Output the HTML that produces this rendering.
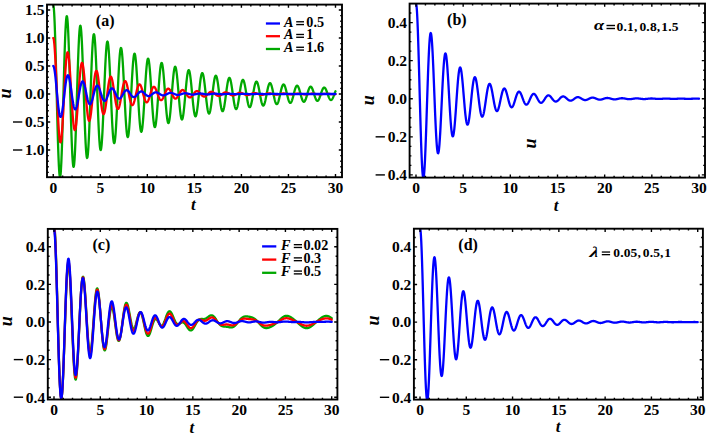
<!DOCTYPE html>
<html><head><meta charset="utf-8"><style>
html,body{margin:0;padding:0;background:#fff;}
body{width:708px;height:436px;overflow:hidden;}
svg{display:block;}
</style></head><body>
<svg width="708" height="436" viewBox="0 0 708 436">
<rect width="708" height="436" fill="#fff"/>
<clipPath id="clipa"><rect x="47.0" y="4.6" width="295.00" height="172.60"/></clipPath>
<g clip-path="url(#clipa)" fill="none" stroke-width="2.3" stroke-linejoin="round" stroke-linecap="round">
<path stroke="#00a800" d="M53.25,5.24 L53.44,5.58 L53.63,6.60 L53.81,8.28 L54.00,10.60 L54.19,13.54 L54.38,17.09 L54.57,21.21 L54.76,25.87 L54.94,31.02 L55.13,36.64 L55.32,42.68 L55.51,49.08 L55.70,55.80 L55.88,62.78 L56.07,69.98 L56.26,77.33 L56.45,84.79 L56.64,92.28 L56.83,99.76 L57.01,107.18 L57.20,114.46 L57.39,121.56 L57.58,128.43 L57.77,135.01 L57.95,141.25 L58.14,147.11 L58.33,152.55 L58.52,157.52 L58.71,162.00 L58.89,165.93 L59.08,169.31 L59.27,172.11 L59.46,174.29 L59.65,175.87 L59.84,176.81 L60.02,177.12 L60.21,176.80 L60.40,175.85 L60.59,174.28 L60.78,172.10 L60.96,169.34 L61.15,166.02 L61.34,162.16 L61.53,157.80 L61.72,152.97 L61.91,147.71 L62.09,142.06 L62.28,136.07 L62.47,129.78 L62.66,123.23 L62.85,116.49 L63.03,109.61 L63.22,102.63 L63.41,95.61 L63.60,88.60 L63.79,81.66 L63.98,74.84 L64.16,68.19 L64.35,61.76 L64.54,55.60 L64.73,49.75 L64.92,44.26 L65.10,39.17 L65.29,34.51 L65.48,30.33 L65.67,26.64 L65.86,23.47 L66.04,20.86 L66.23,18.81 L66.42,17.34 L66.61,16.45 L66.80,16.16 L66.99,16.47 L67.17,17.36 L67.36,18.83 L67.55,20.86 L67.74,23.44 L67.93,26.56 L68.11,30.17 L68.30,34.25 L68.49,38.77 L68.68,43.70 L68.87,48.99 L69.06,54.61 L69.24,60.50 L69.43,66.62 L69.62,72.94 L69.81,79.38 L70.00,85.92 L70.18,92.49 L70.37,99.05 L70.56,105.55 L70.75,111.94 L70.94,118.17 L71.13,124.19 L71.31,129.96 L71.50,135.44 L71.69,140.58 L71.88,145.35 L72.07,149.71 L72.25,153.63 L72.44,157.08 L72.63,160.04 L72.82,162.49 L73.01,164.41 L73.19,165.79 L73.38,166.62 L73.57,166.89 L73.76,166.61 L73.95,165.77 L74.14,164.40 L74.32,162.49 L74.51,160.07 L74.70,157.16 L74.89,153.78 L75.08,149.95 L75.26,145.72 L75.45,141.10 L75.64,136.15 L75.83,130.89 L76.02,125.37 L76.21,119.64 L76.39,113.73 L76.58,107.69 L76.77,101.57 L76.96,95.41 L77.15,89.27 L77.33,83.18 L77.52,77.20 L77.71,71.37 L77.90,65.73 L78.09,60.32 L78.28,55.20 L78.46,50.38 L78.65,45.92 L78.84,41.83 L79.03,38.16 L79.22,34.93 L79.40,32.15 L79.59,29.86 L79.78,28.06 L79.97,26.77 L80.16,26.00 L80.35,25.74 L80.53,26.01 L80.72,26.79 L80.91,28.08 L81.10,29.86 L81.29,32.13 L81.47,34.86 L81.66,38.02 L81.85,41.60 L82.04,45.57 L82.23,49.89 L82.41,54.53 L82.60,59.45 L82.79,64.62 L82.98,69.99 L83.17,75.53 L83.36,81.18 L83.54,86.91 L83.73,92.68 L83.92,98.43 L84.11,104.13 L84.30,109.73 L84.48,115.19 L84.67,120.48 L84.86,125.54 L85.05,130.34 L85.24,134.85 L85.43,139.03 L85.61,142.85 L85.80,146.29 L85.99,149.32 L86.18,151.92 L86.37,154.06 L86.55,155.75 L86.74,156.96 L86.93,157.68 L87.12,157.92 L87.31,157.67 L87.50,156.94 L87.68,155.73 L87.87,154.06 L88.06,151.94 L88.25,149.39 L88.44,146.42 L88.62,143.07 L88.81,139.35 L89.00,135.31 L89.19,130.96 L89.38,126.35 L89.56,121.51 L89.75,116.48 L89.94,111.30 L90.13,106.00 L90.32,100.64 L90.51,95.24 L90.69,89.85 L90.88,84.51 L91.07,79.27 L91.26,74.15 L91.45,69.21 L91.63,64.47 L91.82,59.97 L92.01,55.75 L92.20,51.83 L92.39,48.25 L92.58,45.03 L92.76,42.20 L92.95,39.77 L93.14,37.75 L93.33,36.18 L93.52,35.05 L93.70,34.37 L93.89,34.14 L94.08,34.38 L94.27,35.06 L94.46,36.19 L94.65,37.76 L94.83,39.74 L95.02,42.13 L95.21,44.91 L95.40,48.05 L95.59,51.53 L95.77,55.32 L95.96,59.39 L96.15,63.71 L96.34,68.24 L96.53,72.95 L96.71,77.80 L96.90,82.76 L97.09,87.79 L97.28,92.84 L97.47,97.89 L97.66,102.88 L97.84,107.80 L98.03,112.59 L98.22,117.22 L98.41,121.65 L98.60,125.87 L98.78,129.82 L98.97,133.49 L99.16,136.84 L99.35,139.85 L99.54,142.51 L99.73,144.79 L99.91,146.67 L100.10,148.15 L100.29,149.21 L100.48,149.84 L100.67,150.05 L100.85,149.83 L101.04,149.19 L101.23,148.14 L101.42,146.67 L101.61,144.81 L101.80,142.57 L101.98,139.97 L102.17,137.03 L102.36,133.77 L102.55,130.22 L102.74,126.41 L102.92,122.37 L103.11,118.13 L103.30,113.71 L103.49,109.17 L103.68,104.53 L103.87,99.82 L104.05,95.08 L104.24,90.36 L104.43,85.68 L104.62,81.08 L104.81,76.60 L104.99,72.26 L105.18,68.10 L105.37,64.16 L105.56,60.46 L105.75,57.02 L105.93,53.88 L106.12,51.06 L106.31,48.57 L106.50,46.44 L106.69,44.68 L106.88,43.29 L107.06,42.30 L107.25,41.71 L107.44,41.51 L107.63,41.71 L107.82,42.31 L108.00,43.30 L108.19,44.68 L108.38,46.42 L108.57,48.52 L108.76,50.95 L108.95,53.71 L109.13,56.76 L109.32,60.08 L109.51,63.65 L109.70,67.43 L109.89,71.41 L110.07,75.54 L110.26,79.79 L110.45,84.14 L110.64,88.55 L110.83,92.98 L111.02,97.41 L111.20,101.79 L111.39,106.10 L111.58,110.30 L111.77,114.36 L111.96,118.25 L112.14,121.94 L112.33,125.41 L112.52,128.63 L112.71,131.57 L112.90,134.21 L113.08,136.54 L113.27,138.54 L113.46,140.19 L113.65,141.48 L113.84,142.41 L114.03,142.97 L114.21,143.15 L114.40,142.96 L114.59,142.40 L114.78,141.47 L114.97,140.19 L115.15,138.56 L115.34,136.59 L115.53,134.31 L115.72,131.73 L115.91,128.88 L116.10,125.76 L116.28,122.42 L116.47,118.88 L116.66,115.16 L116.85,111.29 L117.04,107.30 L117.22,103.23 L117.41,99.10 L117.60,94.95 L117.79,90.81 L117.98,86.70 L118.17,82.67 L118.35,78.74 L118.54,74.93 L118.73,71.29 L118.92,67.83 L119.11,64.59 L119.29,61.57 L119.48,58.82 L119.67,56.34 L119.86,54.16 L120.05,52.29 L120.23,50.75 L120.42,49.53 L120.61,48.66 L120.80,48.14 L120.99,47.97 L121.18,48.15 L121.36,48.67 L121.55,49.54 L121.74,50.75 L121.93,52.28 L122.12,54.12 L122.30,56.25 L122.49,58.67 L122.68,61.34 L122.87,64.25 L123.06,67.38 L123.25,70.70 L123.43,74.19 L123.62,77.81 L123.81,81.54 L124.00,85.36 L124.19,89.22 L124.37,93.11 L124.56,96.99 L124.75,100.83 L124.94,104.61 L125.13,108.29 L125.32,111.85 L125.50,115.27 L125.69,118.50 L125.88,121.54 L126.07,124.36 L126.26,126.94 L126.44,129.26 L126.63,131.30 L126.82,133.06 L127.01,134.50 L127.20,135.64 L127.39,136.45 L127.57,136.94 L127.76,137.10 L127.95,136.94 L128.14,136.44 L128.33,135.63 L128.51,134.50 L128.70,133.07 L128.89,131.35 L129.08,129.35 L129.27,127.09 L129.45,124.58 L129.64,121.85 L129.83,118.92 L130.02,115.82 L130.21,112.55 L130.40,109.16 L130.58,105.67 L130.77,102.09 L130.96,98.47 L131.15,94.83 L131.34,91.20 L131.52,87.60 L131.71,84.06 L131.90,80.62 L132.09,77.28 L132.28,74.09 L132.47,71.05 L132.65,68.21 L132.84,65.57 L133.03,63.15 L133.22,60.98 L133.41,59.07 L133.59,57.43 L133.78,56.07 L133.97,55.01 L134.16,54.24 L134.35,53.79 L134.54,53.63 L134.72,53.79 L134.91,54.25 L135.10,55.02 L135.29,56.07 L135.48,57.41 L135.66,59.02 L135.85,60.90 L136.04,63.01 L136.23,65.36 L136.42,67.92 L136.60,70.66 L136.79,73.57 L136.98,76.63 L137.17,79.80 L137.36,83.08 L137.55,86.42 L137.73,89.81 L137.92,93.22 L138.11,96.62 L138.30,99.99 L138.49,103.30 L138.67,106.53 L138.86,109.66 L139.05,112.65 L139.24,115.49 L139.43,118.15 L139.62,120.63 L139.80,122.89 L139.99,124.92 L140.18,126.71 L140.37,128.25 L140.56,129.52 L140.74,130.52 L140.93,131.23 L141.12,131.66 L141.31,131.80 L141.50,131.65 L141.69,131.22 L141.87,130.51 L142.06,129.52 L142.25,128.26 L142.44,126.75 L142.63,125.00 L142.81,123.02 L143.00,120.82 L143.19,118.43 L143.38,115.86 L143.57,113.13 L143.75,110.27 L143.94,107.29 L144.13,104.23 L144.32,101.10 L144.51,97.92 L144.70,94.73 L144.88,91.55 L145.07,88.39 L145.26,85.29 L145.45,82.26 L145.64,79.34 L145.82,76.54 L146.01,73.88 L146.20,71.38 L146.39,69.06 L146.58,66.95 L146.77,65.04 L146.95,63.37 L147.14,61.93 L147.33,60.74 L147.52,59.81 L147.71,59.14 L147.89,58.73 L148.08,58.60 L148.27,58.74 L148.46,59.14 L148.65,59.81 L148.84,60.74 L149.02,61.91 L149.21,63.33 L149.40,64.97 L149.59,66.83 L149.78,68.89 L149.96,71.13 L150.15,73.53 L150.34,76.08 L150.53,78.76 L150.72,81.55 L150.91,84.42 L151.09,87.35 L151.28,90.33 L151.47,93.31 L151.66,96.30 L151.85,99.25 L152.03,102.16 L152.22,104.99 L152.41,107.73 L152.60,110.35 L152.79,112.84 L152.97,115.18 L153.16,117.35 L153.35,119.33 L153.54,121.12 L153.73,122.69 L153.92,124.03 L154.10,125.15 L154.29,126.02 L154.48,126.65 L154.67,127.02 L154.86,127.15 L155.04,127.02 L155.23,126.64 L155.42,126.01 L155.61,125.15 L155.80,124.05 L155.99,122.72 L156.17,121.18 L156.36,119.44 L156.55,117.52 L156.74,115.42 L156.93,113.17 L157.11,110.78 L157.30,108.27 L157.49,105.66 L157.68,102.97 L157.87,100.22 L158.06,97.44 L158.24,94.64 L158.43,91.85 L158.62,89.08 L158.81,86.36 L159.00,83.71 L159.18,81.14 L159.37,78.69 L159.56,76.35 L159.75,74.16 L159.94,72.13 L160.12,70.28 L160.31,68.61 L160.50,67.14 L160.69,65.87 L160.88,64.83 L161.07,64.01 L161.25,63.43 L161.44,63.07 L161.63,62.96 L161.82,63.08 L162.01,63.43 L162.19,64.02 L162.38,64.83 L162.57,65.86 L162.76,67.10 L162.95,68.54 L163.14,70.17 L163.32,71.98 L163.51,73.94 L163.70,76.05 L163.89,78.29 L164.08,80.64 L164.26,83.08 L164.45,85.60 L164.64,88.17 L164.83,90.78 L165.02,93.40 L165.21,96.02 L165.39,98.61 L165.58,101.15 L165.77,103.64 L165.96,106.04 L166.15,108.34 L166.33,110.52 L166.52,112.58 L166.71,114.48 L166.90,116.22 L167.09,117.78 L167.27,119.16 L167.46,120.34 L167.65,121.31 L167.84,122.08 L168.03,122.63 L168.22,122.96 L168.40,123.07 L168.59,122.96 L168.78,122.62 L168.97,122.07 L169.16,121.31 L169.34,120.35 L169.53,119.19 L169.72,117.84 L169.91,116.31 L170.10,114.62 L170.29,112.78 L170.47,110.81 L170.66,108.71 L170.85,106.51 L171.04,104.22 L171.23,101.87 L171.41,99.46 L171.60,97.02 L171.79,94.56 L171.98,92.11 L172.17,89.69 L172.36,87.30 L172.54,84.97 L172.73,82.73 L172.92,80.57 L173.11,78.53 L173.30,76.61 L173.48,74.82 L173.67,73.20 L173.86,71.73 L174.05,70.44 L174.24,69.34 L174.43,68.42 L174.61,67.70 L174.80,67.19 L174.99,66.88 L175.18,66.78 L175.37,66.88 L175.55,67.20 L175.74,67.71 L175.93,68.42 L176.12,69.33 L176.31,70.41 L176.49,71.68 L176.68,73.10 L176.87,74.69 L177.06,76.41 L177.25,78.26 L177.44,80.22 L177.62,82.28 L177.81,84.43 L178.00,86.63 L178.19,88.89 L178.38,91.17 L178.56,93.47 L178.75,95.77 L178.94,98.04 L179.13,100.27 L179.32,102.45 L179.51,104.56 L179.69,106.58 L179.88,108.49 L180.07,110.29 L180.26,111.96 L180.45,113.48 L180.63,114.85 L180.82,116.06 L181.01,117.10 L181.20,117.95 L181.39,118.62 L181.58,119.11 L181.76,119.40 L181.95,119.49 L182.14,119.39 L182.33,119.10 L182.52,118.62 L182.70,117.95 L182.89,117.11 L183.08,116.09 L183.27,114.90 L183.46,113.57 L183.64,112.09 L183.83,110.47 L184.02,108.74 L184.21,106.90 L184.40,104.97 L184.59,102.97 L184.77,100.90 L184.96,98.79 L185.15,96.65 L185.34,94.49 L185.53,92.34 L185.71,90.22 L185.90,88.12 L186.09,86.08 L186.28,84.11 L186.47,82.22 L186.66,80.43 L186.84,78.75 L187.03,77.18 L187.22,75.76 L187.41,74.47 L187.60,73.34 L187.78,72.37 L187.97,71.57 L188.16,70.94 L188.35,70.49 L188.54,70.22 L188.73,70.13 L188.91,70.22 L189.10,70.49 L189.29,70.95 L189.48,71.57 L189.67,72.36 L189.85,73.32 L190.04,74.42 L190.23,75.68 L190.42,77.06 L190.61,78.57 L190.79,80.20 L190.98,81.92 L191.17,83.73 L191.36,85.60 L191.55,87.54 L191.74,89.52 L191.92,91.52 L192.11,93.54 L192.30,95.55 L192.49,97.54 L192.68,99.50 L192.86,101.41 L193.05,103.26 L193.24,105.03 L193.43,106.71 L193.62,108.28 L193.81,109.75 L193.99,111.08 L194.18,112.29 L194.37,113.35 L194.56,114.25 L194.75,115.01 L194.93,115.59 L195.12,116.02 L195.31,116.27 L195.50,116.35 L195.69,116.27 L195.88,116.01 L196.06,115.59 L196.25,115.00 L196.44,114.26 L196.63,113.37 L196.82,112.33 L197.00,111.16 L197.19,109.86 L197.38,108.45 L197.57,106.93 L197.76,105.31 L197.95,103.62 L198.13,101.86 L198.32,100.05 L198.51,98.20 L198.70,96.32 L198.89,94.43 L199.07,92.55 L199.26,90.68 L199.45,88.85 L199.64,87.06 L199.83,85.33 L200.01,83.67 L200.20,82.10 L200.39,80.62 L200.58,79.25 L200.77,78.00 L200.96,76.88 L201.14,75.88 L201.33,75.03 L201.52,74.33 L201.71,73.78 L201.90,73.38 L202.08,73.15 L202.27,73.07 L202.46,73.15 L202.65,73.39 L202.84,73.78 L203.03,74.33 L203.21,75.03 L203.40,75.86 L203.59,76.83 L203.78,77.93 L203.97,79.15 L204.15,80.47 L204.34,81.90 L204.53,83.41 L204.72,84.99 L204.91,86.64 L205.10,88.33 L205.28,90.07 L205.47,91.83 L205.66,93.59 L205.85,95.36 L206.04,97.11 L206.22,98.83 L206.41,100.50 L206.60,102.12 L206.79,103.67 L206.98,105.14 L207.16,106.53 L207.35,107.81 L207.54,108.98 L207.73,110.04 L207.92,110.97 L208.11,111.76 L208.29,112.42 L208.48,112.94 L208.67,113.31 L208.86,113.53 L209.05,113.60 L209.23,113.53 L209.42,113.30 L209.61,112.93 L209.80,112.42 L209.99,111.77 L210.18,110.99 L210.36,110.08 L210.55,109.05 L210.74,107.91 L210.93,106.67 L211.12,105.34 L211.30,103.92 L211.49,102.44 L211.68,100.89 L211.87,99.31 L212.06,97.68 L212.25,96.03 L212.43,94.38 L212.62,92.73 L212.81,91.09 L213.00,89.48 L213.19,87.91 L213.37,86.40 L213.56,84.94 L213.75,83.56 L213.94,82.27 L214.13,81.07 L214.31,79.97 L214.50,78.98 L214.69,78.11 L214.88,77.37 L215.07,76.75 L215.26,76.27 L215.44,75.92 L215.63,75.71 L215.82,75.64 L216.01,75.71 L216.20,75.92 L216.38,76.27 L216.57,76.75 L216.76,77.36 L216.95,78.09 L217.14,78.95 L217.33,79.91 L217.51,80.98 L217.70,82.14 L217.89,83.39 L218.08,84.71 L218.27,86.10 L218.45,87.54 L218.64,89.03 L218.83,90.55 L219.02,92.09 L219.21,93.64 L219.40,95.19 L219.58,96.72 L219.77,98.23 L219.96,99.70 L220.15,101.12 L220.34,102.48 L220.52,103.77 L220.71,104.98 L220.90,106.11 L221.09,107.14 L221.28,108.06 L221.47,108.88 L221.65,109.58 L221.84,110.15 L222.03,110.61 L222.22,110.93 L222.41,111.13 L222.59,111.19 L222.78,111.12 L222.97,110.93 L223.16,110.60 L223.35,110.15 L223.53,109.58 L223.72,108.90 L223.91,108.10 L224.10,107.20 L224.29,106.20 L224.48,105.11 L224.66,103.94 L224.85,102.70 L225.04,101.40 L225.23,100.05 L225.42,98.65 L225.60,97.23 L225.79,95.78 L225.98,94.33 L226.17,92.88 L226.36,91.45 L226.55,90.04 L226.73,88.66 L226.92,87.33 L227.11,86.06 L227.30,84.85 L227.49,83.71 L227.67,82.66 L227.86,81.70 L228.05,80.83 L228.24,80.07 L228.43,79.41 L228.62,78.87 L228.80,78.45 L228.99,78.15 L229.18,77.96 L229.37,77.90 L229.56,77.96 L229.74,78.15 L229.93,78.45 L230.12,78.87 L230.31,79.41 L230.50,80.05 L230.68,80.80 L230.87,81.64 L231.06,82.58 L231.25,83.60 L231.44,84.69 L231.63,85.85 L231.81,87.07 L232.00,88.34 L232.19,89.64 L232.38,90.98 L232.57,92.33 L232.75,93.69 L232.94,95.05 L233.13,96.39 L233.32,97.71 L233.51,99.00 L233.70,100.24 L233.88,101.44 L234.07,102.57 L234.26,103.63 L234.45,104.62 L234.64,105.52 L234.82,106.33 L235.01,107.05 L235.20,107.66 L235.39,108.17 L235.58,108.56 L235.77,108.85 L235.95,109.02 L236.14,109.07 L236.33,109.02 L236.52,108.84 L236.71,108.56 L236.89,108.16 L237.08,107.66 L237.27,107.06 L237.46,106.36 L237.65,105.57 L237.83,104.70 L238.02,103.74 L238.21,102.72 L238.40,101.63 L238.59,100.49 L238.78,99.30 L238.96,98.08 L239.15,96.83 L239.34,95.56 L239.53,94.29 L239.72,93.02 L239.90,91.76 L240.09,90.53 L240.28,89.32 L240.47,88.15 L240.66,87.04 L240.85,85.97 L241.03,84.98 L241.22,84.06 L241.41,83.21 L241.60,82.45 L241.79,81.78 L241.97,81.21 L242.16,80.73 L242.35,80.36 L242.54,80.10 L242.73,79.94 L242.92,79.88 L243.10,79.94 L243.29,80.10 L243.48,80.37 L243.67,80.74 L243.86,81.20 L244.04,81.77 L244.23,82.42 L244.42,83.16 L244.61,83.98 L244.80,84.88 L244.99,85.84 L245.17,86.86 L245.36,87.92 L245.55,89.03 L245.74,90.18 L245.93,91.35 L246.11,92.53 L246.30,93.73 L246.49,94.92 L246.68,96.10 L246.87,97.25 L247.05,98.38 L247.24,99.48 L247.43,100.52 L247.62,101.52 L247.81,102.45 L248.00,103.31 L248.18,104.10 L248.37,104.81 L248.56,105.44 L248.75,105.98 L248.94,106.42 L249.12,106.77 L249.31,107.02 L249.50,107.17 L249.69,107.22 L249.88,107.17 L250.07,107.02 L250.25,106.77 L250.44,106.42 L250.63,105.98 L250.82,105.45 L251.01,104.84 L251.19,104.15 L251.38,103.38 L251.57,102.54 L251.76,101.64 L251.95,100.69 L252.14,99.69 L252.32,98.65 L252.51,97.58 L252.70,96.48 L252.89,95.37 L253.08,94.26 L253.26,93.14 L253.45,92.04 L253.64,90.95 L253.83,89.90 L254.02,88.87 L254.20,87.89 L254.39,86.96 L254.58,86.09 L254.77,85.28 L254.96,84.54 L255.15,83.87 L255.33,83.29 L255.52,82.78 L255.71,82.37 L255.90,82.04 L256.09,81.81 L256.27,81.67 L256.46,81.62 L256.65,81.67 L256.84,81.81 L257.03,82.04 L257.22,82.37 L257.40,82.78 L257.59,83.27 L257.78,83.85 L257.97,84.50 L258.16,85.22 L258.34,86.00 L258.53,86.84 L258.72,87.73 L258.91,88.67 L259.10,89.65 L259.29,90.65 L259.47,91.68 L259.66,92.71 L259.85,93.76 L260.04,94.80 L260.23,95.84 L260.41,96.85 L260.60,97.84 L260.79,98.80 L260.98,99.72 L261.17,100.59 L261.35,101.41 L261.54,102.17 L261.73,102.86 L261.92,103.48 L262.11,104.03 L262.30,104.50 L262.48,104.89 L262.67,105.20 L262.86,105.42 L263.05,105.55 L263.24,105.59 L263.42,105.55 L263.61,105.41 L263.80,105.20 L263.99,104.89 L264.18,104.51 L264.37,104.04 L264.55,103.51 L264.74,102.90 L264.93,102.22 L265.12,101.49 L265.31,100.70 L265.49,99.87 L265.68,98.99 L265.87,98.08 L266.06,97.14 L266.25,96.18 L266.44,95.20 L266.62,94.22 L266.81,93.25 L267.00,92.28 L267.19,91.33 L267.38,90.40 L267.56,89.50 L267.75,88.64 L267.94,87.83 L268.13,87.06 L268.32,86.35 L268.51,85.70 L268.69,85.12 L268.88,84.61 L269.07,84.16 L269.26,83.80 L269.45,83.51 L269.63,83.31 L269.82,83.18 L270.01,83.14 L270.20,83.19 L270.39,83.31 L270.57,83.52 L270.76,83.80 L270.95,84.16 L271.14,84.59 L271.33,85.10 L271.52,85.67 L271.70,86.30 L271.89,86.98 L272.08,87.72 L272.27,88.51 L272.46,89.33 L272.64,90.18 L272.83,91.06 L273.02,91.96 L273.21,92.87 L273.40,93.79 L273.59,94.70 L273.77,95.61 L273.96,96.50 L274.15,97.37 L274.34,98.21 L274.53,99.02 L274.71,99.78 L274.90,100.50 L275.09,101.16 L275.28,101.77 L275.47,102.32 L275.66,102.80 L275.84,103.21 L276.03,103.55 L276.22,103.82 L276.41,104.01 L276.60,104.13 L276.78,104.17 L276.97,104.13 L277.16,104.01 L277.35,103.82 L277.54,103.55 L277.72,103.21 L277.91,102.81 L278.10,102.34 L278.29,101.80 L278.48,101.21 L278.67,100.57 L278.85,99.88 L279.04,99.15 L279.23,98.38 L279.42,97.58 L279.61,96.75 L279.79,95.91 L279.98,95.06 L280.17,94.20 L280.36,93.34 L280.55,92.49 L280.74,91.66 L280.92,90.84 L281.11,90.06 L281.30,89.30 L281.49,88.59 L281.68,87.92 L281.86,87.29 L282.05,86.72 L282.24,86.21 L282.43,85.76 L282.62,85.37 L282.81,85.05 L282.99,84.80 L283.18,84.62 L283.37,84.52 L283.56,84.48 L283.75,84.52 L283.93,84.63 L284.12,84.81 L284.31,85.05 L284.50,85.37 L284.69,85.75 L284.87,86.19 L285.06,86.69 L285.25,87.25 L285.44,87.85 L285.63,88.50 L285.82,89.18 L286.00,89.90 L286.19,90.65 L286.38,91.42 L286.57,92.21 L286.76,93.01 L286.94,93.82 L287.13,94.62 L287.32,95.41 L287.51,96.19 L287.70,96.96 L287.89,97.69 L288.07,98.40 L288.26,99.07 L288.45,99.70 L288.64,100.28 L288.83,100.81 L289.01,101.29 L289.20,101.72 L289.39,102.08 L289.58,102.38 L289.77,102.61 L289.96,102.78 L290.14,102.88 L290.33,102.91 L290.52,102.88 L290.71,102.78 L290.90,102.61 L291.08,102.38 L291.27,102.08 L291.46,101.72 L291.65,101.31 L291.84,100.84 L292.03,100.32 L292.21,99.76 L292.40,99.15 L292.59,98.51 L292.78,97.84 L292.97,97.14 L293.15,96.41 L293.34,95.67 L293.53,94.93 L293.72,94.17 L293.91,93.42 L294.09,92.68 L294.28,91.95 L294.47,91.23 L294.66,90.54 L294.85,89.88 L295.04,89.25 L295.22,88.67 L295.41,88.12 L295.60,87.62 L295.79,87.17 L295.98,86.78 L296.16,86.44 L296.35,86.16 L296.54,85.94 L296.73,85.78 L296.92,85.68 L297.11,85.65 L297.29,85.68 L297.48,85.78 L297.67,85.94 L297.86,86.16 L298.05,86.43 L298.23,86.77 L298.42,87.15 L298.61,87.59 L298.80,88.08 L298.99,88.61 L299.18,89.17 L299.36,89.77 L299.55,90.41 L299.74,91.06 L299.93,91.74 L300.12,92.43 L300.30,93.13 L300.49,93.84 L300.68,94.54 L300.87,95.24 L301.06,95.92 L301.24,96.59 L301.43,97.24 L301.62,97.86 L301.81,98.44 L302.00,99.00 L302.19,99.51 L302.37,99.97 L302.56,100.40 L302.75,100.77 L302.94,101.08 L303.13,101.35 L303.31,101.55 L303.50,101.70 L303.69,101.79 L303.88,101.82 L304.07,101.79 L304.26,101.70 L304.44,101.55 L304.63,101.35 L304.82,101.09 L305.01,100.77 L305.20,100.41 L305.38,100.00 L305.57,99.55 L305.76,99.05 L305.95,98.52 L306.14,97.96 L306.33,97.36 L306.51,96.75 L306.70,96.12 L306.89,95.47 L307.08,94.81 L307.27,94.15 L307.45,93.49 L307.64,92.84 L307.83,92.20 L308.02,91.57 L308.21,90.97 L308.39,90.39 L308.58,89.84 L308.77,89.32 L308.96,88.84 L309.15,88.41 L309.34,88.01 L309.52,87.66 L309.71,87.37 L309.90,87.12 L310.09,86.93 L310.28,86.79 L310.46,86.71 L310.65,86.68 L310.84,86.71 L311.03,86.79 L311.22,86.93 L311.41,87.12 L311.59,87.36 L311.78,87.66 L311.97,88.00 L312.16,88.38 L312.35,88.81 L312.53,89.27 L312.72,89.77 L312.91,90.29 L313.10,90.85 L313.29,91.43 L313.48,92.02 L313.66,92.63 L313.85,93.24 L314.04,93.86 L314.23,94.48 L314.42,95.09 L314.60,95.69 L314.79,96.27 L314.98,96.84 L315.17,97.38 L315.36,97.90 L315.55,98.38 L315.73,98.83 L315.92,99.24 L316.11,99.61 L316.30,99.93 L316.49,100.21 L316.67,100.44 L316.86,100.62 L317.05,100.75 L317.24,100.83 L317.43,100.86 L317.61,100.83 L317.80,100.75 L317.99,100.62 L318.18,100.44 L318.37,100.21 L318.56,99.94 L318.74,99.62 L318.93,99.26 L319.12,98.86 L319.31,98.43 L319.50,97.96 L319.68,97.47 L319.87,96.95 L320.06,96.41 L320.25,95.86 L320.44,95.29 L320.63,94.71 L320.81,94.13 L321.00,93.55 L321.19,92.98 L321.38,92.42 L321.57,91.87 L321.75,91.34 L321.94,90.83 L322.13,90.35 L322.32,89.90 L322.51,89.48 L322.70,89.09 L322.88,88.75 L323.07,88.44 L323.26,88.18 L323.45,87.97 L323.64,87.80 L323.82,87.68 L324.01,87.60 L324.20,87.58 L324.39,87.61 L324.58,87.68 L324.76,87.80 L324.95,87.97 L325.14,88.18 L325.33,88.44 L325.52,88.74 L325.71,89.07 L325.89,89.45 L326.08,89.85 L326.27,90.29 L326.46,90.75 L326.65,91.24 L326.83,91.74 L327.02,92.26 L327.21,92.79 L327.40,93.33 L327.59,93.88 L327.78,94.42 L327.96,94.95 L328.15,95.48 L328.34,95.99 L328.53,96.49 L328.72,96.97 L328.90,97.42 L329.09,97.84 L329.28,98.23 L329.47,98.59 L329.66,98.92 L329.85,99.20 L330.03,99.45 L330.22,99.65 L330.41,99.81 L330.60,99.92 L330.79,99.99 L330.97,100.01 L331.16,99.99 L331.35,99.92 L331.54,99.81 L331.73,99.65 L331.91,99.45 L332.10,99.21 L332.29,98.93 L332.48,98.61 L332.67,98.27 L332.86,97.88 L333.04,97.48 L333.23,97.04 L333.42,96.59 L333.61,96.11 L333.80,95.63 L333.98,95.13 L334.17,94.62 L334.36,94.12 L334.55,93.61 L334.74,93.11 L334.93,92.61 L335.11,92.13 L335.30,91.67 L335.49,91.22"/>
<path stroke="#ff0000" d="M53.25,38.00 L53.44,38.17 L53.63,38.72 L53.81,39.64 L54.00,40.92 L54.19,42.55 L54.38,44.51 L54.57,46.79 L54.76,49.37 L54.94,52.23 L55.13,55.36 L55.32,58.72 L55.51,62.29 L55.70,66.05 L55.88,69.96 L56.07,74.02 L56.26,78.17 L56.45,82.40 L56.64,86.68 L56.83,90.97 L57.01,95.25 L57.20,99.49 L57.39,103.66 L57.58,107.73 L57.77,111.68 L57.95,115.48 L58.14,119.10 L58.33,122.53 L58.52,125.74 L58.71,128.71 L58.89,131.42 L59.08,133.86 L59.27,136.02 L59.46,137.87 L59.65,139.41 L59.84,140.64 L60.02,141.53 L60.21,142.11 L60.40,142.35 L60.59,142.27 L60.78,141.86 L60.96,141.13 L61.15,140.08 L61.34,138.74 L61.53,137.10 L61.72,135.19 L61.91,133.01 L62.09,130.58 L62.28,127.93 L62.47,125.07 L62.66,122.02 L62.85,118.80 L63.03,115.44 L63.22,111.97 L63.41,108.39 L63.60,104.75 L63.79,101.06 L63.98,97.36 L64.16,93.66 L64.35,89.99 L64.54,86.37 L64.73,82.84 L64.92,79.41 L65.10,76.10 L65.29,72.94 L65.48,69.94 L65.67,67.13 L65.86,64.52 L66.04,62.13 L66.23,59.98 L66.42,58.07 L66.61,56.42 L66.80,55.03 L66.99,53.92 L67.17,53.08 L67.36,52.53 L67.55,52.27 L67.74,52.28 L67.93,52.58 L68.11,53.16 L68.30,54.00 L68.49,55.11 L68.68,56.48 L68.87,58.08 L69.06,59.92 L69.24,61.97 L69.43,64.23 L69.62,66.66 L69.81,69.27 L70.00,72.02 L70.18,74.89 L70.37,77.88 L70.56,80.95 L70.75,84.08 L70.94,87.26 L71.13,90.46 L71.31,93.66 L71.50,96.83 L71.69,99.97 L71.88,103.03 L72.07,106.02 L72.25,108.90 L72.44,111.66 L72.63,114.27 L72.82,116.73 L73.01,119.02 L73.19,121.12 L73.38,123.03 L73.57,124.72 L73.76,126.19 L73.95,127.43 L74.14,128.44 L74.32,129.21 L74.51,129.73 L74.70,130.01 L74.89,130.05 L75.08,129.84 L75.26,129.39 L75.45,128.70 L75.64,127.79 L75.83,126.66 L76.02,125.31 L76.21,123.76 L76.39,122.03 L76.58,120.11 L76.77,118.04 L76.96,115.82 L77.15,113.47 L77.33,111.00 L77.52,108.44 L77.71,105.81 L77.90,103.11 L78.09,100.37 L78.28,97.61 L78.46,94.85 L78.65,92.10 L78.84,89.39 L79.03,86.72 L79.22,84.13 L79.40,81.62 L79.59,79.22 L79.78,76.93 L79.97,74.78 L80.16,72.78 L80.35,70.93 L80.53,69.25 L80.72,67.75 L80.91,66.44 L81.10,65.33 L81.29,64.42 L81.47,63.71 L81.66,63.21 L81.85,62.93 L82.04,62.86 L82.23,63.00 L82.41,63.34 L82.60,63.90 L82.79,64.65 L82.98,65.59 L83.17,66.72 L83.36,68.02 L83.54,69.49 L83.73,71.11 L83.92,72.87 L84.11,74.77 L84.30,76.77 L84.48,78.88 L84.67,81.08 L84.86,83.34 L85.05,85.66 L85.24,88.02 L85.43,90.40 L85.61,92.79 L85.80,95.17 L85.99,97.52 L86.18,99.83 L86.37,102.08 L86.55,104.26 L86.74,106.36 L86.93,108.35 L87.12,110.23 L87.31,111.99 L87.50,113.62 L87.68,115.10 L87.87,116.42 L88.06,117.59 L88.25,118.58 L88.44,119.40 L88.62,120.05 L88.81,120.51 L89.00,120.80 L89.19,120.89 L89.38,120.81 L89.56,120.55 L89.75,120.11 L89.94,119.49 L90.13,118.71 L90.32,117.77 L90.51,116.67 L90.69,115.43 L90.88,114.06 L91.07,112.56 L91.26,110.95 L91.45,109.23 L91.63,107.42 L91.82,105.54 L92.01,103.60 L92.20,101.60 L92.39,99.57 L92.58,97.52 L92.76,95.46 L92.95,93.40 L93.14,91.36 L93.33,89.36 L93.52,87.41 L93.70,85.51 L93.89,83.69 L94.08,81.94 L94.27,80.30 L94.46,78.76 L94.65,77.33 L94.83,76.03 L95.02,74.86 L95.21,73.82 L95.40,72.93 L95.59,72.19 L95.77,71.60 L95.96,71.17 L96.15,70.90 L96.34,70.78 L96.53,70.82 L96.71,71.02 L96.90,71.37 L97.09,71.87 L97.28,72.51 L97.47,73.30 L97.66,74.22 L97.84,75.27 L98.03,76.43 L98.22,77.71 L98.41,79.08 L98.60,80.54 L98.78,82.09 L98.97,83.70 L99.16,85.37 L99.35,87.09 L99.54,88.84 L99.73,90.61 L99.91,92.39 L100.10,94.16 L100.29,95.93 L100.48,97.66 L100.67,99.36 L100.85,101.01 L101.04,102.60 L101.23,104.12 L101.42,105.56 L101.61,106.90 L101.80,108.16 L101.98,109.30 L102.17,110.34 L102.36,111.26 L102.55,112.05 L102.74,112.72 L102.92,113.25 L103.11,113.65 L103.30,113.91 L103.49,114.04 L103.68,114.03 L103.87,113.89 L104.05,113.62 L104.24,113.21 L104.43,112.68 L104.62,112.02 L104.81,111.25 L104.99,110.37 L105.18,109.38 L105.37,108.30 L105.56,107.13 L105.75,105.88 L105.93,104.56 L106.12,103.18 L106.31,101.74 L106.50,100.27 L106.69,98.76 L106.88,97.24 L107.06,95.70 L107.25,94.16 L107.44,92.64 L107.63,91.13 L107.82,89.66 L108.00,88.23 L108.19,86.85 L108.38,85.52 L108.57,84.26 L108.76,83.08 L108.95,81.98 L109.13,80.97 L109.32,80.06 L109.51,79.25 L109.70,78.54 L109.89,77.94 L110.07,77.46 L110.26,77.09 L110.45,76.84 L110.64,76.70 L110.83,76.69 L111.02,76.79 L111.20,77.00 L111.39,77.33 L111.58,77.77 L111.77,78.32 L111.96,78.96 L112.14,79.71 L112.33,80.54 L112.52,81.46 L112.71,82.46 L112.90,83.52 L113.08,84.65 L113.27,85.83 L113.46,87.06 L113.65,88.33 L113.84,89.63 L114.03,90.94 L114.21,92.27 L114.40,93.59 L114.59,94.91 L114.78,96.22 L114.97,97.49 L115.15,98.74 L115.34,99.94 L115.53,101.10 L115.72,102.20 L115.91,103.23 L116.10,104.19 L116.28,105.08 L116.47,105.89 L116.66,106.61 L116.85,107.24 L117.04,107.77 L117.22,108.21 L117.41,108.55 L117.60,108.78 L117.79,108.92 L117.98,108.96 L118.17,108.89 L118.35,108.72 L118.54,108.46 L118.73,108.10 L118.92,107.64 L119.11,107.10 L119.29,106.48 L119.48,105.77 L119.67,104.99 L119.86,104.15 L120.05,103.24 L120.23,102.27 L120.42,101.26 L120.61,100.21 L120.80,99.12 L120.99,98.00 L121.18,96.87 L121.36,95.73 L121.55,94.58 L121.74,93.44 L121.93,92.31 L122.12,91.20 L122.30,90.12 L122.49,89.07 L122.68,88.07 L122.87,87.11 L123.06,86.20 L123.25,85.36 L123.43,84.58 L123.62,83.87 L123.81,83.23 L124.00,82.67 L124.19,82.19 L124.37,81.80 L124.56,81.49 L124.75,81.27 L124.94,81.13 L125.13,81.08 L125.32,81.12 L125.50,81.25 L125.69,81.46 L125.88,81.76 L126.07,82.13 L126.26,82.58 L126.44,83.11 L126.63,83.71 L126.82,84.37 L127.01,85.09 L127.20,85.86 L127.39,86.69 L127.57,87.55 L127.76,88.46 L127.95,89.39 L128.14,90.35 L128.33,91.32 L128.51,92.31 L128.70,93.30 L128.89,94.29 L129.08,95.27 L129.27,96.23 L129.45,97.17 L129.64,98.08 L129.83,98.95 L130.02,99.79 L130.21,100.58 L130.40,101.32 L130.58,102.01 L130.77,102.63 L130.96,103.19 L131.15,103.69 L131.34,104.12 L131.52,104.47 L131.71,104.76 L131.90,104.96 L132.09,105.10 L132.28,105.15 L132.47,105.13 L132.65,105.04 L132.84,104.87 L133.03,104.63 L133.22,104.32 L133.41,103.94 L133.59,103.50 L133.78,103.00 L133.97,102.44 L134.16,101.83 L134.35,101.17 L134.54,100.46 L134.72,99.72 L134.91,98.95 L135.10,98.14 L135.29,97.32 L135.48,96.48 L135.66,95.63 L135.85,94.77 L136.04,93.92 L136.23,93.07 L136.42,92.24 L136.60,91.43 L136.79,90.63 L136.98,89.87 L137.17,89.14 L137.36,88.45 L137.55,87.80 L137.73,87.20 L137.92,86.65 L138.11,86.15 L138.30,85.71 L138.49,85.33 L138.67,85.01 L138.86,84.76 L139.05,84.56 L139.24,84.44 L139.43,84.37 L139.62,84.38 L139.80,84.45 L139.99,84.58 L140.18,84.77 L140.37,85.03 L140.56,85.35 L140.74,85.72 L140.93,86.14 L141.12,86.61 L141.31,87.13 L141.50,87.70 L141.69,88.30 L141.87,88.93 L142.06,89.59 L142.25,90.28 L142.44,90.99 L142.63,91.71 L142.81,92.45 L143.00,93.18 L143.19,93.92 L143.38,94.65 L143.57,95.38 L143.75,96.08 L143.94,96.77 L144.13,97.44 L144.32,98.07 L144.51,98.68 L144.70,99.24 L144.88,99.77 L145.07,100.26 L145.26,100.69 L145.45,101.08 L145.64,101.42 L145.82,101.71 L146.01,101.94 L146.20,102.12 L146.39,102.24 L146.58,102.31 L146.77,102.31 L146.95,102.27 L147.14,102.16 L147.33,102.00 L147.52,101.79 L147.71,101.53 L147.89,101.22 L148.08,100.86 L148.27,100.46 L148.46,100.02 L148.65,99.54 L148.84,99.03 L149.02,98.49 L149.21,97.92 L149.40,97.33 L149.59,96.72 L149.78,96.10 L149.96,95.47 L150.15,94.83 L150.34,94.20 L150.53,93.56 L150.72,92.94 L150.91,92.32 L151.09,91.72 L151.28,91.15 L151.47,90.59 L151.66,90.06 L151.85,89.57 L152.03,89.10 L152.22,88.68 L152.41,88.29 L152.60,87.95 L152.79,87.64 L152.97,87.39 L153.16,87.18 L153.35,87.01 L153.54,86.90 L153.73,86.83 L153.92,86.82 L154.10,86.85 L154.29,86.93 L154.48,87.06 L154.67,87.23 L154.86,87.45 L155.04,87.71 L155.23,88.01 L155.42,88.35 L155.61,88.72 L155.80,89.13 L155.99,89.56 L156.17,90.03 L156.36,90.51 L156.55,91.02 L156.74,91.54 L156.93,92.08 L157.11,92.62 L157.30,93.17 L157.49,93.72 L157.68,94.27 L157.87,94.81 L158.06,95.34 L158.24,95.86 L158.43,96.37 L158.62,96.85 L158.81,97.31 L159.00,97.74 L159.18,98.15 L159.37,98.52 L159.56,98.87 L159.75,99.17 L159.94,99.44 L160.12,99.67 L160.31,99.86 L160.50,100.01 L160.69,100.12 L160.88,100.18 L161.07,100.20 L161.25,100.18 L161.44,100.12 L161.63,100.02 L161.82,99.88 L162.01,99.70 L162.19,99.48 L162.38,99.23 L162.57,98.94 L162.76,98.63 L162.95,98.28 L163.14,97.91 L163.32,97.51 L163.51,97.10 L163.70,96.66 L163.89,96.21 L164.08,95.75 L164.26,95.28 L164.45,94.81 L164.64,94.34 L164.83,93.86 L165.02,93.39 L165.21,92.93 L165.39,92.48 L165.58,92.04 L165.77,91.62 L165.96,91.22 L166.15,90.84 L166.33,90.48 L166.52,90.16 L166.71,89.85 L166.90,89.58 L167.09,89.35 L167.27,89.14 L167.46,88.97 L167.65,88.83 L167.84,88.73 L168.03,88.67 L168.22,88.64 L168.40,88.65 L168.59,88.70 L168.78,88.78 L168.97,88.90 L169.16,89.04 L169.34,89.23 L169.53,89.44 L169.72,89.68 L169.91,89.95 L170.10,90.24 L170.29,90.56 L170.47,90.90 L170.66,91.25 L170.85,91.62 L171.04,92.01 L171.23,92.41 L171.41,92.81 L171.60,93.22 L171.79,93.63 L171.98,94.04 L172.17,94.44 L172.36,94.84 L172.54,95.24 L172.73,95.62 L172.92,95.98 L173.11,96.33 L173.30,96.67 L173.48,96.98 L173.67,97.27 L173.86,97.53 L174.05,97.77 L174.24,97.98 L174.43,98.16 L174.61,98.32 L174.80,98.44 L174.99,98.53 L175.18,98.59 L175.37,98.62 L175.55,98.62 L175.74,98.59 L175.93,98.52 L176.12,98.43 L176.31,98.31 L176.49,98.16 L176.68,97.98 L176.87,97.77 L177.06,97.55 L177.25,97.30 L177.44,97.03 L177.62,96.74 L177.81,96.44 L178.00,96.12 L178.19,95.79 L178.38,95.45 L178.56,95.10 L178.75,94.75 L178.94,94.39 L179.13,94.04 L179.32,93.69 L179.51,93.34 L179.69,93.00 L179.88,92.67 L180.07,92.35 L180.26,92.04 L180.45,91.75 L180.63,91.48 L180.82,91.23 L181.01,91.00 L181.20,90.78 L181.39,90.60 L181.58,90.43 L181.76,90.30 L181.95,90.19 L182.14,90.10 L182.33,90.04 L182.52,90.01 L182.70,90.01 L182.89,90.03 L183.08,90.08 L183.27,90.16 L183.46,90.26 L183.64,90.38 L183.83,90.53 L184.02,90.70 L184.21,90.90 L184.40,91.11 L184.59,91.34 L184.77,91.58 L184.96,91.84 L185.15,92.12 L185.34,92.40 L185.53,92.69 L185.71,92.99 L185.90,93.29 L186.09,93.60 L186.28,93.91 L186.47,94.21 L186.66,94.51 L186.84,94.81 L187.03,95.09 L187.22,95.37 L187.41,95.64 L187.60,95.89 L187.78,96.13 L187.97,96.35 L188.16,96.56 L188.35,96.74 L188.54,96.91 L188.73,97.05 L188.91,97.18 L189.10,97.28 L189.29,97.36 L189.48,97.41 L189.67,97.44 L189.85,97.45 L190.04,97.43 L190.23,97.40 L190.42,97.33 L190.61,97.25 L190.79,97.15 L190.98,97.02 L191.17,96.88 L191.36,96.72 L191.55,96.54 L191.74,96.34 L191.92,96.13 L192.11,95.91 L192.30,95.67 L192.49,95.43 L192.68,95.18 L192.86,94.92 L193.05,94.66 L193.24,94.40 L193.43,94.13 L193.62,93.87 L193.81,93.61 L193.99,93.35 L194.18,93.10 L194.37,92.86 L194.56,92.63 L194.75,92.41 L194.93,92.20 L195.12,92.01 L195.31,91.83 L195.50,91.66 L195.69,91.52 L195.88,91.39 L196.06,91.28 L196.25,91.19 L196.44,91.11 L196.63,91.06 L196.82,91.03 L197.00,91.02 L197.19,91.03 L197.38,91.06 L197.57,91.11 L197.76,91.18 L197.95,91.26 L198.13,91.37 L198.32,91.49 L198.51,91.63 L198.70,91.78 L198.89,91.94 L199.07,92.12 L199.26,92.31 L199.45,92.51 L199.64,92.72 L199.83,92.94 L200.01,93.16 L200.20,93.38 L200.39,93.61 L200.58,93.84 L200.77,94.07 L200.96,94.29 L201.14,94.51 L201.33,94.73 L201.52,94.94 L201.71,95.14 L201.90,95.34 L202.08,95.52 L202.27,95.69 L202.46,95.85 L202.65,95.99 L202.84,96.12 L203.03,96.24 L203.21,96.33 L203.40,96.42 L203.59,96.48 L203.78,96.53 L203.97,96.56 L204.15,96.57 L204.34,96.57 L204.53,96.55 L204.72,96.51 L204.91,96.45 L205.10,96.38 L205.28,96.29 L205.47,96.19 L205.66,96.08 L205.85,95.95 L206.04,95.80 L206.22,95.65 L206.41,95.49 L206.60,95.32 L206.79,95.14 L206.98,94.96 L207.16,94.77 L207.35,94.57 L207.54,94.38 L207.73,94.18 L207.92,93.98 L208.11,93.79 L208.29,93.59 L208.48,93.41 L208.67,93.22 L208.86,93.05 L209.05,92.88 L209.23,92.72 L209.42,92.57 L209.61,92.43 L209.80,92.30 L209.99,92.19 L210.18,92.09 L210.36,92.00 L210.55,91.93 L210.74,91.87 L210.93,91.82 L211.12,91.79 L211.30,91.78 L211.49,91.78 L211.68,91.80 L211.87,91.83 L212.06,91.87 L212.25,91.93 L212.43,92.00 L212.62,92.09 L212.81,92.19 L213.00,92.30 L213.19,92.42 L213.37,92.55 L213.56,92.68 L213.75,92.83 L213.94,92.98 L214.13,93.14 L214.31,93.31 L214.50,93.47 L214.69,93.64 L214.88,93.81 L215.07,93.98 L215.26,94.15 L215.44,94.32 L215.63,94.48 L215.82,94.64 L216.01,94.79 L216.20,94.94 L216.38,95.08 L216.57,95.21 L216.76,95.33 L216.95,95.44 L217.14,95.54 L217.33,95.63 L217.51,95.71 L217.70,95.78 L217.89,95.83 L218.08,95.87 L218.27,95.90 L218.45,95.92 L218.64,95.92 L218.83,95.91 L219.02,95.88 L219.21,95.85 L219.40,95.80 L219.58,95.74 L219.77,95.67 L219.96,95.58 L220.15,95.49 L220.34,95.39 L220.52,95.28 L220.71,95.16 L220.90,95.04 L221.09,94.90 L221.28,94.77 L221.47,94.63 L221.65,94.48 L221.84,94.34 L222.03,94.19 L222.22,94.05 L222.41,93.90 L222.59,93.75 L222.78,93.61 L222.97,93.47 L223.16,93.34 L223.35,93.21 L223.53,93.09 L223.72,92.98 L223.91,92.87 L224.10,92.77 L224.29,92.68 L224.48,92.60 L224.66,92.53 L224.85,92.47 L225.04,92.43 L225.23,92.39 L225.42,92.36 L225.60,92.35 L225.79,92.34 L225.98,92.35 L226.17,92.37 L226.36,92.40 L226.55,92.44 L226.73,92.49 L226.92,92.55 L227.11,92.62 L227.30,92.70 L227.49,92.78 L227.67,92.88 L227.86,92.98 L228.05,93.08 L228.24,93.20 L228.43,93.31 L228.62,93.43 L228.80,93.56 L228.99,93.68 L229.18,93.81 L229.37,93.94 L229.56,94.06 L229.74,94.19 L229.93,94.31 L230.12,94.43 L230.31,94.55 L230.50,94.66 L230.68,94.76 L230.87,94.86 L231.06,94.96 L231.25,95.04 L231.44,95.12 L231.63,95.19 L231.81,95.25 L232.00,95.31 L232.19,95.35 L232.38,95.39 L232.57,95.41 L232.75,95.43 L232.94,95.43 L233.13,95.43 L233.32,95.41 L233.51,95.39 L233.70,95.36 L233.88,95.31 L234.07,95.26 L234.26,95.21 L234.45,95.14 L234.64,95.07 L234.82,94.99 L235.01,94.90 L235.20,94.81 L235.39,94.71 L235.58,94.61 L235.77,94.51 L235.95,94.40 L236.14,94.30 L236.33,94.19 L236.52,94.08 L236.71,93.97 L236.89,93.86 L237.08,93.75 L237.27,93.65 L237.46,93.55 L237.65,93.45 L237.83,93.36 L238.02,93.27 L238.21,93.19 L238.40,93.11 L238.59,93.04 L238.78,92.98 L238.96,92.93 L239.15,92.88 L239.34,92.84 L239.53,92.81 L239.72,92.79 L239.90,92.77 L240.09,92.76 L240.28,92.77 L240.47,92.78 L240.66,92.80 L240.85,92.82 L241.03,92.86 L241.22,92.90 L241.41,92.95 L241.60,93.00 L241.79,93.07 L241.97,93.13 L242.16,93.21 L242.35,93.28 L242.54,93.37 L242.73,93.45 L242.92,93.54 L243.10,93.63 L243.29,93.73 L243.48,93.82 L243.67,93.91 L243.86,94.01 L244.04,94.10 L244.23,94.19 L244.42,94.29 L244.61,94.37 L244.80,94.46 L244.99,94.54 L245.17,94.61 L245.36,94.69 L245.55,94.75 L245.74,94.81 L245.93,94.87 L246.11,94.92 L246.30,94.96 L246.49,95.00 L246.68,95.02 L246.87,95.05 L247.05,95.06 L247.24,95.07 L247.43,95.07 L247.62,95.06 L247.81,95.04 L248.00,95.02 L248.18,94.99 L248.37,94.96 L248.56,94.92 L248.75,94.87 L248.94,94.82 L249.12,94.76 L249.31,94.70 L249.50,94.63 L249.69,94.56 L249.88,94.49 L250.07,94.41 L250.25,94.33 L250.44,94.25 L250.63,94.17 L250.82,94.09 L251.01,94.01 L251.19,93.93 L251.38,93.85 L251.57,93.77 L251.76,93.69 L251.95,93.62 L252.14,93.55 L252.32,93.48 L252.51,93.42 L252.70,93.36 L252.89,93.31 L253.08,93.26 L253.26,93.22 L253.45,93.18 L253.64,93.15 L253.83,93.12 L254.02,93.10 L254.20,93.09 L254.39,93.08 L254.58,93.08 L254.77,93.08 L254.96,93.10 L255.15,93.11 L255.33,93.14 L255.52,93.17 L255.71,93.20 L255.90,93.24 L256.09,93.28 L256.27,93.33 L256.46,93.39 L256.65,93.44 L256.84,93.50 L257.03,93.57 L257.22,93.63 L257.40,93.70 L257.59,93.77 L257.78,93.84 L257.97,93.91 L258.16,93.98 L258.34,94.05 L258.53,94.12 L258.72,94.19 L258.91,94.25 L259.10,94.32 L259.29,94.38 L259.47,94.44 L259.66,94.49 L259.85,94.54 L260.04,94.59 L260.23,94.63 L260.41,94.67 L260.60,94.70 L260.79,94.73 L260.98,94.76 L261.17,94.77 L261.35,94.79 L261.54,94.79 L261.73,94.80 L261.92,94.79 L262.11,94.78 L262.30,94.77 L262.48,94.75 L262.67,94.73 L262.86,94.70 L263.05,94.66 L263.24,94.63 L263.42,94.58 L263.61,94.54 L263.80,94.49 L263.99,94.44 L264.18,94.39 L264.37,94.33 L264.55,94.27 L264.74,94.21 L264.93,94.15 L265.12,94.09 L265.31,94.03 L265.49,93.97 L265.68,93.91 L265.87,93.85 L266.06,93.79 L266.25,93.74 L266.44,93.68 L266.62,93.63 L266.81,93.59 L267.00,93.54 L267.19,93.50 L267.38,93.46 L267.56,93.43 L267.75,93.40 L267.94,93.37 L268.13,93.35 L268.32,93.33 L268.51,93.32 L268.69,93.32 L268.88,93.31 L269.07,93.32 L269.26,93.32 L269.45,93.33 L269.63,93.35 L269.82,93.37 L270.01,93.39 L270.20,93.42 L270.39,93.45 L270.57,93.49 L270.76,93.53 L270.95,93.57 L271.14,93.61 L271.33,93.66 L271.52,93.71 L271.70,93.75 L271.89,93.81 L272.08,93.86 L272.27,93.91 L272.46,93.96 L272.64,94.02 L272.83,94.07 L273.02,94.12 L273.21,94.17 L273.40,94.22 L273.59,94.26 L273.77,94.31 L273.96,94.35 L274.15,94.39 L274.34,94.43 L274.53,94.46 L274.71,94.49 L274.90,94.52 L275.09,94.54 L275.28,94.56 L275.47,94.57 L275.66,94.58 L275.84,94.59 L276.03,94.59 L276.22,94.59 L276.41,94.59 L276.60,94.58 L276.78,94.57 L276.97,94.55 L277.16,94.53 L277.35,94.51 L277.54,94.48 L277.72,94.45 L277.91,94.42 L278.10,94.38 L278.29,94.34 L278.48,94.30 L278.67,94.26 L278.85,94.22 L279.04,94.18 L279.23,94.13 L279.42,94.09 L279.61,94.04 L279.79,94.00 L279.98,93.95 L280.17,93.91 L280.36,93.86 L280.55,93.82 L280.74,93.78 L280.92,93.74 L281.11,93.70 L281.30,93.67 L281.49,93.64 L281.68,93.61 L281.86,93.58 L282.05,93.56 L282.24,93.54 L282.43,93.52 L282.62,93.51 L282.81,93.50 L282.99,93.49 L283.18,93.49 L283.37,93.49 L283.56,93.49 L283.75,93.50 L283.93,93.51 L284.12,93.52 L284.31,93.54 L284.50,93.56 L284.69,93.58 L284.87,93.61 L285.06,93.63 L285.25,93.66 L285.44,93.70 L285.63,93.73 L285.82,93.77 L286.00,93.80 L286.19,93.84 L286.38,93.88 L286.57,93.92 L286.76,93.96 L286.94,94.00 L287.13,94.03 L287.32,94.07 L287.51,94.11 L287.70,94.15 L287.89,94.18 L288.07,94.22 L288.26,94.25 L288.45,94.28 L288.64,94.31 L288.83,94.33 L289.01,94.36 L289.20,94.38 L289.39,94.39 L289.58,94.41 L289.77,94.42 L289.96,94.43 L290.14,94.44 L290.33,94.44 L290.52,94.44 L290.71,94.44 L290.90,94.43 L291.08,94.43 L291.27,94.41 L291.46,94.40 L291.65,94.38 L291.84,94.37 L292.03,94.34 L292.21,94.32 L292.40,94.29 L292.59,94.27 L292.78,94.24 L292.97,94.21 L293.15,94.18 L293.34,94.14 L293.53,94.11 L293.72,94.08 L293.91,94.04 L294.09,94.01 L294.28,93.98 L294.47,93.94 L294.66,93.91 L294.85,93.88 L295.04,93.85 L295.22,93.82 L295.41,93.79 L295.60,93.76 L295.79,93.74 L295.98,93.72 L296.16,93.70 L296.35,93.68 L296.54,93.66 L296.73,93.65 L296.92,93.64 L297.11,93.63 L297.29,93.62 L297.48,93.62 L297.67,93.62 L297.86,93.62 L298.05,93.62 L298.23,93.63 L298.42,93.64 L298.61,93.65 L298.80,93.67 L298.99,93.68 L299.18,93.70 L299.36,93.72 L299.55,93.74 L299.74,93.76 L299.93,93.79 L300.12,93.81 L300.30,93.84 L300.49,93.87 L300.68,93.90 L300.87,93.93 L301.06,93.96 L301.24,93.99 L301.43,94.01 L301.62,94.04 L301.81,94.07 L302.00,94.10 L302.19,94.13 L302.37,94.15 L302.56,94.18 L302.75,94.20 L302.94,94.22 L303.13,94.24 L303.31,94.26 L303.50,94.28 L303.69,94.29 L303.88,94.30 L304.07,94.31 L304.26,94.32 L304.44,94.33 L304.63,94.33 L304.82,94.33 L305.01,94.33 L305.20,94.33 L305.38,94.32 L305.57,94.31 L305.76,94.30 L305.95,94.29 L306.14,94.28 L306.33,94.26 L306.51,94.25 L306.70,94.23 L306.89,94.21 L307.08,94.19 L307.27,94.16 L307.45,94.14 L307.64,94.12 L307.83,94.09 L308.02,94.07 L308.21,94.04 L308.39,94.02 L308.58,93.99 L308.77,93.97 L308.96,93.94 L309.15,93.92 L309.34,93.90 L309.52,93.87 L309.71,93.85 L309.90,93.83 L310.09,93.81 L310.28,93.80 L310.46,93.78 L310.65,93.77 L310.84,93.75 L311.03,93.74 L311.22,93.73 L311.41,93.73 L311.59,93.72 L311.78,93.72 L311.97,93.72 L312.16,93.72 L312.35,93.72 L312.53,93.72 L312.72,93.73 L312.91,93.74 L313.10,93.75 L313.29,93.76 L313.48,93.77 L313.66,93.78 L313.85,93.80 L314.04,93.82 L314.23,93.83 L314.42,93.85 L314.60,93.87 L314.79,93.89 L314.98,93.92 L315.17,93.94 L315.36,93.96 L315.55,93.98 L315.73,94.00 L315.92,94.02 L316.11,94.04 L316.30,94.07 L316.49,94.09 L316.67,94.11 L316.86,94.12 L317.05,94.14 L317.24,94.16 L317.43,94.17 L317.61,94.19 L317.80,94.20 L317.99,94.21 L318.18,94.22 L318.37,94.23 L318.56,94.24 L318.74,94.24 L318.93,94.24 L319.12,94.25 L319.31,94.25 L319.50,94.24 L319.68,94.24 L319.87,94.24 L320.06,94.23 L320.25,94.22 L320.44,94.21 L320.63,94.20 L320.81,94.19 L321.00,94.18 L321.19,94.16 L321.38,94.15 L321.57,94.13 L321.75,94.11 L321.94,94.09 L322.13,94.08 L322.32,94.06 L322.51,94.04 L322.70,94.02 L322.88,94.00 L323.07,93.98 L323.26,93.96 L323.45,93.95 L323.64,93.93 L323.82,93.91 L324.01,93.90 L324.20,93.88 L324.39,93.87 L324.58,93.85 L324.76,93.84 L324.95,93.83 L325.14,93.82 L325.33,93.81 L325.52,93.80 L325.71,93.80 L325.89,93.79 L326.08,93.79 L326.27,93.79 L326.46,93.79 L326.65,93.79 L326.83,93.79 L327.02,93.80 L327.21,93.80 L327.40,93.81 L327.59,93.82 L327.78,93.82 L327.96,93.83 L328.15,93.85 L328.34,93.86 L328.53,93.87 L328.72,93.89 L328.90,93.90 L329.09,93.91 L329.28,93.93 L329.47,93.95 L329.66,93.96 L329.85,93.98 L330.03,94.00 L330.22,94.01 L330.41,94.03 L330.60,94.04 L330.79,94.06 L330.97,94.07 L331.16,94.09 L331.35,94.10 L331.54,94.11 L331.73,94.13 L331.91,94.14 L332.10,94.15 L332.29,94.15 L332.48,94.16 L332.67,94.17 L332.86,94.17 L333.04,94.18 L333.23,94.18 L333.42,94.18 L333.61,94.18 L333.80,94.18 L333.98,94.18 L334.17,94.18 L334.36,94.17 L334.55,94.17 L334.74,94.16 L334.93,94.15 L335.11,94.14 L335.30,94.13 L335.49,94.12"/>
<path stroke="#0000ff" d="M53.25,66.00 L53.44,66.10 L53.63,66.38 L53.81,66.83 L54.00,67.46 L54.19,68.25 L54.38,69.20 L54.57,70.30 L54.76,71.55 L54.94,72.92 L55.13,74.42 L55.32,76.03 L55.51,77.74 L55.70,79.54 L55.88,81.41 L56.07,83.35 L56.26,85.34 L56.45,87.36 L56.64,89.40 L56.83,91.45 L57.01,93.50 L57.20,95.53 L57.39,97.53 L57.58,99.49 L57.77,101.39 L57.95,103.23 L58.14,104.98 L58.33,106.65 L58.52,108.22 L58.71,109.68 L58.89,111.02 L59.08,112.24 L59.27,113.33 L59.46,114.28 L59.65,115.09 L59.84,115.76 L60.02,116.28 L60.21,116.64 L60.40,116.86 L60.59,116.93 L60.78,116.85 L60.96,116.62 L61.15,116.25 L61.34,115.74 L61.53,115.09 L61.72,114.31 L61.91,113.41 L62.09,112.39 L62.28,111.26 L62.47,110.04 L62.66,108.72 L62.85,107.32 L63.03,105.84 L63.22,104.31 L63.41,102.72 L63.60,101.10 L63.79,99.44 L63.98,97.77 L64.16,96.09 L64.35,94.41 L64.54,92.74 L64.73,91.11 L64.92,89.50 L65.10,87.95 L65.29,86.44 L65.48,85.01 L65.67,83.64 L65.86,82.36 L66.04,81.16 L66.23,80.06 L66.42,79.06 L66.61,78.17 L66.80,77.39 L66.99,76.73 L67.17,76.18 L67.36,75.76 L67.55,75.45 L67.74,75.27 L67.93,75.22 L68.11,75.29 L68.30,75.47 L68.49,75.78 L68.68,76.20 L68.87,76.73 L69.06,77.37 L69.24,78.10 L69.43,78.94 L69.62,79.86 L69.81,80.87 L70.00,81.95 L70.18,83.09 L70.37,84.30 L70.56,85.56 L70.75,86.86 L70.94,88.19 L71.13,89.54 L71.31,90.92 L71.50,92.29 L71.69,93.67 L71.88,95.03 L72.07,96.37 L72.25,97.68 L72.44,98.96 L72.63,100.19 L72.82,101.37 L73.01,102.48 L73.19,103.54 L73.38,104.51 L73.57,105.42 L73.76,106.23 L73.95,106.96 L74.14,107.60 L74.32,108.15 L74.51,108.59 L74.70,108.94 L74.89,109.19 L75.08,109.34 L75.26,109.38 L75.45,109.33 L75.64,109.17 L75.83,108.92 L76.02,108.58 L76.21,108.15 L76.39,107.62 L76.58,107.02 L76.77,106.34 L76.96,105.58 L77.15,104.76 L77.33,103.87 L77.52,102.93 L77.71,101.94 L77.90,100.91 L78.09,99.85 L78.28,98.76 L78.46,97.65 L78.65,96.53 L78.84,95.40 L79.03,94.27 L79.22,93.16 L79.40,92.06 L79.59,90.98 L79.78,89.94 L79.97,88.93 L80.16,87.97 L80.35,87.05 L80.53,86.19 L80.72,85.39 L80.91,84.65 L81.10,83.98 L81.29,83.38 L81.47,82.86 L81.66,82.41 L81.85,82.05 L82.04,81.76 L82.23,81.56 L82.41,81.44 L82.60,81.40 L82.79,81.45 L82.98,81.57 L83.17,81.78 L83.36,82.06 L83.54,82.41 L83.73,82.84 L83.92,83.34 L84.11,83.90 L84.30,84.52 L84.48,85.19 L84.67,85.92 L84.86,86.69 L85.05,87.49 L85.24,88.34 L85.43,89.21 L85.61,90.10 L85.80,91.01 L85.99,91.93 L86.18,92.85 L86.37,93.78 L86.55,94.69 L86.74,95.59 L86.93,96.47 L87.12,97.33 L87.31,98.15 L87.50,98.94 L87.68,99.69 L87.87,100.40 L88.06,101.05 L88.25,101.66 L88.44,102.21 L88.62,102.70 L88.81,103.12 L89.00,103.49 L89.19,103.79 L89.38,104.02 L89.56,104.19 L89.75,104.29 L89.94,104.32 L90.13,104.28 L90.32,104.18 L90.51,104.01 L90.69,103.78 L90.88,103.49 L91.07,103.14 L91.26,102.73 L91.45,102.27 L91.63,101.77 L91.82,101.21 L92.01,100.62 L92.20,99.99 L92.39,99.33 L92.58,98.64 L92.76,97.92 L92.95,97.19 L93.14,96.45 L93.33,95.69 L93.52,94.94 L93.70,94.18 L93.89,93.44 L94.08,92.70 L94.27,91.98 L94.46,91.28 L94.65,90.60 L94.83,89.95 L95.02,89.34 L95.21,88.76 L95.40,88.22 L95.59,87.73 L95.77,87.28 L95.96,86.88 L96.15,86.53 L96.34,86.23 L96.53,85.98 L96.71,85.79 L96.90,85.66 L97.09,85.58 L97.28,85.55 L97.47,85.58 L97.66,85.66 L97.84,85.80 L98.03,85.99 L98.22,86.23 L98.41,86.52 L98.60,86.85 L98.78,87.22 L98.97,87.64 L99.16,88.09 L99.35,88.58 L99.54,89.09 L99.73,89.64 L99.91,90.20 L100.10,90.79 L100.29,91.39 L100.48,92.00 L100.67,92.61 L100.85,93.23 L101.04,93.85 L101.23,94.46 L101.42,95.07 L101.61,95.66 L101.80,96.23 L101.98,96.78 L102.17,97.31 L102.36,97.82 L102.55,98.29 L102.74,98.73 L102.92,99.14 L103.11,99.50 L103.30,99.83 L103.49,100.12 L103.68,100.36 L103.87,100.57 L104.05,100.72 L104.24,100.83 L104.43,100.90 L104.62,100.92 L104.81,100.90 L104.99,100.83 L105.18,100.71 L105.37,100.56 L105.56,100.36 L105.75,100.13 L105.93,99.86 L106.12,99.55 L106.31,99.21 L106.50,98.84 L106.69,98.44 L106.88,98.02 L107.06,97.57 L107.25,97.11 L107.44,96.63 L107.63,96.14 L107.82,95.64 L108.00,95.14 L108.19,94.63 L108.38,94.12 L108.57,93.62 L108.76,93.13 L108.95,92.64 L109.13,92.17 L109.32,91.72 L109.51,91.29 L109.70,90.87 L109.89,90.49 L110.07,90.13 L110.26,89.79 L110.45,89.49 L110.64,89.22 L110.83,88.99 L111.02,88.79 L111.20,88.62 L111.39,88.49 L111.58,88.40 L111.77,88.35 L111.96,88.33 L112.14,88.35 L112.33,88.41 L112.52,88.50 L112.71,88.63 L112.90,88.79 L113.08,88.98 L113.27,89.20 L113.46,89.45 L113.65,89.73 L113.84,90.04 L114.03,90.36 L114.21,90.71 L114.40,91.07 L114.59,91.45 L114.78,91.84 L114.97,92.25 L115.15,92.66 L115.34,93.07 L115.53,93.48 L115.72,93.90 L115.91,94.31 L116.10,94.72 L116.28,95.11 L116.47,95.50 L116.66,95.87 L116.85,96.22 L117.04,96.56 L117.22,96.88 L117.41,97.17 L117.60,97.44 L117.79,97.69 L117.98,97.91 L118.17,98.10 L118.35,98.27 L118.54,98.40 L118.73,98.51 L118.92,98.58 L119.11,98.63 L119.29,98.64 L119.48,98.63 L119.67,98.58 L119.86,98.50 L120.05,98.40 L120.23,98.27 L120.42,98.11 L120.61,97.93 L120.80,97.72 L120.99,97.49 L121.18,97.25 L121.36,96.98 L121.55,96.70 L121.74,96.40 L121.93,96.09 L122.12,95.77 L122.30,95.44 L122.49,95.10 L122.68,94.76 L122.87,94.42 L123.06,94.08 L123.25,93.75 L123.43,93.41 L123.62,93.09 L123.81,92.77 L124.00,92.47 L124.19,92.18 L124.37,91.90 L124.56,91.64 L124.75,91.40 L124.94,91.18 L125.13,90.98 L125.32,90.80 L125.50,90.64 L125.69,90.50 L125.88,90.39 L126.07,90.31 L126.26,90.25 L126.44,90.21 L126.63,90.20 L126.82,90.21 L127.01,90.25 L127.20,90.31 L127.39,90.40 L127.57,90.50 L127.76,90.63 L127.95,90.78 L128.14,90.95 L128.33,91.14 L128.51,91.34 L128.70,91.56 L128.89,91.79 L129.08,92.04 L129.27,92.29 L129.45,92.55 L129.64,92.82 L129.83,93.10 L130.02,93.38 L130.21,93.65 L130.40,93.93 L130.58,94.21 L130.77,94.48 L130.96,94.75 L131.15,95.00 L131.34,95.25 L131.52,95.49 L131.71,95.72 L131.90,95.93 L132.09,96.13 L132.28,96.31 L132.47,96.48 L132.65,96.62 L132.84,96.75 L133.03,96.86 L133.22,96.95 L133.41,97.02 L133.59,97.07 L133.78,97.10 L133.97,97.11 L134.16,97.10 L134.35,97.07 L134.54,97.02 L134.72,96.95 L134.91,96.86 L135.10,96.76 L135.29,96.64 L135.48,96.50 L135.66,96.34 L135.85,96.18 L136.04,96.00 L136.23,95.81 L136.42,95.61 L136.60,95.40 L136.79,95.18 L136.98,94.96 L137.17,94.74 L137.36,94.51 L137.55,94.28 L137.73,94.06 L137.92,93.83 L138.11,93.61 L138.30,93.39 L138.49,93.18 L138.67,92.97 L138.86,92.78 L139.05,92.59 L139.24,92.42 L139.43,92.26 L139.62,92.11 L139.80,91.97 L139.99,91.85 L140.18,91.75 L140.37,91.65 L140.56,91.58 L140.74,91.52 L140.93,91.48 L141.12,91.46 L141.31,91.45 L141.50,91.46 L141.69,91.48 L141.87,91.53 L142.06,91.58 L142.25,91.66 L142.44,91.74 L142.63,91.84 L142.81,91.96 L143.00,92.08 L143.19,92.22 L143.38,92.36 L143.57,92.52 L143.75,92.68 L143.94,92.85 L144.13,93.03 L144.32,93.21 L144.51,93.40 L144.70,93.58 L144.88,93.77 L145.07,93.95 L145.26,94.14 L145.45,94.32 L145.64,94.50 L145.82,94.67 L146.01,94.84 L146.20,95.00 L146.39,95.15 L146.58,95.29 L146.77,95.43 L146.95,95.55 L147.14,95.66 L147.33,95.76 L147.52,95.85 L147.71,95.92 L147.89,95.98 L148.08,96.03 L148.27,96.06 L148.46,96.08 L148.65,96.09 L148.84,96.08 L149.02,96.06 L149.21,96.03 L149.40,95.98 L149.59,95.92 L149.78,95.85 L149.96,95.77 L150.15,95.67 L150.34,95.57 L150.53,95.46 L150.72,95.34 L150.91,95.21 L151.09,95.08 L151.28,94.94 L151.47,94.79 L151.66,94.65 L151.85,94.50 L152.03,94.34 L152.22,94.19 L152.41,94.04 L152.60,93.89 L152.79,93.74 L152.97,93.59 L153.16,93.45 L153.35,93.31 L153.54,93.18 L153.73,93.06 L153.92,92.94 L154.10,92.83 L154.29,92.73 L154.48,92.64 L154.67,92.56 L154.86,92.49 L155.04,92.43 L155.23,92.38 L155.42,92.34 L155.61,92.31 L155.80,92.29 L155.99,92.29 L156.17,92.30 L156.36,92.31 L156.55,92.34 L156.74,92.38 L156.93,92.43 L157.11,92.49 L157.30,92.55 L157.49,92.63 L157.68,92.71 L157.87,92.80 L158.06,92.90 L158.24,93.01 L158.43,93.12 L158.62,93.23 L158.81,93.35 L159.00,93.47 L159.18,93.59 L159.37,93.72 L159.56,93.84 L159.75,93.97 L159.94,94.09 L160.12,94.22 L160.31,94.34 L160.50,94.45 L160.69,94.56 L160.88,94.67 L161.07,94.77 L161.25,94.87 L161.44,94.96 L161.63,95.04 L161.82,95.11 L162.01,95.18 L162.19,95.24 L162.38,95.29 L162.57,95.33 L162.76,95.36 L162.95,95.38 L163.14,95.40 L163.32,95.40 L163.51,95.40 L163.70,95.38 L163.89,95.36 L164.08,95.33 L164.26,95.29 L164.45,95.24 L164.64,95.19 L164.83,95.12 L165.02,95.05 L165.21,94.98 L165.39,94.90 L165.58,94.81 L165.77,94.72 L165.96,94.63 L166.15,94.53 L166.33,94.43 L166.52,94.33 L166.71,94.23 L166.90,94.13 L167.09,94.02 L167.27,93.92 L167.46,93.82 L167.65,93.73 L167.84,93.63 L168.03,93.54 L168.22,93.45 L168.40,93.37 L168.59,93.29 L168.78,93.22 L168.97,93.15 L169.16,93.09 L169.34,93.03 L169.53,92.99 L169.72,92.94 L169.91,92.91 L170.10,92.89 L170.29,92.87 L170.47,92.86 L170.66,92.85 L170.85,92.86 L171.04,92.87 L171.23,92.89 L171.41,92.91 L171.60,92.94 L171.79,92.98 L171.98,93.03 L172.17,93.08 L172.36,93.14 L172.54,93.20 L172.73,93.26 L172.92,93.33 L173.11,93.41 L173.30,93.48 L173.48,93.56 L173.67,93.65 L173.86,93.73 L174.05,93.81 L174.24,93.90 L174.43,93.98 L174.61,94.06 L174.80,94.14 L174.99,94.22 L175.18,94.30 L175.37,94.38 L175.55,94.45 L175.74,94.52 L175.93,94.58 L176.12,94.64 L176.31,94.70 L176.49,94.75 L176.68,94.79 L176.87,94.83 L177.06,94.86 L177.25,94.89 L177.44,94.91 L177.62,94.93 L177.81,94.94 L178.00,94.94 L178.19,94.94 L178.38,94.93 L178.56,94.91 L178.75,94.89 L178.94,94.86 L179.13,94.83 L179.32,94.80 L179.51,94.75 L179.69,94.71 L179.88,94.66 L180.07,94.60 L180.26,94.55 L180.45,94.49 L180.63,94.42 L180.82,94.36 L181.01,94.29 L181.20,94.22 L181.39,94.15 L181.58,94.09 L181.76,94.02 L181.95,93.95 L182.14,93.88 L182.33,93.82 L182.52,93.75 L182.70,93.69 L182.89,93.63 L183.08,93.58 L183.27,93.52 L183.46,93.47 L183.64,93.43 L183.83,93.39 L184.02,93.35 L184.21,93.32 L184.40,93.29 L184.59,93.27 L184.77,93.25 L184.96,93.24 L185.15,93.23 L185.34,93.23 L185.53,93.23 L185.71,93.24 L185.90,93.25 L186.09,93.27 L186.28,93.29 L186.47,93.32 L186.66,93.35 L186.84,93.38 L187.03,93.42 L187.22,93.46 L187.41,93.51 L187.60,93.55 L187.78,93.60 L187.97,93.65 L188.16,93.71 L188.35,93.76 L188.54,93.82 L188.73,93.87 L188.91,93.93 L189.10,93.99 L189.29,94.04 L189.48,94.10 L189.67,94.15 L189.85,94.20 L190.04,94.25 L190.23,94.30 L190.42,94.35 L190.61,94.39 L190.79,94.43 L190.98,94.47 L191.17,94.50 L191.36,94.53 L191.55,94.56 L191.74,94.58 L191.92,94.60 L192.11,94.61 L192.30,94.62 L192.49,94.63 L192.68,94.63 L192.86,94.63 L193.05,94.62 L193.24,94.61 L193.43,94.60 L193.62,94.58 L193.81,94.56 L193.99,94.53 L194.18,94.51 L194.37,94.47 L194.56,94.44 L194.75,94.40 L194.93,94.37 L195.12,94.33 L195.31,94.28 L195.50,94.24 L195.69,94.20 L195.88,94.15 L196.06,94.10 L196.25,94.06 L196.44,94.01 L196.63,93.97 L196.82,93.92 L197.00,93.88 L197.19,93.83 L197.38,93.79 L197.57,93.75 L197.76,93.72 L197.95,93.68 L198.13,93.65 L198.32,93.62 L198.51,93.59 L198.70,93.57 L198.89,93.54 L199.07,93.53 L199.26,93.51 L199.45,93.50 L199.64,93.49 L199.83,93.49 L200.01,93.48 L200.20,93.49 L200.39,93.49 L200.58,93.50 L200.77,93.51 L200.96,93.53 L201.14,93.54 L201.33,93.56 L201.52,93.59 L201.71,93.61 L201.90,93.64 L202.08,93.67 L202.27,93.70 L202.46,93.73 L202.65,93.77 L202.84,93.80 L203.03,93.84 L203.21,93.88 L203.40,93.92 L203.59,93.95 L203.78,93.99 L203.97,94.03 L204.15,94.07 L204.34,94.10 L204.53,94.14 L204.72,94.17 L204.91,94.20 L205.10,94.23 L205.28,94.26 L205.47,94.29 L205.66,94.31 L205.85,94.34 L206.04,94.36 L206.22,94.37 L206.41,94.39 L206.60,94.40 L206.79,94.41 L206.98,94.42 L207.16,94.42 L207.35,94.42 L207.54,94.42 L207.73,94.42 L207.92,94.41 L208.11,94.40 L208.29,94.39 L208.48,94.37 L208.67,94.36 L208.86,94.34 L209.05,94.32 L209.23,94.30 L209.42,94.27 L209.61,94.25 L209.80,94.22 L209.99,94.19 L210.18,94.16 L210.36,94.13 L210.55,94.10 L210.74,94.07 L210.93,94.04 L211.12,94.01 L211.30,93.98 L211.49,93.95 L211.68,93.92 L211.87,93.89 L212.06,93.86 L212.25,93.83 L212.43,93.81 L212.62,93.79 L212.81,93.76 L213.00,93.74 L213.19,93.72 L213.37,93.71 L213.56,93.69 L213.75,93.68 L213.94,93.67 L214.13,93.66 L214.31,93.66 L214.50,93.65 L214.69,93.65 L214.88,93.66 L215.07,93.66 L215.26,93.66 L215.44,93.67 L215.63,93.68 L215.82,93.69 L216.01,93.71 L216.20,93.72 L216.38,93.74 L216.57,93.76 L216.76,93.78 L216.95,93.80 L217.14,93.82 L217.33,93.84 L217.51,93.87 L217.70,93.89 L217.89,93.92 L218.08,93.94 L218.27,93.97 L218.45,93.99 L218.64,94.02 L218.83,94.04 L219.02,94.07 L219.21,94.09 L219.40,94.11 L219.58,94.14 L219.77,94.16 L219.96,94.18 L220.15,94.19 L220.34,94.21 L220.52,94.23 L220.71,94.24 L220.90,94.25 L221.09,94.26 L221.28,94.27 L221.47,94.28 L221.65,94.28 L221.84,94.28 L222.03,94.28 L222.22,94.28 L222.41,94.28 L222.59,94.28 L222.78,94.27 L222.97,94.26 L223.16,94.25 L223.35,94.24 L223.53,94.23 L223.72,94.21 L223.91,94.20 L224.10,94.18 L224.29,94.16 L224.48,94.15 L224.66,94.13 L224.85,94.11 L225.04,94.09 L225.23,94.07 L225.42,94.05 L225.60,94.03 L225.79,94.01 L225.98,93.98 L226.17,93.96 L226.36,93.94 L226.55,93.93 L226.73,93.91 L226.92,93.89 L227.11,93.87 L227.30,93.86 L227.49,93.84 L227.67,93.83 L227.86,93.82 L228.05,93.80 L228.24,93.79 L228.43,93.79 L228.62,93.78 L228.80,93.77 L228.99,93.77 L229.18,93.77 L229.37,93.77 L229.56,93.77 L229.74,93.77 L229.93,93.77 L230.12,93.78 L230.31,93.79 L230.50,93.79 L230.68,93.80 L230.87,93.81 L231.06,93.83 L231.25,93.84 L231.44,93.85 L231.63,93.87 L231.81,93.88 L232.00,93.90 L232.19,93.91 L232.38,93.93 L232.57,93.94 L232.75,93.96 L232.94,93.98 L233.13,94.00 L233.32,94.01 L233.51,94.03 L233.70,94.05 L233.88,94.06 L234.07,94.08 L234.26,94.09 L234.45,94.10 L234.64,94.12 L234.82,94.13 L235.01,94.14 L235.20,94.15 L235.39,94.16 L235.58,94.17 L235.77,94.17 L235.95,94.18 L236.14,94.18 L236.33,94.19 L236.52,94.19 L236.71,94.19 L236.89,94.19 L237.08,94.19 L237.27,94.18 L237.46,94.18 L237.65,94.17 L237.83,94.17 L238.02,94.16 L238.21,94.15 L238.40,94.14 L238.59,94.13 L238.78,94.12 L238.96,94.11 L239.15,94.10 L239.34,94.09 L239.53,94.07 L239.72,94.06 L239.90,94.05 L240.09,94.03 L240.28,94.02 L240.47,94.00 L240.66,93.99 L240.85,93.98 L241.03,93.96 L241.22,93.95 L241.41,93.94 L241.60,93.93 L241.79,93.91 L241.97,93.90 L242.16,93.89 L242.35,93.88 L242.54,93.88 L242.73,93.87 L242.92,93.86 L243.10,93.86 L243.29,93.85 L243.48,93.85 L243.67,93.85 L243.86,93.84 L244.04,93.84 L244.23,93.84 L244.42,93.85 L244.61,93.85 L244.80,93.85 L244.99,93.86 L245.17,93.86 L245.36,93.87 L245.55,93.88 L245.74,93.88 L245.93,93.89 L246.11,93.90 L246.30,93.91 L246.49,93.92 L246.68,93.93 L246.87,93.94 L247.05,93.95 L247.24,93.96 L247.43,93.97 L247.62,93.99 L247.81,94.00 L248.00,94.01 L248.18,94.02 L248.37,94.03 L248.56,94.04 L248.75,94.05 L248.94,94.06 L249.12,94.07 L249.31,94.08 L249.50,94.09 L249.69,94.09 L249.88,94.10 L250.07,94.11 L250.25,94.11 L250.44,94.12 L250.63,94.12 L250.82,94.12 L251.01,94.13 L251.19,94.13 L251.38,94.13 L251.57,94.13 L251.76,94.13 L251.95,94.12 L252.14,94.12 L252.32,94.12 L252.51,94.11 L252.70,94.11 L252.89,94.10 L253.08,94.10 L253.26,94.09 L253.45,94.08 L253.64,94.07 L253.83,94.07 L254.02,94.06 L254.20,94.05 L254.39,94.04 L254.58,94.03 L254.77,94.02 L254.96,94.01 L255.15,94.00 L255.33,93.99 L255.52,93.98 L255.71,93.97 L255.90,93.97 L256.09,93.96 L256.27,93.95 L256.46,93.94 L256.65,93.94 L256.84,93.93 L257.03,93.92 L257.22,93.92 L257.40,93.91 L257.59,93.91 L257.78,93.90 L257.97,93.90 L258.16,93.90 L258.34,93.90 L258.53,93.90 L258.72,93.90 L258.91,93.90 L259.10,93.90 L259.29,93.90 L259.47,93.90 L259.66,93.90 L259.85,93.91 L260.04,93.91 L260.23,93.92 L260.41,93.92 L260.60,93.93 L260.79,93.93 L260.98,93.94 L261.17,93.95 L261.35,93.95 L261.54,93.96 L261.73,93.97 L261.92,93.98 L262.11,93.98 L262.30,93.99 L262.48,94.00 L262.67,94.01 L262.86,94.01 L263.05,94.02 L263.24,94.03 L263.42,94.03 L263.61,94.04 L263.80,94.05 L263.99,94.05 L264.18,94.06 L264.37,94.06 L264.55,94.07 L264.74,94.07 L264.93,94.08 L265.12,94.08 L265.31,94.08 L265.49,94.08 L265.68,94.08 L265.87,94.09 L266.06,94.09 L266.25,94.09 L266.44,94.08 L266.62,94.08 L266.81,94.08 L267.00,94.08 L267.19,94.08 L267.38,94.07 L267.56,94.07 L267.75,94.06 L267.94,94.06 L268.13,94.05 L268.32,94.05 L268.51,94.04 L268.69,94.04 L268.88,94.03 L269.07,94.03 L269.26,94.02 L269.45,94.01 L269.63,94.01 L269.82,94.00 L270.01,94.00 L270.20,93.99 L270.39,93.98 L270.57,93.98 L270.76,93.97 L270.95,93.97 L271.14,93.96 L271.33,93.96 L271.52,93.95 L271.70,93.95 L271.89,93.94 L272.08,93.94 L272.27,93.94 L272.46,93.94 L272.64,93.93 L272.83,93.93 L273.02,93.93 L273.21,93.93 L273.40,93.93 L273.59,93.93 L273.77,93.93 L273.96,93.93 L274.15,93.93 L274.34,93.94 L274.53,93.94 L274.71,93.94 L274.90,93.94 L275.09,93.95 L275.28,93.95 L275.47,93.96 L275.66,93.96 L275.84,93.96 L276.03,93.97 L276.22,93.97 L276.41,93.98 L276.60,93.98 L276.78,93.99 L276.97,93.99 L277.16,94.00 L277.35,94.00 L277.54,94.01 L277.72,94.01 L277.91,94.02 L278.10,94.02 L278.29,94.03 L278.48,94.03 L278.67,94.04 L278.85,94.04 L279.04,94.04 L279.23,94.05 L279.42,94.05 L279.61,94.05 L279.79,94.05 L279.98,94.05 L280.17,94.06 L280.36,94.06 L280.55,94.06 L280.74,94.06 L280.92,94.06 L281.11,94.06 L281.30,94.06 L281.49,94.05 L281.68,94.05 L281.86,94.05 L282.05,94.05 L282.24,94.05 L282.43,94.04 L282.62,94.04 L282.81,94.04 L282.99,94.03 L283.18,94.03 L283.37,94.03 L283.56,94.02 L283.75,94.02 L283.93,94.01 L284.12,94.01 L284.31,94.01 L284.50,94.00 L284.69,94.00 L284.87,93.99 L285.06,93.99 L285.25,93.98 L285.44,93.98 L285.63,93.98 L285.82,93.97 L286.00,93.97 L286.19,93.97 L286.38,93.97 L286.57,93.96 L286.76,93.96 L286.94,93.96 L287.13,93.96 L287.32,93.96 L287.51,93.95 L287.70,93.95 L287.89,93.95 L288.07,93.95 L288.26,93.95 L288.45,93.95 L288.64,93.95 L288.83,93.96 L289.01,93.96 L289.20,93.96 L289.39,93.96 L289.58,93.96 L289.77,93.96 L289.96,93.97 L290.14,93.97 L290.33,93.97 L290.52,93.98 L290.71,93.98 L290.90,93.98 L291.08,93.99 L291.27,93.99 L291.46,93.99 L291.65,94.00 L291.84,94.00 L292.03,94.00 L292.21,94.01 L292.40,94.01 L292.59,94.01 L292.78,94.02 L292.97,94.02 L293.15,94.02 L293.34,94.02 L293.53,94.03 L293.72,94.03 L293.91,94.03 L294.09,94.03 L294.28,94.03 L294.47,94.04 L294.66,94.04 L294.85,94.04 L295.04,94.04 L295.22,94.04 L295.41,94.04 L295.60,94.04 L295.79,94.04 L295.98,94.04 L296.16,94.04 L296.35,94.04 L296.54,94.03 L296.73,94.03 L296.92,94.03 L297.11,94.03 L297.29,94.03 L297.48,94.02 L297.67,94.02 L297.86,94.02 L298.05,94.02 L298.23,94.01 L298.42,94.01 L298.61,94.01 L298.80,94.01 L298.99,94.00 L299.18,94.00 L299.36,94.00 L299.55,94.00 L299.74,93.99 L299.93,93.99 L300.12,93.99 L300.30,93.98 L300.49,93.98 L300.68,93.98 L300.87,93.98 L301.06,93.98 L301.24,93.97 L301.43,93.97 L301.62,93.97 L301.81,93.97 L302.00,93.97 L302.19,93.97 L302.37,93.97 L302.56,93.97 L302.75,93.97 L302.94,93.97 L303.13,93.97 L303.31,93.97 L303.50,93.97 L303.69,93.97 L303.88,93.97 L304.07,93.97 L304.26,93.97 L304.44,93.98 L304.63,93.98 L304.82,93.98 L305.01,93.98 L305.20,93.98 L305.38,93.99 L305.57,93.99 L305.76,93.99 L305.95,93.99 L306.14,93.99 L306.33,94.00 L306.51,94.00 L306.70,94.00 L306.89,94.00 L307.08,94.01 L307.27,94.01 L307.45,94.01 L307.64,94.01 L307.83,94.01 L308.02,94.02 L308.21,94.02 L308.39,94.02 L308.58,94.02 L308.77,94.02 L308.96,94.02 L309.15,94.02 L309.34,94.02 L309.52,94.03 L309.71,94.03 L309.90,94.03 L310.09,94.03 L310.28,94.03 L310.46,94.03 L310.65,94.03 L310.84,94.02 L311.03,94.02 L311.22,94.02 L311.41,94.02 L311.59,94.02 L311.78,94.02 L311.97,94.02 L312.16,94.02 L312.35,94.01 L312.53,94.01 L312.72,94.01 L312.91,94.01 L313.10,94.01 L313.29,94.01 L313.48,94.00 L313.66,94.00 L313.85,94.00 L314.04,94.00 L314.23,94.00 L314.42,93.99 L314.60,93.99 L314.79,93.99 L314.98,93.99 L315.17,93.99 L315.36,93.99 L315.55,93.99 L315.73,93.98 L315.92,93.98 L316.11,93.98 L316.30,93.98 L316.49,93.98 L316.67,93.98 L316.86,93.98 L317.05,93.98 L317.24,93.98 L317.43,93.98 L317.61,93.98 L317.80,93.98 L317.99,93.98 L318.18,93.98 L318.37,93.98 L318.56,93.98 L318.74,93.98 L318.93,93.98 L319.12,93.98 L319.31,93.99 L319.50,93.99 L319.68,93.99 L319.87,93.99 L320.06,93.99 L320.25,93.99 L320.44,93.99 L320.63,93.99 L320.81,94.00 L321.00,94.00 L321.19,94.00 L321.38,94.00 L321.57,94.00 L321.75,94.00 L321.94,94.01 L322.13,94.01 L322.32,94.01 L322.51,94.01 L322.70,94.01 L322.88,94.01 L323.07,94.01 L323.26,94.01 L323.45,94.01 L323.64,94.02 L323.82,94.02 L324.01,94.02 L324.20,94.02 L324.39,94.02 L324.58,94.02 L324.76,94.02 L324.95,94.02 L325.14,94.02 L325.33,94.02 L325.52,94.02 L325.71,94.02 L325.89,94.02 L326.08,94.01 L326.27,94.01 L326.46,94.01 L326.65,94.01 L326.83,94.01 L327.02,94.01 L327.21,94.01 L327.40,94.01 L327.59,94.01 L327.78,94.01 L327.96,94.00 L328.15,94.00 L328.34,94.00 L328.53,94.00 L328.72,94.00 L328.90,94.00 L329.09,94.00 L329.28,94.00 L329.47,93.99 L329.66,93.99 L329.85,93.99 L330.03,93.99 L330.22,93.99 L330.41,93.99 L330.60,93.99 L330.79,93.99 L330.97,93.99 L331.16,93.99 L331.35,93.99 L331.54,93.99 L331.73,93.99 L331.91,93.99 L332.10,93.99 L332.29,93.99 L332.48,93.99 L332.67,93.99 L332.86,93.99 L333.04,93.99 L333.23,93.99 L333.42,93.99 L333.61,93.99 L333.80,93.99 L333.98,93.99 L334.17,93.99 L334.36,93.99 L334.55,93.99 L334.74,93.99 L334.93,93.99 L335.11,94.00 L335.30,94.00 L335.49,94.00"/>
</g>
<path fill="none" stroke="#000" stroke-width="1.4" d="M53.25,177.20v-3.2 M53.25,4.60v3.2 M62.66,177.20v-1.8 M62.66,4.60v1.8 M72.07,177.20v-1.8 M72.07,4.60v1.8 M81.47,177.20v-1.8 M81.47,4.60v1.8 M90.88,177.20v-1.8 M90.88,4.60v1.8 M100.29,177.20v-3.2 M100.29,4.60v3.2 M109.70,177.20v-1.8 M109.70,4.60v1.8 M119.11,177.20v-1.8 M119.11,4.60v1.8 M128.51,177.20v-1.8 M128.51,4.60v1.8 M137.92,177.20v-1.8 M137.92,4.60v1.8 M147.33,177.20v-3.2 M147.33,4.60v3.2 M156.74,177.20v-1.8 M156.74,4.60v1.8 M166.15,177.20v-1.8 M166.15,4.60v1.8 M175.55,177.20v-1.8 M175.55,4.60v1.8 M184.96,177.20v-1.8 M184.96,4.60v1.8 M194.37,177.20v-3.2 M194.37,4.60v3.2 M203.78,177.20v-1.8 M203.78,4.60v1.8 M213.19,177.20v-1.8 M213.19,4.60v1.8 M222.59,177.20v-1.8 M222.59,4.60v1.8 M232.00,177.20v-1.8 M232.00,4.60v1.8 M241.41,177.20v-3.2 M241.41,4.60v3.2 M250.82,177.20v-1.8 M250.82,4.60v1.8 M260.23,177.20v-1.8 M260.23,4.60v1.8 M269.63,177.20v-1.8 M269.63,4.60v1.8 M279.04,177.20v-1.8 M279.04,4.60v1.8 M288.45,177.20v-3.2 M288.45,4.60v3.2 M297.86,177.20v-1.8 M297.86,4.60v1.8 M307.27,177.20v-1.8 M307.27,4.60v1.8 M316.67,177.20v-1.8 M316.67,4.60v1.8 M326.08,177.20v-1.8 M326.08,4.60v1.8 M335.49,177.20v-3.2 M335.49,4.60v3.2 M47.00,172.40h1.8 M342.00,172.40h-1.8 M47.00,166.80h1.8 M342.00,166.80h-1.8 M47.00,161.20h1.8 M342.00,161.20h-1.8 M47.00,155.60h1.8 M342.00,155.60h-1.8 M47.00,150.00h3.2 M342.00,150.00h-3.2 M47.00,144.40h1.8 M342.00,144.40h-1.8 M47.00,138.80h1.8 M342.00,138.80h-1.8 M47.00,133.20h1.8 M342.00,133.20h-1.8 M47.00,127.60h1.8 M342.00,127.60h-1.8 M47.00,122.00h3.2 M342.00,122.00h-3.2 M47.00,116.40h1.8 M342.00,116.40h-1.8 M47.00,110.80h1.8 M342.00,110.80h-1.8 M47.00,105.20h1.8 M342.00,105.20h-1.8 M47.00,99.60h1.8 M342.00,99.60h-1.8 M47.00,94.00h3.2 M342.00,94.00h-3.2 M47.00,88.40h1.8 M342.00,88.40h-1.8 M47.00,82.80h1.8 M342.00,82.80h-1.8 M47.00,77.20h1.8 M342.00,77.20h-1.8 M47.00,71.60h1.8 M342.00,71.60h-1.8 M47.00,66.00h3.2 M342.00,66.00h-3.2 M47.00,60.40h1.8 M342.00,60.40h-1.8 M47.00,54.80h1.8 M342.00,54.80h-1.8 M47.00,49.20h1.8 M342.00,49.20h-1.8 M47.00,43.60h1.8 M342.00,43.60h-1.8 M47.00,38.00h3.2 M342.00,38.00h-3.2 M47.00,32.40h1.8 M342.00,32.40h-1.8 M47.00,26.80h1.8 M342.00,26.80h-1.8 M47.00,21.20h1.8 M342.00,21.20h-1.8 M47.00,15.60h1.8 M342.00,15.60h-1.8 M47.00,10.00h3.2 M342.00,10.00h-3.2"/>
<rect x="47.0" y="4.6" width="295.00" height="172.60" fill="none" stroke="#000" stroke-width="1.9"/>
<g font-family="Liberation Serif" font-weight="bold" font-size="15.5" fill="#000"><text x="53.25" y="192.80" text-anchor="middle">0</text><text x="100.29" y="192.80" text-anchor="middle">5</text><text x="147.33" y="192.80" text-anchor="middle">10</text><text x="194.37" y="192.80" text-anchor="middle">15</text><text x="241.41" y="192.80" text-anchor="middle">20</text><text x="288.45" y="192.80" text-anchor="middle">25</text><text x="335.49" y="192.80" text-anchor="middle">30</text><text x="44.40" y="15.30" text-anchor="end">1.5</text><text x="44.40" y="43.30" text-anchor="end">1.0</text><text x="44.40" y="71.30" text-anchor="end">0.5</text><text x="44.40" y="99.30" text-anchor="end">0.0</text><rect x="13.00" y="121.30" width="9.3" height="1.4"/><text x="44.40" y="127.30" text-anchor="end">0.5</text><rect x="13.00" y="149.30" width="9.3" height="1.4"/><text x="44.40" y="155.30" text-anchor="end">1.0</text></g>
<clipPath id="clipb"><rect x="409.6" y="3.6" width="295.40" height="174.00"/></clipPath>
<g clip-path="url(#clipb)" fill="none" stroke-width="2.3" stroke-linejoin="round" stroke-linecap="round">
<path stroke="#0000ff" d="M416.00,3.55 L416.19,3.85 L416.38,4.77 L416.57,6.28 L416.75,8.38 L416.94,11.04 L417.13,14.25 L417.32,17.97 L417.51,22.18 L417.70,26.85 L417.89,31.94 L418.08,37.41 L418.26,43.23 L418.45,49.36 L418.64,55.74 L418.83,62.35 L419.02,69.12 L419.21,76.03 L419.40,83.01 L419.58,90.03 L419.77,97.05 L419.96,104.00 L420.15,110.86 L420.34,117.57 L420.53,124.10 L420.72,130.40 L420.91,136.44 L421.09,142.17 L421.28,147.57 L421.47,152.61 L421.66,157.24 L421.85,161.46 L422.04,165.22 L422.23,168.52 L422.41,171.34 L422.60,173.66 L422.79,175.48 L422.98,176.77 L423.17,177.56 L423.36,177.82 L423.55,177.57 L423.74,176.81 L423.92,175.55 L424.11,173.81 L424.30,171.60 L424.49,168.93 L424.68,165.84 L424.87,162.34 L425.06,158.47 L425.24,154.24 L425.43,149.69 L425.62,144.86 L425.81,139.78 L426.00,134.47 L426.19,128.99 L426.38,123.36 L426.56,117.62 L426.75,111.82 L426.94,105.99 L427.13,100.17 L427.32,94.39 L427.51,88.69 L427.70,83.12 L427.89,77.70 L428.07,72.46 L428.26,67.45 L428.45,62.68 L428.64,58.20 L428.83,54.02 L429.02,50.17 L429.21,46.67 L429.39,43.54 L429.58,40.80 L429.77,38.46 L429.96,36.53 L430.15,35.02 L430.34,33.94 L430.53,33.30 L430.72,33.08 L430.90,33.28 L431.09,33.91 L431.28,34.96 L431.47,36.41 L431.66,38.24 L431.85,40.46 L432.04,43.03 L432.22,45.93 L432.41,49.15 L432.60,52.66 L432.79,56.44 L432.98,60.45 L433.17,64.68 L433.36,69.08 L433.55,73.64 L433.73,78.31 L433.92,83.07 L434.11,87.89 L434.30,92.74 L434.49,97.57 L434.68,102.37 L434.87,107.10 L435.05,111.73 L435.24,116.24 L435.43,120.58 L435.62,124.75 L435.81,128.71 L436.00,132.43 L436.19,135.90 L436.38,139.10 L436.56,142.01 L436.75,144.61 L436.94,146.88 L437.13,148.83 L437.32,150.43 L437.51,151.68 L437.70,152.58 L437.88,153.11 L438.07,153.30 L438.26,153.12 L438.45,152.60 L438.64,151.73 L438.83,150.53 L439.02,149.00 L439.21,147.17 L439.39,145.03 L439.58,142.62 L439.77,139.95 L439.96,137.03 L440.15,133.89 L440.34,130.56 L440.53,127.05 L440.71,123.39 L440.90,119.61 L441.09,115.73 L441.28,111.77 L441.47,107.77 L441.66,103.74 L441.85,99.73 L442.04,95.74 L442.22,91.81 L442.41,87.97 L442.60,84.23 L442.79,80.61 L442.98,77.16 L443.17,73.87 L443.36,70.78 L443.54,67.89 L443.73,65.24 L443.92,62.82 L444.11,60.66 L444.30,58.77 L444.49,57.16 L444.68,55.83 L444.86,54.79 L445.05,54.04 L445.24,53.60 L445.43,53.44 L445.62,53.59 L445.81,54.02 L446.00,54.74 L446.19,55.74 L446.37,57.01 L446.56,58.54 L446.75,60.31 L446.94,62.31 L447.13,64.53 L447.32,66.96 L447.51,69.56 L447.69,72.33 L447.88,75.24 L448.07,78.28 L448.26,81.43 L448.45,84.65 L448.64,87.94 L448.83,91.26 L449.02,94.60 L449.20,97.94 L449.39,101.25 L449.58,104.51 L449.77,107.71 L449.96,110.81 L450.15,113.81 L450.34,116.69 L450.52,119.42 L450.71,121.98 L450.90,124.38 L451.09,126.59 L451.28,128.59 L451.47,130.38 L451.66,131.95 L451.85,133.30 L452.03,134.40 L452.22,135.26 L452.41,135.88 L452.60,136.25 L452.79,136.38 L452.98,136.26 L453.17,135.90 L453.35,135.30 L453.54,134.47 L453.73,133.42 L453.92,132.15 L454.11,130.68 L454.30,129.01 L454.49,127.17 L454.68,125.16 L454.86,122.99 L455.05,120.69 L455.24,118.27 L455.43,115.75 L455.62,113.14 L455.81,110.46 L456.00,107.73 L456.18,104.97 L456.37,102.20 L456.56,99.42 L456.75,96.67 L456.94,93.96 L457.13,91.31 L457.32,88.73 L457.51,86.24 L457.69,83.85 L457.88,81.59 L458.07,79.45 L458.26,77.46 L458.45,75.63 L458.64,73.96 L458.83,72.48 L459.01,71.17 L459.20,70.06 L459.39,69.14 L459.58,68.42 L459.77,67.91 L459.96,67.60 L460.15,67.50 L460.34,67.60 L460.52,67.90 L460.71,68.39 L460.90,69.08 L461.09,69.96 L461.28,71.01 L461.47,72.23 L461.66,73.61 L461.84,75.15 L462.03,76.82 L462.22,78.61 L462.41,80.52 L462.60,82.53 L462.79,84.63 L462.98,86.80 L463.17,89.02 L463.35,91.29 L463.54,93.58 L463.73,95.89 L463.92,98.19 L464.11,100.47 L464.30,102.73 L464.49,104.93 L464.67,107.07 L464.86,109.14 L465.05,111.12 L465.24,113.01 L465.43,114.78 L465.62,116.43 L465.81,117.95 L465.99,119.34 L466.18,120.57 L466.37,121.66 L466.56,122.58 L466.75,123.34 L466.94,123.94 L467.13,124.37 L467.32,124.62 L467.50,124.71 L467.69,124.63 L467.88,124.38 L468.07,123.96 L468.26,123.39 L468.45,122.67 L468.64,121.79 L468.82,120.78 L469.01,119.63 L469.20,118.35 L469.39,116.97 L469.58,115.47 L469.77,113.89 L469.96,112.22 L470.15,110.48 L470.33,108.68 L470.52,106.83 L470.71,104.95 L470.90,103.04 L471.09,101.13 L471.28,99.21 L471.47,97.32 L471.65,95.45 L471.84,93.62 L472.03,91.84 L472.22,90.12 L472.41,88.47 L472.60,86.91 L472.79,85.44 L472.98,84.06 L473.16,82.80 L473.35,81.65 L473.54,80.62 L473.73,79.72 L473.92,78.96 L474.11,78.32 L474.30,77.83 L474.48,77.47 L474.67,77.26 L474.86,77.19 L475.05,77.26 L475.24,77.46 L475.43,77.81 L475.62,78.28 L475.81,78.89 L475.99,79.61 L476.18,80.46 L476.37,81.41 L476.56,82.47 L476.75,83.62 L476.94,84.86 L477.13,86.18 L477.31,87.56 L477.50,89.01 L477.69,90.51 L477.88,92.04 L478.07,93.60 L478.26,95.19 L478.45,96.78 L478.64,98.36 L478.82,99.94 L479.01,101.49 L479.20,103.01 L479.39,104.49 L479.58,105.92 L479.77,107.29 L479.96,108.58 L480.14,109.81 L480.33,110.95 L480.52,112.00 L480.71,112.95 L480.90,113.80 L481.09,114.55 L481.28,115.19 L481.47,115.72 L481.65,116.13 L481.84,116.42 L482.03,116.60 L482.22,116.66 L482.41,116.60 L482.60,116.43 L482.79,116.14 L482.97,115.75 L483.16,115.25 L483.35,114.65 L483.54,113.94 L483.73,113.15 L483.92,112.27 L484.11,111.32 L484.29,110.29 L484.48,109.19 L484.67,108.04 L484.86,106.84 L485.05,105.60 L485.24,104.32 L485.43,103.02 L485.62,101.71 L485.80,100.39 L485.99,99.07 L486.18,97.76 L486.37,96.47 L486.56,95.21 L486.75,93.98 L486.94,92.80 L487.12,91.66 L487.31,90.58 L487.50,89.57 L487.69,88.62 L487.88,87.75 L488.07,86.95 L488.26,86.25 L488.45,85.63 L488.63,85.10 L488.82,84.66 L489.01,84.32 L489.20,84.07 L489.39,83.93 L489.58,83.88 L489.77,83.92 L489.95,84.07 L490.14,84.30 L490.33,84.63 L490.52,85.05 L490.71,85.55 L490.90,86.13 L491.09,86.79 L491.28,87.52 L491.46,88.31 L491.65,89.17 L491.84,90.08 L492.03,91.03 L492.22,92.03 L492.41,93.06 L492.60,94.12 L492.78,95.20 L492.97,96.29 L493.16,97.39 L493.35,98.48 L493.54,99.57 L493.73,100.64 L493.92,101.69 L494.11,102.71 L494.29,103.70 L494.48,104.64 L494.67,105.53 L494.86,106.38 L495.05,107.16 L495.24,107.89 L495.43,108.55 L495.61,109.14 L495.80,109.65 L495.99,110.09 L496.18,110.45 L496.37,110.74 L496.56,110.94 L496.75,111.06 L496.94,111.10 L497.12,111.06 L497.31,110.95 L497.50,110.75 L497.69,110.48 L497.88,110.13 L498.07,109.72 L498.26,109.23 L498.44,108.69 L498.63,108.08 L498.82,107.42 L499.01,106.71 L499.20,105.95 L499.39,105.16 L499.58,104.33 L499.77,103.47 L499.95,102.59 L500.14,101.70 L500.33,100.79 L500.52,99.88 L500.71,98.97 L500.90,98.07 L501.09,97.18 L501.27,96.31 L501.46,95.46 L501.65,94.64 L501.84,93.86 L502.03,93.12 L502.22,92.41 L502.41,91.76 L502.59,91.16 L502.78,90.61 L502.97,90.12 L503.16,89.70 L503.35,89.33 L503.54,89.03 L503.73,88.79 L503.92,88.63 L504.10,88.52 L504.29,88.49 L504.48,88.52 L504.67,88.62 L504.86,88.78 L505.05,89.01 L505.24,89.30 L505.42,89.64 L505.61,90.04 L505.80,90.50 L505.99,91.00 L506.18,91.55 L506.37,92.14 L506.56,92.77 L506.75,93.43 L506.93,94.11 L507.12,94.83 L507.31,95.56 L507.50,96.30 L507.69,97.05 L507.88,97.81 L508.07,98.57 L508.25,99.32 L508.44,100.06 L508.63,100.78 L508.82,101.48 L509.01,102.16 L509.20,102.81 L509.39,103.43 L509.58,104.01 L509.76,104.55 L509.95,105.05 L510.14,105.51 L510.33,105.91 L510.52,106.27 L510.71,106.57 L510.90,106.82 L511.08,107.02 L511.27,107.16 L511.46,107.24 L511.65,107.27 L511.84,107.25 L512.03,107.16 L512.22,107.03 L512.41,106.84 L512.59,106.60 L512.78,106.31 L512.97,105.98 L513.16,105.60 L513.35,105.19 L513.54,104.73 L513.73,104.24 L513.91,103.72 L514.10,103.17 L514.29,102.60 L514.48,102.01 L514.67,101.40 L514.86,100.78 L515.05,100.16 L515.24,99.53 L515.42,98.90 L515.61,98.28 L515.80,97.67 L515.99,97.07 L516.18,96.48 L516.37,95.92 L516.56,95.38 L516.74,94.86 L516.93,94.38 L517.12,93.93 L517.31,93.51 L517.50,93.14 L517.69,92.80 L517.88,92.50 L518.07,92.25 L518.25,92.04 L518.44,91.88 L518.63,91.77 L518.82,91.70 L519.01,91.67 L519.20,91.69 L519.39,91.76 L519.57,91.87 L519.76,92.03 L519.95,92.23 L520.14,92.47 L520.33,92.74 L520.52,93.06 L520.71,93.40 L520.89,93.78 L521.08,94.19 L521.27,94.62 L521.46,95.08 L521.65,95.55 L521.84,96.04 L522.03,96.55 L522.22,97.06 L522.40,97.58 L522.59,98.10 L522.78,98.62 L522.97,99.14 L523.16,99.65 L523.35,100.15 L523.54,100.63 L523.72,101.10 L523.91,101.55 L524.10,101.98 L524.29,102.38 L524.48,102.75 L524.67,103.10 L524.86,103.41 L525.05,103.69 L525.23,103.94 L525.42,104.15 L525.61,104.32 L525.80,104.45 L525.99,104.55 L526.18,104.61 L526.37,104.63 L526.55,104.61 L526.74,104.55 L526.93,104.46 L527.12,104.33 L527.31,104.17 L527.50,103.97 L527.69,103.74 L527.88,103.48 L528.06,103.19 L528.25,102.88 L528.44,102.54 L528.63,102.18 L528.82,101.80 L529.01,101.41 L529.20,101.00 L529.38,100.58 L529.57,100.15 L529.76,99.72 L529.95,99.29 L530.14,98.86 L530.33,98.43 L530.52,98.00 L530.71,97.59 L530.89,97.18 L531.08,96.80 L531.27,96.42 L531.46,96.07 L531.65,95.73 L531.84,95.42 L532.03,95.14 L532.21,94.88 L532.40,94.65 L532.59,94.44 L532.78,94.27 L532.97,94.12 L533.16,94.01 L533.35,93.93 L533.54,93.88 L533.72,93.87 L533.91,93.88 L534.10,93.93 L534.29,94.01 L534.48,94.11 L534.67,94.25 L534.86,94.42 L535.04,94.61 L535.23,94.82 L535.42,95.06 L535.61,95.32 L535.80,95.60 L535.99,95.90 L536.18,96.22 L536.37,96.54 L536.55,96.88 L536.74,97.23 L536.93,97.58 L537.12,97.94 L537.31,98.30 L537.50,98.66 L537.69,99.02 L537.87,99.37 L538.06,99.72 L538.25,100.05 L538.44,100.37 L538.63,100.68 L538.82,100.98 L539.01,101.25 L539.19,101.51 L539.38,101.75 L539.57,101.97 L539.76,102.16 L539.95,102.33 L540.14,102.47 L540.33,102.59 L540.52,102.69 L540.70,102.75 L540.89,102.79 L541.08,102.81 L541.27,102.79 L541.46,102.75 L541.65,102.69 L541.84,102.60 L542.02,102.49 L542.21,102.35 L542.40,102.19 L542.59,102.01 L542.78,101.81 L542.97,101.60 L543.16,101.36 L543.35,101.12 L543.53,100.85 L543.72,100.58 L543.91,100.30 L544.10,100.01 L544.29,99.72 L544.48,99.42 L544.67,99.12 L544.85,98.82 L545.04,98.53 L545.23,98.23 L545.42,97.95 L545.61,97.67 L545.80,97.40 L545.99,97.14 L546.18,96.90 L546.36,96.67 L546.55,96.46 L546.74,96.26 L546.93,96.08 L547.12,95.92 L547.31,95.78 L547.50,95.66 L547.68,95.56 L547.87,95.48 L548.06,95.43 L548.25,95.39 L548.44,95.38 L548.63,95.39 L548.82,95.42 L549.01,95.48 L549.19,95.55 L549.38,95.65 L549.57,95.76 L549.76,95.89 L549.95,96.04 L550.14,96.21 L550.33,96.39 L550.51,96.58 L550.70,96.79 L550.89,97.00 L551.08,97.23 L551.27,97.46 L551.46,97.70 L551.65,97.95 L551.84,98.19 L552.02,98.44 L552.21,98.69 L552.40,98.94 L552.59,99.18 L552.78,99.42 L552.97,99.65 L553.16,99.87 L553.34,100.08 L553.53,100.29 L553.72,100.48 L553.91,100.66 L554.10,100.82 L554.29,100.97 L554.48,101.10 L554.67,101.22 L554.85,101.32 L555.04,101.40 L555.23,101.46 L555.42,101.51 L555.61,101.54 L555.80,101.55 L555.99,101.54 L556.17,101.51 L556.36,101.47 L556.55,101.41 L556.74,101.33 L556.93,101.23 L557.12,101.12 L557.31,101.00 L557.50,100.86 L557.68,100.71 L557.87,100.55 L558.06,100.38 L558.25,100.20 L558.44,100.01 L558.63,99.82 L558.82,99.62 L559.00,99.42 L559.19,99.21 L559.38,99.01 L559.57,98.80 L559.76,98.60 L559.95,98.39 L560.14,98.20 L560.32,98.01 L560.51,97.82 L560.70,97.64 L560.89,97.47 L561.08,97.32 L561.27,97.17 L561.46,97.03 L561.65,96.91 L561.83,96.80 L562.02,96.70 L562.21,96.62 L562.40,96.55 L562.59,96.50 L562.78,96.46 L562.97,96.43 L563.15,96.43 L563.34,96.43 L563.53,96.46 L563.72,96.49 L563.91,96.54 L564.10,96.61 L564.29,96.69 L564.48,96.78 L564.66,96.88 L564.85,97.00 L565.04,97.12 L565.23,97.25 L565.42,97.39 L565.61,97.54 L565.80,97.70 L565.98,97.86 L566.17,98.03 L566.36,98.20 L566.55,98.37 L566.74,98.54 L566.93,98.71 L567.12,98.88 L567.31,99.05 L567.49,99.21 L567.68,99.37 L567.87,99.52 L568.06,99.67 L568.25,99.81 L568.44,99.94 L568.63,100.06 L568.81,100.18 L569.00,100.28 L569.19,100.37 L569.38,100.45 L569.57,100.52 L569.76,100.58 L569.95,100.62 L570.14,100.65 L570.32,100.67 L570.51,100.68 L570.70,100.67 L570.89,100.66 L571.08,100.62 L571.27,100.58 L571.46,100.53 L571.64,100.46 L571.83,100.39 L572.02,100.30 L572.21,100.21 L572.40,100.10 L572.59,99.99 L572.78,99.88 L572.97,99.75 L573.15,99.62 L573.34,99.49 L573.53,99.35 L573.72,99.21 L573.91,99.07 L574.10,98.93 L574.29,98.78 L574.47,98.64 L574.66,98.50 L574.85,98.37 L575.04,98.24 L575.23,98.11 L575.42,97.99 L575.61,97.87 L575.80,97.76 L575.98,97.66 L576.17,97.56 L576.36,97.48 L576.55,97.40 L576.74,97.34 L576.93,97.28 L577.12,97.23 L577.30,97.19 L577.49,97.17 L577.68,97.15 L577.87,97.15 L578.06,97.15 L578.25,97.17 L578.44,97.19 L578.62,97.23 L578.81,97.27 L579.00,97.33 L579.19,97.39 L579.38,97.46 L579.57,97.54 L579.76,97.63 L579.95,97.72 L580.13,97.82 L580.32,97.92 L580.51,98.03 L580.70,98.14 L580.89,98.25 L581.08,98.37 L581.27,98.49 L581.45,98.60 L581.64,98.72 L581.83,98.84 L582.02,98.95 L582.21,99.07 L582.40,99.18 L582.59,99.28 L582.78,99.38 L582.96,99.48 L583.15,99.57 L583.34,99.66 L583.53,99.73 L583.72,99.81 L583.91,99.87 L584.10,99.92 L584.28,99.97 L584.47,100.01 L584.66,100.04 L584.85,100.06 L585.04,100.08 L585.23,100.08 L585.42,100.08 L585.61,100.06 L585.79,100.04 L585.98,100.01 L586.17,99.98 L586.36,99.93 L586.55,99.88 L586.74,99.82 L586.93,99.76 L587.11,99.68 L587.30,99.61 L587.49,99.53 L587.68,99.44 L587.87,99.35 L588.06,99.26 L588.25,99.16 L588.44,99.07 L588.62,98.97 L588.81,98.87 L589.00,98.77 L589.19,98.68 L589.38,98.58 L589.57,98.49 L589.76,98.40 L589.94,98.31 L590.13,98.22 L590.32,98.14 L590.51,98.07 L590.70,98.00 L590.89,97.93 L591.08,97.87 L591.27,97.82 L591.45,97.77 L591.64,97.73 L591.83,97.70 L592.02,97.68 L592.21,97.66 L592.40,97.65 L592.59,97.64 L592.77,97.65 L592.96,97.66 L593.15,97.68 L593.34,97.70 L593.53,97.73 L593.72,97.77 L593.91,97.81 L594.10,97.86 L594.28,97.91 L594.47,97.97 L594.66,98.04 L594.85,98.11 L595.04,98.18 L595.23,98.25 L595.42,98.33 L595.60,98.41 L595.79,98.49 L595.98,98.57 L596.17,98.65 L596.36,98.73 L596.55,98.81 L596.74,98.89 L596.92,98.97 L597.11,99.04 L597.30,99.12 L597.49,99.19 L597.68,99.25 L597.87,99.32 L598.06,99.38 L598.25,99.43 L598.43,99.48 L598.62,99.52 L598.81,99.56 L599.00,99.59 L599.19,99.62 L599.38,99.64 L599.57,99.66 L599.75,99.67 L599.94,99.67 L600.13,99.67 L600.32,99.66 L600.51,99.64 L600.70,99.62 L600.89,99.60 L601.08,99.57 L601.26,99.53 L601.45,99.49 L601.64,99.44 L601.83,99.39 L602.02,99.34 L602.21,99.29 L602.40,99.23 L602.58,99.16 L602.77,99.10 L602.96,99.04 L603.15,98.97 L603.34,98.90 L603.53,98.83 L603.72,98.77 L603.91,98.70 L604.09,98.63 L604.28,98.57 L604.47,98.51 L604.66,98.44 L604.85,98.39 L605.04,98.33 L605.23,98.28 L605.41,98.23 L605.60,98.19 L605.79,98.15 L605.98,98.11 L606.17,98.08 L606.36,98.05 L606.55,98.03 L606.74,98.01 L606.92,98.00 L607.11,97.99 L607.30,97.99 L607.49,97.99 L607.68,98.00 L607.87,98.01 L608.06,98.03 L608.24,98.05 L608.43,98.07 L608.62,98.10 L608.81,98.14 L609.00,98.17 L609.19,98.21 L609.38,98.26 L609.57,98.31 L609.75,98.35 L609.94,98.41 L610.13,98.46 L610.32,98.51 L610.51,98.57 L610.70,98.62 L610.89,98.68 L611.07,98.74 L611.26,98.79 L611.45,98.85 L611.64,98.90 L611.83,98.95 L612.02,99.00 L612.21,99.05 L612.40,99.10 L612.58,99.14 L612.77,99.18 L612.96,99.22 L613.15,99.25 L613.34,99.28 L613.53,99.31 L613.72,99.33 L613.90,99.35 L614.09,99.36 L614.28,99.38 L614.47,99.38 L614.66,99.38 L614.85,99.38 L615.04,99.38 L615.22,99.37 L615.41,99.35 L615.60,99.33 L615.79,99.31 L615.98,99.29 L616.17,99.26 L616.36,99.23 L616.55,99.19 L616.73,99.16 L616.92,99.12 L617.11,99.08 L617.30,99.04 L617.49,98.99 L617.68,98.95 L617.87,98.90 L618.05,98.85 L618.24,98.81 L618.43,98.76 L618.62,98.72 L618.81,98.67 L619.00,98.62 L619.19,98.58 L619.38,98.54 L619.56,98.50 L619.75,98.46 L619.94,98.43 L620.13,98.39 L620.32,98.36 L620.51,98.33 L620.70,98.31 L620.88,98.29 L621.07,98.27 L621.26,98.25 L621.45,98.24 L621.64,98.23 L621.83,98.23 L622.02,98.22 L622.21,98.23 L622.39,98.23 L622.58,98.24 L622.77,98.25 L622.96,98.27 L623.15,98.28 L623.34,98.30 L623.53,98.33 L623.71,98.35 L623.90,98.38 L624.09,98.41 L624.28,98.44 L624.47,98.48 L624.66,98.51 L624.85,98.55 L625.04,98.59 L625.22,98.62 L625.41,98.66 L625.60,98.70 L625.79,98.74 L625.98,98.78 L626.17,98.82 L626.36,98.85 L626.54,98.89 L626.73,98.92 L626.92,98.96 L627.11,98.99 L627.30,99.02 L627.49,99.05 L627.68,99.07 L627.87,99.10 L628.05,99.12 L628.24,99.14 L628.43,99.15 L628.62,99.16 L628.81,99.17 L629.00,99.18 L629.19,99.19 L629.37,99.19 L629.56,99.19 L629.75,99.18 L629.94,99.17 L630.13,99.16 L630.32,99.15 L630.51,99.14 L630.70,99.12 L630.88,99.10 L631.07,99.08 L631.26,99.06 L631.45,99.03 L631.64,99.00 L631.83,98.98 L632.02,98.95 L632.20,98.92 L632.39,98.89 L632.58,98.85 L632.77,98.82 L632.96,98.79 L633.15,98.76 L633.34,98.73 L633.52,98.69 L633.71,98.66 L633.90,98.63 L634.09,98.60 L634.28,98.58 L634.47,98.55 L634.66,98.53 L634.85,98.50 L635.03,98.48 L635.22,98.46 L635.41,98.44 L635.60,98.43 L635.79,98.42 L635.98,98.41 L636.17,98.40 L636.35,98.39 L636.54,98.39 L636.73,98.39 L636.92,98.39 L637.11,98.39 L637.30,98.40 L637.49,98.41 L637.68,98.42 L637.86,98.43 L638.05,98.44 L638.24,98.46 L638.43,98.48 L638.62,98.50 L638.81,98.52 L639.00,98.54 L639.18,98.56 L639.37,98.59 L639.56,98.61 L639.75,98.64 L639.94,98.66 L640.13,98.69 L640.32,98.72 L640.51,98.74 L640.69,98.77 L640.88,98.80 L641.07,98.82 L641.26,98.85 L641.45,98.87 L641.64,98.89 L641.83,98.92 L642.01,98.94 L642.20,98.96 L642.39,98.97 L642.58,98.99 L642.77,99.00 L642.96,99.02 L643.15,99.03 L643.34,99.04 L643.52,99.04 L643.71,99.05 L643.90,99.05 L644.09,99.05 L644.28,99.05 L644.47,99.05 L644.66,99.04 L644.84,99.04 L645.03,99.03 L645.22,99.02 L645.41,99.01 L645.60,98.99 L645.79,98.98 L645.98,98.96 L646.17,98.94 L646.35,98.93 L646.54,98.91 L646.73,98.89 L646.92,98.87 L647.11,98.84 L647.30,98.82 L647.49,98.80 L647.67,98.78 L647.86,98.76 L648.05,98.73 L648.24,98.71 L648.43,98.69 L648.62,98.67 L648.81,98.65 L649.00,98.63 L649.18,98.61 L649.37,98.60 L649.56,98.58 L649.75,98.56 L649.94,98.55 L650.13,98.54 L650.32,98.53 L650.50,98.52 L650.69,98.51 L650.88,98.51 L651.07,98.50 L651.26,98.50 L651.45,98.50 L651.64,98.50 L651.83,98.50 L652.01,98.51 L652.20,98.51 L652.39,98.52 L652.58,98.53 L652.77,98.54 L652.96,98.55 L653.15,98.56 L653.33,98.57 L653.52,98.59 L653.71,98.60 L653.90,98.62 L654.09,98.64 L654.28,98.65 L654.47,98.67 L654.65,98.69 L654.84,98.71 L655.03,98.73 L655.22,98.75 L655.41,98.76 L655.60,98.78 L655.79,98.80 L655.98,98.82 L656.16,98.83 L656.35,98.85 L656.54,98.86 L656.73,98.88 L656.92,98.89 L657.11,98.90 L657.30,98.91 L657.48,98.92 L657.67,98.93 L657.86,98.94 L658.05,98.95 L658.24,98.95 L658.43,98.96 L658.62,98.96 L658.81,98.96 L658.99,98.96 L659.18,98.96 L659.37,98.95 L659.56,98.95 L659.75,98.94 L659.94,98.93 L660.13,98.93 L660.31,98.92 L660.50,98.91 L660.69,98.90 L660.88,98.88 L661.07,98.87 L661.26,98.86 L661.45,98.84 L661.64,98.83 L661.82,98.81 L662.01,98.80 L662.20,98.78 L662.39,98.77 L662.58,98.75 L662.77,98.74 L662.96,98.72 L663.14,98.71 L663.33,98.69 L663.52,98.68 L663.71,98.67 L663.90,98.66 L664.09,98.64 L664.28,98.63 L664.47,98.62 L664.65,98.61 L664.84,98.60 L665.03,98.60 L665.22,98.59 L665.41,98.59 L665.60,98.58 L665.79,98.58 L665.97,98.58 L666.16,98.58 L666.35,98.58 L666.54,98.58 L666.73,98.58 L666.92,98.59 L667.11,98.59 L667.30,98.60 L667.48,98.60 L667.67,98.61 L667.86,98.62 L668.05,98.63 L668.24,98.64 L668.43,98.65 L668.62,98.66 L668.80,98.67 L668.99,98.68 L669.18,98.70 L669.37,98.71 L669.56,98.72 L669.75,98.73 L669.94,98.75 L670.13,98.76 L670.31,98.77 L670.50,98.78 L670.69,98.80 L670.88,98.81 L671.07,98.82 L671.26,98.83 L671.45,98.84 L671.63,98.85 L671.82,98.86 L672.01,98.86 L672.20,98.87 L672.39,98.88 L672.58,98.88 L672.77,98.89 L672.95,98.89 L673.14,98.89 L673.33,98.89 L673.52,98.89 L673.71,98.89 L673.90,98.89 L674.09,98.89 L674.28,98.89 L674.46,98.88 L674.65,98.88 L674.84,98.87 L675.03,98.87 L675.22,98.86 L675.41,98.85 L675.60,98.84 L675.78,98.83 L675.97,98.82 L676.16,98.81 L676.35,98.80 L676.54,98.79 L676.73,98.78 L676.92,98.77 L677.11,98.76 L677.29,98.75 L677.48,98.74 L677.67,98.73 L677.86,98.72 L678.05,98.71 L678.24,98.70 L678.43,98.69 L678.61,98.68 L678.80,98.68 L678.99,98.67 L679.18,98.66 L679.37,98.66 L679.56,98.65 L679.75,98.64 L679.94,98.64 L680.12,98.64 L680.31,98.63 L680.50,98.63 L680.69,98.63 L680.88,98.63 L681.07,98.63 L681.26,98.63 L681.44,98.63 L681.63,98.64 L681.82,98.64 L682.01,98.64 L682.20,98.65 L682.39,98.65 L682.58,98.66 L682.77,98.67 L682.95,98.67 L683.14,98.68 L683.33,98.69 L683.52,98.70 L683.71,98.70 L683.90,98.71 L684.09,98.72 L684.27,98.73 L684.46,98.74 L684.65,98.75 L684.84,98.76 L685.03,98.77 L685.22,98.77 L685.41,98.78 L685.60,98.79 L685.78,98.80 L685.97,98.80 L686.16,98.81 L686.35,98.82 L686.54,98.82 L686.73,98.83 L686.92,98.83 L687.10,98.84 L687.29,98.84 L687.48,98.84 L687.67,98.85 L687.86,98.85 L688.05,98.85 L688.24,98.85 L688.43,98.85 L688.61,98.85 L688.80,98.85 L688.99,98.84 L689.18,98.84 L689.37,98.84 L689.56,98.83 L689.75,98.83 L689.93,98.82 L690.12,98.82 L690.31,98.81 L690.50,98.81 L690.69,98.80 L690.88,98.79 L691.07,98.79 L691.25,98.78 L691.44,98.77 L691.63,98.77 L691.82,98.76 L692.01,98.75 L692.20,98.74 L692.39,98.74 L692.58,98.73 L692.76,98.72 L692.95,98.72 L693.14,98.71 L693.33,98.70 L693.52,98.70 L693.71,98.69 L693.90,98.69 L694.08,98.68 L694.27,98.68 L694.46,98.68 L694.65,98.67 L694.84,98.67 L695.03,98.67 L695.22,98.67 L695.41,98.67 L695.59,98.67 L695.78,98.67 L695.97,98.67 L696.16,98.67 L696.35,98.67 L696.54,98.67 L696.73,98.68 L696.91,98.68 L697.10,98.68 L697.29,98.69 L697.48,98.69 L697.67,98.70 L697.86,98.70 L698.05,98.71 L698.24,98.71 L698.42,98.72 L698.61,98.72 L698.80,98.73 L698.99,98.74"/>
</g>
<path fill="none" stroke="#000" stroke-width="1.4" d="M416.00,177.60v-3.2 M416.00,3.60v3.2 M425.43,177.60v-1.8 M425.43,3.60v1.8 M434.87,177.60v-1.8 M434.87,3.60v1.8 M444.30,177.60v-1.8 M444.30,3.60v1.8 M453.73,177.60v-1.8 M453.73,3.60v1.8 M463.17,177.60v-3.2 M463.17,3.60v3.2 M472.60,177.60v-1.8 M472.60,3.60v1.8 M482.03,177.60v-1.8 M482.03,3.60v1.8 M491.46,177.60v-1.8 M491.46,3.60v1.8 M500.90,177.60v-1.8 M500.90,3.60v1.8 M510.33,177.60v-3.2 M510.33,3.60v3.2 M519.76,177.60v-1.8 M519.76,3.60v1.8 M529.20,177.60v-1.8 M529.20,3.60v1.8 M538.63,177.60v-1.8 M538.63,3.60v1.8 M548.06,177.60v-1.8 M548.06,3.60v1.8 M557.50,177.60v-3.2 M557.50,3.60v3.2 M566.93,177.60v-1.8 M566.93,3.60v1.8 M576.36,177.60v-1.8 M576.36,3.60v1.8 M585.79,177.60v-1.8 M585.79,3.60v1.8 M595.23,177.60v-1.8 M595.23,3.60v1.8 M604.66,177.60v-3.2 M604.66,3.60v3.2 M614.09,177.60v-1.8 M614.09,3.60v1.8 M623.53,177.60v-1.8 M623.53,3.60v1.8 M632.96,177.60v-1.8 M632.96,3.60v1.8 M642.39,177.60v-1.8 M642.39,3.60v1.8 M651.83,177.60v-3.2 M651.83,3.60v3.2 M661.26,177.60v-1.8 M661.26,3.60v1.8 M670.69,177.60v-1.8 M670.69,3.60v1.8 M680.12,177.60v-1.8 M680.12,3.60v1.8 M689.56,177.60v-1.8 M689.56,3.60v1.8 M698.99,177.60v-3.2 M698.99,3.60v3.2 M409.60,174.91h3.2 M705.00,174.91h-3.2 M409.60,165.39h1.8 M705.00,165.39h-1.8 M409.60,155.87h1.8 M705.00,155.87h-1.8 M409.60,146.35h1.8 M705.00,146.35h-1.8 M409.60,136.83h3.2 M705.00,136.83h-3.2 M409.60,127.31h1.8 M705.00,127.31h-1.8 M409.60,117.79h1.8 M705.00,117.79h-1.8 M409.60,108.27h1.8 M705.00,108.27h-1.8 M409.60,98.75h3.2 M705.00,98.75h-3.2 M409.60,89.23h1.8 M705.00,89.23h-1.8 M409.60,79.71h1.8 M705.00,79.71h-1.8 M409.60,70.19h1.8 M705.00,70.19h-1.8 M409.60,60.67h3.2 M705.00,60.67h-3.2 M409.60,51.15h1.8 M705.00,51.15h-1.8 M409.60,41.63h1.8 M705.00,41.63h-1.8 M409.60,32.11h1.8 M705.00,32.11h-1.8 M409.60,22.59h3.2 M705.00,22.59h-3.2 M409.60,13.07h1.8 M705.00,13.07h-1.8"/>
<rect x="409.6" y="3.6" width="295.40" height="174.00" fill="none" stroke="#000" stroke-width="1.9"/>
<g font-family="Liberation Serif" font-weight="bold" font-size="15.5" fill="#000"><text x="416.00" y="193.20" text-anchor="middle">0</text><text x="463.17" y="193.20" text-anchor="middle">5</text><text x="510.33" y="193.20" text-anchor="middle">10</text><text x="557.50" y="193.20" text-anchor="middle">15</text><text x="604.66" y="193.20" text-anchor="middle">20</text><text x="651.83" y="193.20" text-anchor="middle">25</text><text x="698.99" y="193.20" text-anchor="middle">30</text><text x="407.00" y="27.89" text-anchor="end">0.4</text><text x="407.00" y="65.97" text-anchor="end">0.2</text><text x="407.00" y="104.05" text-anchor="end">0.0</text><rect x="375.60" y="136.13" width="9.3" height="1.4"/><text x="407.00" y="142.13" text-anchor="end">0.2</text><rect x="375.60" y="174.21" width="9.3" height="1.4"/><text x="407.00" y="180.21" text-anchor="end">0.4</text></g>
<clipPath id="clipc"><rect x="47.8" y="228.9" width="289.60" height="170.60"/></clipPath>
<g clip-path="url(#clipc)" fill="none" stroke-width="2.3" stroke-linejoin="round" stroke-linecap="round">
<path stroke="#00a800" d="M54.00,224.15 L54.19,224.50 L54.37,225.45 L54.56,226.98 L54.74,229.09 L54.93,231.74 L55.11,234.92 L55.30,238.61 L55.48,242.78 L55.67,247.39 L55.85,252.42 L56.04,257.82 L56.22,263.56 L56.41,269.60 L56.59,275.89 L56.78,282.40 L56.96,289.08 L57.15,295.89 L57.33,302.79 L57.52,309.72 L57.70,316.64 L57.89,323.51 L58.07,330.29 L58.26,336.94 L58.44,343.41 L58.63,349.66 L58.81,355.66 L59.00,361.37 L59.18,366.75 L59.37,371.79 L59.55,376.44 L59.74,380.68 L59.92,384.50 L60.11,387.86 L60.29,390.76 L60.48,393.18 L60.67,395.11 L60.85,396.54 L61.04,397.48 L61.22,397.91 L61.41,397.85 L61.59,397.29 L61.78,396.25 L61.96,394.74 L62.15,392.78 L62.33,390.38 L62.52,387.57 L62.70,384.36 L62.89,380.79 L63.07,376.87 L63.26,372.65 L63.44,368.14 L63.63,363.39 L63.81,358.43 L64.00,353.30 L64.18,348.02 L64.37,342.63 L64.55,337.18 L64.74,331.70 L64.92,326.22 L65.11,320.79 L65.29,315.43 L65.48,310.18 L65.66,305.09 L65.85,300.17 L66.03,295.46 L66.22,290.98 L66.40,286.78 L66.59,282.87 L66.77,279.27 L66.96,276.01 L67.14,273.10 L67.33,270.56 L67.52,268.41 L67.70,266.65 L67.89,265.30 L68.07,264.35 L68.26,263.82 L68.44,263.69 L68.63,263.98 L68.81,264.67 L69.00,265.76 L69.18,267.23 L69.37,269.07 L69.55,271.28 L69.74,273.82 L69.92,276.68 L70.11,279.84 L70.29,283.28 L70.48,286.97 L70.66,290.88 L70.85,295.00 L71.03,299.28 L71.22,303.70 L71.40,308.23 L71.59,312.85 L71.77,317.51 L71.96,322.19 L72.14,326.86 L72.33,331.48 L72.51,336.04 L72.70,340.49 L72.88,344.82 L73.07,348.99 L73.25,352.97 L73.44,356.75 L73.62,360.30 L73.81,363.60 L74.00,366.63 L74.18,369.38 L74.37,371.82 L74.55,373.95 L74.74,375.74 L74.92,377.20 L75.11,378.32 L75.29,379.09 L75.48,379.51 L75.66,379.59 L75.85,379.31 L76.03,378.69 L76.22,377.73 L76.40,376.45 L76.59,374.84 L76.77,372.94 L76.96,370.74 L77.14,368.27 L77.33,365.54 L77.51,362.57 L77.70,359.39 L77.88,356.02 L78.07,352.47 L78.25,348.78 L78.44,344.96 L78.62,341.04 L78.81,337.05 L78.99,333.01 L79.18,328.95 L79.36,324.90 L79.55,320.87 L79.73,316.90 L79.92,313.00 L80.10,309.21 L80.29,305.54 L80.48,302.02 L80.66,298.66 L80.85,295.49 L81.03,292.52 L81.22,289.77 L81.40,287.26 L81.59,284.99 L81.77,282.98 L81.96,281.24 L82.14,279.78 L82.33,278.59 L82.51,277.70 L82.70,277.09 L82.88,276.77 L83.07,276.73 L83.25,276.98 L83.44,277.51 L83.62,278.31 L83.81,279.37 L83.99,280.68 L84.18,282.23 L84.36,284.01 L84.55,286.00 L84.73,288.19 L84.92,290.56 L85.10,293.09 L85.29,295.76 L85.47,298.55 L85.66,301.45 L85.84,304.44 L86.03,307.48 L86.21,310.57 L86.40,313.68 L86.58,316.78 L86.77,319.87 L86.95,322.91 L87.14,325.89 L87.33,328.79 L87.51,331.59 L87.70,334.27 L87.88,336.82 L88.07,339.22 L88.25,341.45 L88.44,343.51 L88.62,345.37 L88.81,347.04 L88.99,348.49 L89.18,349.73 L89.36,350.74 L89.55,351.53 L89.73,352.08 L89.92,352.40 L90.10,352.49 L90.29,352.35 L90.47,351.97 L90.66,351.38 L90.84,350.56 L91.03,349.53 L91.21,348.30 L91.40,346.88 L91.58,345.28 L91.77,343.51 L91.95,341.58 L92.14,339.51 L92.32,337.31 L92.51,335.01 L92.69,332.60 L92.88,330.12 L93.06,327.58 L93.25,324.99 L93.43,322.38 L93.62,319.76 L93.81,317.15 L93.99,314.56 L94.18,312.02 L94.36,309.54 L94.55,307.13 L94.73,304.81 L94.92,302.60 L95.10,300.51 L95.29,298.55 L95.47,296.74 L95.66,295.08 L95.84,293.59 L96.03,292.27 L96.21,291.13 L96.40,290.18 L96.58,289.43 L96.77,288.87 L96.95,288.52 L97.14,288.36 L97.32,288.41 L97.51,288.65 L97.69,289.10 L97.88,289.73 L98.06,290.56 L98.25,291.56 L98.43,292.75 L98.62,294.09 L98.80,295.60 L98.99,297.25 L99.17,299.04 L99.36,300.95 L99.54,302.97 L99.73,305.09 L99.91,307.29 L100.10,309.57 L100.28,311.90 L100.47,314.27 L100.66,316.67 L100.84,319.07 L101.03,321.48 L101.21,323.87 L101.40,326.23 L101.58,328.54 L101.77,330.79 L101.95,332.97 L102.14,335.06 L102.32,337.06 L102.51,338.95 L102.69,340.72 L102.88,342.36 L103.06,343.87 L103.25,345.24 L103.43,346.45 L103.62,347.51 L103.80,348.41 L103.99,349.15 L104.17,349.72 L104.36,350.12 L104.54,350.36 L104.73,350.43 L104.91,350.33 L105.10,350.07 L105.28,349.66 L105.47,349.09 L105.65,348.38 L105.84,347.53 L106.02,346.54 L106.21,345.43 L106.39,344.21 L106.58,342.88 L106.76,341.45 L106.95,339.94 L107.14,338.36 L107.32,336.71 L107.51,335.02 L107.69,333.28 L107.88,331.52 L108.06,329.75 L108.25,327.97 L108.43,326.20 L108.62,324.46 L108.80,322.75 L108.99,321.08 L109.17,319.46 L109.36,317.91 L109.54,316.44 L109.73,315.05 L109.91,313.75 L110.10,312.55 L110.28,311.45 L110.47,310.47 L110.65,309.60 L110.84,308.86 L111.02,308.25 L111.21,307.76 L111.39,307.40 L111.58,307.17 L111.76,307.08 L111.95,307.12 L112.13,307.28 L112.32,307.57 L112.50,307.99 L112.69,308.52 L112.87,309.16 L113.06,309.92 L113.24,310.78 L113.43,311.73 L113.62,312.77 L113.80,313.89 L113.99,315.08 L114.17,316.33 L114.36,317.63 L114.54,318.98 L114.73,320.36 L114.91,321.77 L115.10,323.19 L115.28,324.61 L115.47,326.03 L115.65,327.43 L115.84,328.80 L116.02,330.14 L116.21,331.44 L116.39,332.68 L116.58,333.86 L116.76,334.98 L116.95,336.01 L117.13,336.96 L117.32,337.83 L117.50,338.59 L117.69,339.26 L117.87,339.82 L118.06,340.28 L118.24,340.62 L118.43,340.85 L118.61,340.97 L118.80,340.97 L118.98,340.85 L119.17,340.62 L119.35,340.28 L119.54,339.83 L119.72,339.27 L119.91,338.61 L120.09,337.85 L120.28,336.99 L120.47,336.05 L120.65,335.02 L120.84,333.91 L121.02,332.74 L121.21,331.50 L121.39,330.21 L121.58,328.87 L121.76,327.49 L121.95,326.09 L122.13,324.65 L122.32,323.21 L122.50,321.76 L122.69,320.32 L122.87,318.88 L123.06,317.47 L123.24,316.08 L123.43,314.73 L123.61,313.43 L123.80,312.17 L123.98,310.97 L124.17,309.84 L124.35,308.77 L124.54,307.78 L124.72,306.88 L124.91,306.05 L125.09,305.31 L125.28,304.67 L125.46,304.12 L125.65,303.66 L125.83,303.31 L126.02,303.05 L126.20,302.89 L126.39,302.82 L126.57,302.86 L126.76,302.99 L126.95,303.21 L127.13,303.52 L127.32,303.92 L127.50,304.40 L127.69,304.96 L127.87,305.59 L128.06,306.29 L128.24,307.06 L128.43,307.88 L128.61,308.75 L128.80,309.67 L128.98,310.63 L129.17,311.62 L129.35,312.63 L129.54,313.66 L129.72,314.70 L129.91,315.74 L130.09,316.78 L130.28,317.82 L130.46,318.83 L130.65,319.82 L130.83,320.79 L131.02,321.71 L131.20,322.60 L131.39,323.45 L131.57,324.24 L131.76,324.98 L131.94,325.65 L132.13,326.27 L132.31,326.82 L132.50,327.31 L132.68,327.72 L132.87,328.06 L133.05,328.33 L133.24,328.52 L133.43,328.65 L133.61,328.69 L133.80,328.67 L133.98,328.58 L134.17,328.41 L134.35,328.18 L134.54,327.89 L134.72,327.53 L134.91,327.12 L135.09,326.66 L135.28,326.14 L135.46,325.58 L135.65,324.99 L135.83,324.35 L136.02,323.69 L136.20,323.00 L136.39,322.30 L136.57,321.58 L136.76,320.85 L136.94,320.13 L137.13,319.40 L137.31,318.69 L137.50,317.99 L137.68,317.31 L137.87,316.65 L138.05,316.03 L138.24,315.44 L138.42,314.89 L138.61,314.39 L138.79,313.93 L138.98,313.52 L139.16,313.17 L139.35,312.87 L139.53,312.64 L139.72,312.46 L139.90,312.35 L140.09,312.30 L140.28,312.31 L140.46,312.39 L140.65,312.54 L140.83,312.75 L141.02,313.02 L141.20,313.36 L141.39,313.75 L141.57,314.20 L141.76,314.71 L141.94,315.27 L142.13,315.88 L142.31,316.54 L142.50,317.24 L142.68,317.97 L142.87,318.74 L143.05,319.54 L143.24,320.37 L143.42,321.21 L143.61,322.07 L143.79,322.94 L143.98,323.82 L144.16,324.70 L144.35,325.57 L144.53,326.43 L144.72,327.28 L144.90,328.11 L145.09,328.92 L145.27,329.70 L145.46,330.45 L145.64,331.17 L145.83,331.84 L146.01,332.47 L146.20,333.06 L146.38,333.60 L146.57,334.09 L146.76,334.52 L146.94,334.90 L147.13,335.22 L147.31,335.49 L147.50,335.69 L147.68,335.84 L147.87,335.93 L148.05,335.96 L148.24,335.93 L148.42,335.85 L148.61,335.71 L148.79,335.51 L148.98,335.26 L149.16,334.97 L149.35,334.62 L149.53,334.23 L149.72,333.80 L149.90,333.33 L150.09,332.82 L150.27,332.29 L150.46,331.72 L150.64,331.13 L150.83,330.52 L151.01,329.90 L151.20,329.26 L151.38,328.61 L151.57,327.96 L151.75,327.31 L151.94,326.66 L152.12,326.02 L152.31,325.39 L152.49,324.78 L152.68,324.18 L152.86,323.61 L153.05,323.06 L153.24,322.53 L153.42,322.04 L153.61,321.58 L153.79,321.15 L153.98,320.76 L154.16,320.41 L154.35,320.09 L154.53,319.82 L154.72,319.58 L154.90,319.39 L155.09,319.24 L155.27,319.12 L155.46,319.05 L155.64,319.02 L155.83,319.03 L156.01,319.08 L156.20,319.16 L156.38,319.27 L156.57,319.42 L156.75,319.60 L156.94,319.81 L157.12,320.04 L157.31,320.29 L157.49,320.57 L157.68,320.86 L157.86,321.16 L158.05,321.48 L158.23,321.80 L158.42,322.13 L158.60,322.46 L158.79,322.79 L158.97,323.11 L159.16,323.43 L159.34,323.73 L159.53,324.02 L159.71,324.30 L159.90,324.56 L160.09,324.79 L160.27,325.00 L160.46,325.18 L160.64,325.34 L160.83,325.47 L161.01,325.56 L161.20,325.63 L161.38,325.65 L161.57,325.65 L161.75,325.61 L161.94,325.53 L162.12,325.42 L162.31,325.28 L162.49,325.10 L162.68,324.88 L162.86,324.63 L163.05,324.35 L163.23,324.04 L163.42,323.70 L163.60,323.33 L163.79,322.94 L163.97,322.52 L164.16,322.07 L164.34,321.61 L164.53,321.14 L164.71,320.64 L164.90,320.14 L165.08,319.62 L165.27,319.11 L165.45,318.58 L165.64,318.06 L165.82,317.54 L166.01,317.02 L166.19,316.51 L166.38,316.01 L166.57,315.53 L166.75,315.06 L166.94,314.61 L167.12,314.18 L167.31,313.77 L167.49,313.38 L167.68,313.03 L167.86,312.70 L168.05,312.41 L168.23,312.14 L168.42,311.91 L168.60,311.71 L168.79,311.55 L168.97,311.42 L169.16,311.33 L169.34,311.28 L169.53,311.26 L169.71,311.28 L169.90,311.33 L170.08,311.42 L170.27,311.54 L170.45,311.70 L170.64,311.89 L170.82,312.10 L171.01,312.35 L171.19,312.63 L171.38,312.93 L171.56,313.26 L171.75,313.61 L171.93,313.98 L172.12,314.36 L172.30,314.76 L172.49,315.18 L172.67,315.61 L172.86,316.04 L173.05,316.48 L173.23,316.93 L173.42,317.38 L173.60,317.82 L173.79,318.27 L173.97,318.71 L174.16,319.14 L174.34,319.56 L174.53,319.97 L174.71,320.37 L174.90,320.75 L175.08,321.12 L175.27,321.47 L175.45,321.80 L175.64,322.11 L175.82,322.40 L176.01,322.67 L176.19,322.92 L176.38,323.14 L176.56,323.34 L176.75,323.51 L176.93,323.67 L177.12,323.80 L177.30,323.90 L177.49,323.99 L177.67,324.05 L177.86,324.09 L178.04,324.11 L178.23,324.11 L178.41,324.10 L178.60,324.06 L178.78,324.02 L178.97,323.95 L179.15,323.88 L179.34,323.80 L179.52,323.70 L179.71,323.60 L179.90,323.49 L180.08,323.38 L180.27,323.27 L180.45,323.16 L180.64,323.05 L180.82,322.94 L181.01,322.84 L181.19,322.74 L181.38,322.65 L181.56,322.57 L181.75,322.50 L181.93,322.44 L182.12,322.39 L182.30,322.36 L182.49,322.35 L182.67,322.34 L182.86,322.36 L183.04,322.39 L183.23,322.44 L183.41,322.51 L183.60,322.60 L183.78,322.70 L183.97,322.83 L184.15,322.97 L184.34,323.12 L184.52,323.30 L184.71,323.49 L184.89,323.69 L185.08,323.91 L185.26,324.14 L185.45,324.39 L185.63,324.64 L185.82,324.91 L186.00,325.19 L186.19,325.47 L186.38,325.76 L186.56,326.05 L186.75,326.34 L186.93,326.64 L187.12,326.93 L187.30,327.23 L187.49,327.52 L187.67,327.80 L187.86,328.08 L188.04,328.34 L188.23,328.60 L188.41,328.85 L188.60,329.08 L188.78,329.30 L188.97,329.50 L189.15,329.69 L189.34,329.86 L189.52,330.01 L189.71,330.13 L189.89,330.24 L190.08,330.33 L190.26,330.40 L190.45,330.44 L190.63,330.46 L190.82,330.46 L191.00,330.44 L191.19,330.39 L191.37,330.32 L191.56,330.23 L191.74,330.11 L191.93,329.98 L192.11,329.82 L192.30,329.65 L192.48,329.45 L192.67,329.24 L192.85,329.00 L193.04,328.76 L193.23,328.49 L193.41,328.22 L193.60,327.93 L193.78,327.62 L193.97,327.31 L194.15,326.99 L194.34,326.67 L194.52,326.33 L194.71,325.99 L194.89,325.65 L195.08,325.31 L195.26,324.97 L195.45,324.63 L195.63,324.29 L195.82,323.95 L196.00,323.62 L196.19,323.30 L196.37,322.98 L196.56,322.67 L196.74,322.37 L196.93,322.08 L197.11,321.81 L197.30,321.54 L197.48,321.29 L197.67,321.05 L197.85,320.82 L198.04,320.61 L198.22,320.41 L198.41,320.22 L198.59,320.05 L198.78,319.89 L198.96,319.75 L199.15,319.62 L199.33,319.50 L199.52,319.40 L199.71,319.31 L199.89,319.23 L200.08,319.17 L200.26,319.11 L200.45,319.07 L200.63,319.03 L200.82,319.01 L201.00,318.99 L201.19,318.98 L201.37,318.97 L201.56,318.97 L201.74,318.97 L201.93,318.98 L202.11,318.99 L202.30,319.00 L202.48,319.01 L202.67,319.02 L202.85,319.03 L203.04,319.04 L203.22,319.04 L203.41,319.04 L203.59,319.04 L203.78,319.03 L203.96,319.01 L204.15,318.99 L204.33,318.96 L204.52,318.93 L204.70,318.88 L204.89,318.83 L205.07,318.78 L205.26,318.71 L205.44,318.64 L205.63,318.56 L205.81,318.47 L206.00,318.38 L206.19,318.28 L206.37,318.17 L206.56,318.05 L206.74,317.93 L206.93,317.81 L207.11,317.68 L207.30,317.54 L207.48,317.41 L207.67,317.27 L207.85,317.13 L208.04,316.99 L208.22,316.84 L208.41,316.70 L208.59,316.57 L208.78,316.43 L208.96,316.30 L209.15,316.17 L209.33,316.05 L209.52,315.93 L209.70,315.83 L209.89,315.73 L210.07,315.64 L210.26,315.55 L210.44,315.48 L210.63,315.42 L210.81,315.37 L211.00,315.34 L211.18,315.31 L211.37,315.30 L211.55,315.31 L211.74,315.32 L211.92,315.35 L212.11,315.40 L212.29,315.46 L212.48,315.53 L212.66,315.62 L212.85,315.73 L213.04,315.85 L213.22,315.98 L213.41,316.12 L213.59,316.28 L213.78,316.45 L213.96,316.64 L214.15,316.83 L214.33,317.04 L214.52,317.26 L214.70,317.49 L214.89,317.73 L215.07,317.97 L215.26,318.23 L215.44,318.49 L215.63,318.75 L215.81,319.03 L216.00,319.30 L216.18,319.58 L216.37,319.86 L216.55,320.15 L216.74,320.43 L216.92,320.72 L217.11,321.00 L217.29,321.28 L217.48,321.56 L217.66,321.83 L217.85,322.11 L218.03,322.37 L218.22,322.63 L218.40,322.89 L218.59,323.13 L218.77,323.37 L218.96,323.61 L219.14,323.83 L219.33,324.04 L219.52,324.25 L219.70,324.45 L219.89,324.64 L220.07,324.81 L220.26,324.98 L220.44,325.14 L220.63,325.29 L220.81,325.43 L221.00,325.56 L221.18,325.68 L221.37,325.79 L221.55,325.89 L221.74,325.98 L221.92,326.07 L222.11,326.14 L222.29,326.21 L222.48,326.27 L222.66,326.33 L222.85,326.38 L223.03,326.42 L223.22,326.46 L223.40,326.49 L223.59,326.52 L223.77,326.54 L223.96,326.57 L224.14,326.59 L224.33,326.60 L224.51,326.62 L224.70,326.63 L224.88,326.64 L225.07,326.66 L225.25,326.67 L225.44,326.68 L225.62,326.69 L225.81,326.71 L226.00,326.72 L226.18,326.74 L226.37,326.76 L226.55,326.78 L226.74,326.80 L226.92,326.82 L227.11,326.85 L227.29,326.87 L227.48,326.90 L227.66,326.93 L227.85,326.96 L228.03,327.00 L228.22,327.03 L228.40,327.06 L228.59,327.10 L228.77,327.14 L228.96,327.17 L229.14,327.21 L229.33,327.24 L229.51,327.27 L229.70,327.30 L229.88,327.33 L230.07,327.36 L230.25,327.38 L230.44,327.40 L230.62,327.41 L230.81,327.42 L230.99,327.43 L231.18,327.43 L231.36,327.42 L231.55,327.41 L231.73,327.39 L231.92,327.37 L232.10,327.33 L232.29,327.29 L232.47,327.24 L232.66,327.19 L232.85,327.12 L233.03,327.04 L233.22,326.96 L233.40,326.87 L233.59,326.77 L233.77,326.66 L233.96,326.54 L234.14,326.41 L234.33,326.27 L234.51,326.13 L234.70,325.97 L234.88,325.81 L235.07,325.64 L235.25,325.46 L235.44,325.27 L235.62,325.08 L235.81,324.87 L235.99,324.67 L236.18,324.45 L236.36,324.23 L236.55,324.01 L236.73,323.78 L236.92,323.55 L237.10,323.31 L237.29,323.08 L237.47,322.83 L237.66,322.59 L237.84,322.35 L238.03,322.10 L238.21,321.86 L238.40,321.62 L238.58,321.37 L238.77,321.13 L238.95,320.90 L239.14,320.66 L239.33,320.43 L239.51,320.20 L239.70,319.98 L239.88,319.76 L240.07,319.54 L240.25,319.34 L240.44,319.13 L240.62,318.94 L240.81,318.75 L240.99,318.57 L241.18,318.39 L241.36,318.22 L241.55,318.06 L241.73,317.91 L241.92,317.77 L242.10,317.63 L242.29,317.50 L242.47,317.38 L242.66,317.27 L242.84,317.16 L243.03,317.06 L243.21,316.97 L243.40,316.89 L243.58,316.82 L243.77,316.75 L243.95,316.69 L244.14,316.63 L244.32,316.58 L244.51,316.54 L244.69,316.51 L244.88,316.47 L245.06,316.45 L245.25,316.43 L245.43,316.41 L245.62,316.40 L245.81,316.40 L245.99,316.39 L246.18,316.39 L246.36,316.40 L246.55,316.41 L246.73,316.42 L246.92,316.43 L247.10,316.44 L247.29,316.46 L247.47,316.48 L247.66,316.50 L247.84,316.53 L248.03,316.55 L248.21,316.58 L248.40,316.60 L248.58,316.63 L248.77,316.66 L248.95,316.69 L249.14,316.72 L249.32,316.76 L249.51,316.79 L249.69,316.83 L249.88,316.87 L250.06,316.91 L250.25,316.95 L250.43,316.99 L250.62,317.03 L250.80,317.08 L250.99,317.13 L251.17,317.18 L251.36,317.24 L251.54,317.29 L251.73,317.35 L251.91,317.41 L252.10,317.48 L252.28,317.55 L252.47,317.62 L252.66,317.70 L252.84,317.78 L253.03,317.87 L253.21,317.96 L253.40,318.06 L253.58,318.16 L253.77,318.26 L253.95,318.37 L254.14,318.49 L254.32,318.61 L254.51,318.73 L254.69,318.86 L254.88,319.00 L255.06,319.14 L255.25,319.29 L255.43,319.44 L255.62,319.60 L255.80,319.76 L255.99,319.92 L256.17,320.10 L256.36,320.27 L256.54,320.45 L256.73,320.64 L256.91,320.83 L257.10,321.02 L257.28,321.21 L257.47,321.41 L257.65,321.61 L257.84,321.82 L258.02,322.02 L258.21,322.23 L258.39,322.44 L258.58,322.65 L258.76,322.86 L258.95,323.07 L259.14,323.28 L259.32,323.49 L259.51,323.70 L259.69,323.91 L259.88,324.11 L260.06,324.31 L260.25,324.52 L260.43,324.71 L260.62,324.91 L260.80,325.10 L260.99,325.29 L261.17,325.47 L261.36,325.65 L261.54,325.82 L261.73,325.99 L261.91,326.15 L262.10,326.31 L262.28,326.46 L262.47,326.60 L262.65,326.74 L262.84,326.87 L263.02,327.00 L263.21,327.12 L263.39,327.23 L263.58,327.33 L263.76,327.43 L263.95,327.52 L264.13,327.60 L264.32,327.68 L264.50,327.74 L264.69,327.81 L264.87,327.86 L265.06,327.91 L265.24,327.95 L265.43,327.98 L265.62,328.01 L265.80,328.03 L265.99,328.05 L266.17,328.06 L266.36,328.06 L266.54,328.06 L266.73,328.05 L266.91,328.03 L267.10,328.02 L267.28,327.99 L267.47,327.96 L267.65,327.93 L267.84,327.89 L268.02,327.85 L268.21,327.80 L268.39,327.75 L268.58,327.70 L268.76,327.64 L268.95,327.58 L269.13,327.51 L269.32,327.44 L269.50,327.37 L269.69,327.30 L269.87,327.22 L270.06,327.14 L270.24,327.06 L270.43,326.98 L270.61,326.89 L270.80,326.80 L270.98,326.71 L271.17,326.62 L271.35,326.52 L271.54,326.43 L271.72,326.33 L271.91,326.22 L272.09,326.12 L272.28,326.01 L272.47,325.90 L272.65,325.79 L272.84,325.68 L273.02,325.56 L273.21,325.45 L273.39,325.33 L273.58,325.20 L273.76,325.08 L273.95,324.95 L274.13,324.82 L274.32,324.69 L274.50,324.55 L274.69,324.41 L274.87,324.27 L275.06,324.13 L275.24,323.98 L275.43,323.84 L275.61,323.68 L275.80,323.53 L275.98,323.38 L276.17,323.22 L276.35,323.06 L276.54,322.89 L276.72,322.73 L276.91,322.56 L277.09,322.39 L277.28,322.22 L277.46,322.04 L277.65,321.87 L277.83,321.69 L278.02,321.51 L278.20,321.33 L278.39,321.15 L278.57,320.97 L278.76,320.79 L278.95,320.61 L279.13,320.42 L279.32,320.24 L279.50,320.06 L279.69,319.88 L279.87,319.70 L280.06,319.52 L280.24,319.34 L280.43,319.16 L280.61,318.99 L280.80,318.82 L280.98,318.65 L281.17,318.48 L281.35,318.32 L281.54,318.16 L281.72,318.00 L281.91,317.85 L282.09,317.70 L282.28,317.55 L282.46,317.41 L282.65,317.28 L282.83,317.15 L283.02,317.02 L283.20,316.90 L283.39,316.79 L283.57,316.68 L283.76,316.58 L283.94,316.48 L284.13,316.39 L284.31,316.30 L284.50,316.23 L284.68,316.15 L284.87,316.09 L285.05,316.03 L285.24,315.98 L285.42,315.94 L285.61,315.90 L285.80,315.87 L285.98,315.84 L286.17,315.82 L286.35,315.81 L286.54,315.81 L286.72,315.81 L286.91,315.81 L287.09,315.83 L287.28,315.85 L287.46,315.87 L287.65,315.91 L287.83,315.95 L288.02,315.99 L288.20,316.04 L288.39,316.09 L288.57,316.15 L288.76,316.22 L288.94,316.29 L289.13,316.36 L289.31,316.44 L289.50,316.53 L289.68,316.61 L289.87,316.71 L290.05,316.80 L290.24,316.90 L290.42,317.01 L290.61,317.11 L290.79,317.23 L290.98,317.34 L291.16,317.46 L291.35,317.58 L291.53,317.70 L291.72,317.82 L291.90,317.95 L292.09,318.08 L292.28,318.22 L292.46,318.35 L292.65,318.49 L292.83,318.63 L293.02,318.77 L293.20,318.91 L293.39,319.06 L293.57,319.20 L293.76,319.35 L293.94,319.50 L294.13,319.65 L294.31,319.80 L294.50,319.96 L294.68,320.11 L294.87,320.27 L295.05,320.42 L295.24,320.58 L295.42,320.74 L295.61,320.90 L295.79,321.06 L295.98,321.22 L296.16,321.39 L296.35,321.55 L296.53,321.71 L296.72,321.88 L296.90,322.04 L297.09,322.21 L297.27,322.38 L297.46,322.54 L297.64,322.71 L297.83,322.88 L298.01,323.04 L298.20,323.21 L298.38,323.38 L298.57,323.54 L298.76,323.71 L298.94,323.87 L299.13,324.04 L299.31,324.20 L299.50,324.37 L299.68,324.53 L299.87,324.69 L300.05,324.85 L300.24,325.00 L300.42,325.16 L300.61,325.31 L300.79,325.46 L300.98,325.61 L301.16,325.76 L301.35,325.90 L301.53,326.04 L301.72,326.18 L301.90,326.31 L302.09,326.45 L302.27,326.57 L302.46,326.70 L302.64,326.82 L302.83,326.93 L303.01,327.04 L303.20,327.15 L303.38,327.25 L303.57,327.35 L303.75,327.44 L303.94,327.53 L304.12,327.61 L304.31,327.69 L304.49,327.76 L304.68,327.82 L304.86,327.88 L305.05,327.94 L305.23,327.99 L305.42,328.03 L305.61,328.07 L305.79,328.10 L305.98,328.12 L306.16,328.14 L306.35,328.15 L306.53,328.15 L306.72,328.15 L306.90,328.15 L307.09,328.13 L307.27,328.11 L307.46,328.09 L307.64,328.06 L307.83,328.02 L308.01,327.98 L308.20,327.93 L308.38,327.87 L308.57,327.81 L308.75,327.74 L308.94,327.67 L309.12,327.59 L309.31,327.51 L309.49,327.42 L309.68,327.33 L309.86,327.23 L310.05,327.13 L310.23,327.02 L310.42,326.91 L310.60,326.80 L310.79,326.68 L310.97,326.55 L311.16,326.42 L311.34,326.29 L311.53,326.16 L311.71,326.02 L311.90,325.88 L312.09,325.74 L312.27,325.59 L312.46,325.44 L312.64,325.29 L312.83,325.14 L313.01,324.98 L313.20,324.82 L313.38,324.66 L313.57,324.50 L313.75,324.34 L313.94,324.17 L314.12,324.01 L314.31,323.84 L314.49,323.67 L314.68,323.50 L314.86,323.33 L315.05,323.16 L315.23,322.99 L315.42,322.82 L315.60,322.65 L315.79,322.48 L315.97,322.31 L316.16,322.13 L316.34,321.96 L316.53,321.79 L316.71,321.62 L316.90,321.45 L317.08,321.28 L317.27,321.11 L317.45,320.94 L317.64,320.78 L317.82,320.61 L318.01,320.45 L318.19,320.28 L318.38,320.12 L318.57,319.96 L318.75,319.80 L318.94,319.64 L319.12,319.49 L319.31,319.33 L319.49,319.18 L319.68,319.03 L319.86,318.88 L320.05,318.74 L320.23,318.59 L320.42,318.45 L320.60,318.31 L320.79,318.18 L320.97,318.04 L321.16,317.91 L321.34,317.79 L321.53,317.66 L321.71,317.54 L321.90,317.43 L322.08,317.31 L322.27,317.20 L322.45,317.10 L322.64,316.99 L322.82,316.90 L323.01,316.80 L323.19,316.71 L323.38,316.63 L323.56,316.55 L323.75,316.47 L323.93,316.40 L324.12,316.33 L324.30,316.27 L324.49,316.21 L324.67,316.16 L324.86,316.12 L325.04,316.07 L325.23,316.04 L325.42,316.01 L325.60,315.98 L325.79,315.96 L325.97,315.95 L326.16,315.94 L326.34,315.94 L326.53,315.94 L326.71,315.95 L326.90,315.96 L327.08,315.98 L327.27,316.01 L327.45,316.04 L327.64,316.08 L327.82,316.12 L328.01,316.17 L328.19,316.22 L328.38,316.28 L328.56,316.35 L328.75,316.42 L328.93,316.49 L329.12,316.58 L329.30,316.66 L329.49,316.75 L329.67,316.85 L329.86,316.95 L330.04,317.06 L330.23,317.17 L330.41,317.28 L330.60,317.40 L330.78,317.53 L330.97,317.66 L331.15,317.79 L331.34,317.92 L331.52,318.06 L331.71,318.21"/>
<path stroke="#ff0000" d="M54.00,226.44 L54.19,226.77 L54.37,227.69 L54.56,229.20 L54.74,231.27 L54.93,233.90 L55.11,237.05 L55.30,240.70 L55.48,244.83 L55.67,249.41 L55.85,254.39 L56.04,259.75 L56.22,265.45 L56.41,271.44 L56.59,277.69 L56.78,284.15 L56.96,290.78 L57.15,297.54 L57.33,304.38 L57.52,311.26 L57.70,318.12 L57.89,324.94 L58.07,331.66 L58.26,338.25 L58.44,344.66 L58.63,350.85 L58.81,356.78 L59.00,362.43 L59.18,367.75 L59.37,372.72 L59.55,377.30 L59.74,381.48 L59.92,385.23 L60.11,388.52 L60.29,391.35 L60.48,393.70 L60.67,395.56 L60.85,396.93 L61.04,397.79 L61.22,398.15 L61.41,398.02 L61.59,397.39 L61.78,396.28 L61.96,394.70 L62.15,392.67 L62.33,390.20 L62.52,387.31 L62.70,384.03 L62.89,380.39 L63.07,376.40 L63.26,372.11 L63.44,367.53 L63.63,362.72 L63.81,357.69 L64.00,352.48 L64.18,347.13 L64.37,341.68 L64.55,336.17 L64.74,330.62 L64.92,325.08 L65.11,319.58 L65.29,314.16 L65.48,308.86 L65.66,303.70 L65.85,298.72 L66.03,293.96 L66.22,289.43 L66.40,285.17 L66.59,281.21 L66.77,277.56 L66.96,274.24 L67.14,271.29 L67.33,268.71 L67.52,266.51 L67.70,264.71 L67.89,263.31 L68.07,262.33 L68.26,261.76 L68.44,261.60 L68.63,261.85 L68.81,262.51 L69.00,263.56 L69.18,265.01 L69.37,266.82 L69.55,269.00 L69.74,271.52 L69.92,274.36 L70.11,277.51 L70.29,280.93 L70.48,284.60 L70.66,288.51 L70.85,292.61 L71.03,296.88 L71.22,301.30 L71.40,305.83 L71.59,310.44 L71.77,315.10 L71.96,319.79 L72.14,324.46 L72.33,329.09 L72.51,333.66 L72.70,338.12 L72.88,342.46 L73.07,346.64 L73.25,350.65 L73.44,354.45 L73.62,358.02 L73.81,361.34 L74.00,364.40 L74.18,367.17 L74.37,369.64 L74.55,371.80 L74.74,373.63 L74.92,375.13 L75.11,376.28 L75.29,377.09 L75.48,377.55 L75.66,377.66 L75.85,377.43 L76.03,376.86 L76.22,375.95 L76.40,374.71 L76.59,373.16 L76.77,371.30 L76.96,369.16 L77.14,366.74 L77.33,364.07 L77.51,361.16 L77.70,358.04 L77.88,354.72 L78.07,351.24 L78.25,347.60 L78.44,343.85 L78.62,339.99 L78.81,336.07 L78.99,332.10 L79.18,328.10 L79.36,324.12 L79.55,320.16 L79.73,316.25 L79.92,312.43 L80.10,308.70 L80.29,305.10 L80.48,301.65 L80.66,298.37 L80.85,295.27 L81.03,292.37 L81.22,289.69 L81.40,287.25 L81.59,285.05 L81.77,283.11 L81.96,281.45 L82.14,280.05 L82.33,278.94 L82.51,278.11 L82.70,277.57 L82.88,277.32 L83.07,277.36 L83.25,277.68 L83.44,278.27 L83.62,279.14 L83.81,280.26 L83.99,281.64 L84.18,283.26 L84.36,285.10 L84.55,287.16 L84.73,289.41 L84.92,291.84 L85.10,294.42 L85.29,297.16 L85.47,300.01 L85.66,302.97 L85.84,306.01 L86.03,309.10 L86.21,312.24 L86.40,315.40 L86.58,318.56 L86.77,321.69 L86.95,324.78 L87.14,327.80 L87.33,330.74 L87.51,333.58 L87.70,336.31 L87.88,338.89 L88.07,341.32 L88.25,343.59 L88.44,345.68 L88.62,347.57 L88.81,349.27 L88.99,350.75 L89.18,352.01 L89.36,353.05 L89.55,353.85 L89.73,354.42 L89.92,354.76 L90.10,354.86 L90.29,354.73 L90.47,354.36 L90.66,353.77 L90.84,352.96 L91.03,351.94 L91.21,350.71 L91.40,349.29 L91.58,347.68 L91.77,345.90 L91.95,343.97 L92.14,341.89 L92.32,339.68 L92.51,337.36 L92.69,334.94 L92.88,332.44 L93.06,329.88 L93.25,327.27 L93.43,324.64 L93.62,321.99 L93.81,319.35 L93.99,316.73 L94.18,314.16 L94.36,311.64 L94.55,309.20 L94.73,306.84 L94.92,304.59 L95.10,302.46 L95.29,300.46 L95.47,298.60 L95.66,296.90 L95.84,295.36 L96.03,293.99 L96.21,292.80 L96.40,291.80 L96.58,291.00 L96.77,290.39 L96.95,289.97 L97.14,289.76 L97.32,289.75 L97.51,289.93 L97.69,290.32 L97.88,290.89 L98.06,291.65 L98.25,292.59 L98.43,293.71 L98.62,294.99 L98.80,296.43 L98.99,298.01 L99.17,299.73 L99.36,301.57 L99.54,303.53 L99.73,305.58 L99.91,307.71 L100.10,309.91 L100.28,312.17 L100.47,314.47 L100.66,316.80 L100.84,319.14 L101.03,321.47 L101.21,323.79 L101.40,326.07 L101.58,328.31 L101.77,330.49 L101.95,332.60 L102.14,334.63 L102.32,336.55 L102.51,338.37 L102.69,340.08 L102.88,341.65 L103.06,343.09 L103.25,344.39 L103.43,345.54 L103.62,346.53 L103.80,347.37 L103.99,348.04 L104.17,348.54 L104.36,348.89 L104.54,349.06 L104.73,349.07 L104.91,348.92 L105.10,348.60 L105.28,348.13 L105.47,347.51 L105.65,346.75 L105.84,345.84 L106.02,344.81 L106.21,343.65 L106.39,342.38 L106.58,341.00 L106.76,339.53 L106.95,337.98 L107.14,336.35 L107.32,334.67 L107.51,332.94 L107.69,331.17 L107.88,329.37 L108.06,327.57 L108.25,325.76 L108.43,323.97 L108.62,322.20 L108.80,320.46 L108.99,318.77 L109.17,317.14 L109.36,315.57 L109.54,314.08 L109.73,312.67 L109.91,311.36 L110.10,310.15 L110.28,309.05 L110.47,308.07 L110.65,307.20 L110.84,306.46 L111.02,305.84 L111.21,305.36 L111.39,305.01 L111.58,304.79 L111.76,304.70 L111.95,304.75 L112.13,304.93 L112.32,305.24 L112.50,305.67 L112.69,306.22 L112.87,306.89 L113.06,307.67 L113.24,308.55 L113.43,309.53 L113.62,310.60 L113.80,311.76 L113.99,312.98 L114.17,314.27 L114.36,315.61 L114.54,317.00 L114.73,318.42 L114.91,319.87 L115.10,321.33 L115.28,322.80 L115.47,324.27 L115.65,325.72 L115.84,327.14 L116.02,328.54 L116.21,329.89 L116.39,331.18 L116.58,332.42 L116.76,333.59 L116.95,334.69 L117.13,335.70 L117.32,336.62 L117.50,337.45 L117.69,338.18 L117.87,338.81 L118.06,339.33 L118.24,339.74 L118.43,340.04 L118.61,340.22 L118.80,340.29 L118.98,340.24 L119.17,340.08 L119.35,339.81 L119.54,339.43 L119.72,338.94 L119.91,338.35 L120.09,337.66 L120.28,336.88 L120.47,336.00 L120.65,335.05 L120.84,334.01 L121.02,332.91 L121.21,331.74 L121.39,330.52 L121.58,329.25 L121.76,327.95 L121.95,326.61 L122.13,325.25 L122.32,323.87 L122.50,322.49 L122.69,321.11 L122.87,319.75 L123.06,318.40 L123.24,317.08 L123.43,315.79 L123.61,314.55 L123.80,313.36 L123.98,312.22 L124.17,311.15 L124.35,310.14 L124.54,309.21 L124.72,308.36 L124.91,307.59 L125.09,306.91 L125.28,306.32 L125.46,305.82 L125.65,305.41 L125.83,305.10 L126.02,304.89 L126.20,304.77 L126.39,304.76 L126.57,304.83 L126.76,305.00 L126.95,305.26 L127.13,305.61 L127.32,306.04 L127.50,306.55 L127.69,307.14 L127.87,307.81 L128.06,308.54 L128.24,309.33 L128.43,310.17 L128.61,311.07 L128.80,312.00 L128.98,312.98 L129.17,313.98 L129.35,315.00 L129.54,316.04 L129.72,317.09 L129.91,318.14 L130.09,319.19 L130.28,320.22 L130.46,321.24 L130.65,322.23 L130.83,323.19 L131.02,324.11 L131.20,324.99 L131.39,325.82 L131.57,326.60 L131.76,327.32 L131.94,327.98 L132.13,328.58 L132.31,329.11 L132.50,329.57 L132.68,329.96 L132.87,330.28 L133.05,330.52 L133.24,330.68 L133.43,330.77 L133.61,330.78 L133.80,330.72 L133.98,330.59 L134.17,330.39 L134.35,330.12 L134.54,329.78 L134.72,329.38 L134.91,328.92 L135.09,328.41 L135.28,327.84 L135.46,327.23 L135.65,326.58 L135.83,325.89 L136.02,325.17 L136.20,324.43 L136.39,323.67 L136.57,322.89 L136.76,322.10 L136.94,321.31 L137.13,320.53 L137.31,319.75 L137.50,318.98 L137.68,318.24 L137.87,317.52 L138.05,316.83 L138.24,316.17 L138.42,315.56 L138.61,314.98 L138.79,314.45 L138.98,313.98 L139.16,313.55 L139.35,313.19 L139.53,312.88 L139.72,312.63 L139.90,312.45 L140.09,312.33 L140.28,312.27 L140.46,312.28 L140.65,312.35 L140.83,312.49 L141.02,312.69 L141.20,312.96 L141.39,313.28 L141.57,313.66 L141.76,314.10 L141.94,314.59 L142.13,315.14 L142.31,315.72 L142.50,316.35 L142.68,317.02 L142.87,317.73 L143.05,318.46 L143.24,319.23 L143.42,320.01 L143.61,320.81 L143.79,321.62 L143.98,322.43 L144.16,323.25 L144.35,324.07 L144.53,324.88 L144.72,325.67 L144.90,326.45 L145.09,327.21 L145.27,327.94 L145.46,328.64 L145.64,329.31 L145.83,329.94 L146.01,330.53 L146.20,331.08 L146.38,331.57 L146.57,332.02 L146.76,332.42 L146.94,332.77 L147.13,333.06 L147.31,333.29 L147.50,333.47 L147.68,333.59 L147.87,333.66 L148.05,333.66 L148.24,333.62 L148.42,333.51 L148.61,333.35 L148.79,333.14 L148.98,332.89 L149.16,332.58 L149.35,332.23 L149.53,331.83 L149.72,331.39 L149.90,330.92 L150.09,330.42 L150.27,329.88 L150.46,329.32 L150.64,328.74 L150.83,328.14 L151.01,327.53 L151.20,326.90 L151.38,326.27 L151.57,325.64 L151.75,325.00 L151.94,324.38 L152.12,323.76 L152.31,323.16 L152.49,322.57 L152.68,322.00 L152.86,321.46 L153.05,320.94 L153.24,320.45 L153.42,320.00 L153.61,319.57 L153.79,319.19 L153.98,318.84 L154.16,318.53 L154.35,318.26 L154.53,318.03 L154.72,317.85 L154.90,317.70 L155.09,317.60 L155.27,317.54 L155.46,317.53 L155.64,317.55 L155.83,317.62 L156.01,317.72 L156.20,317.86 L156.38,318.04 L156.57,318.25 L156.75,318.49 L156.94,318.76 L157.12,319.06 L157.31,319.38 L157.49,319.72 L157.68,320.08 L157.86,320.45 L158.05,320.83 L158.23,321.23 L158.42,321.63 L158.60,322.03 L158.79,322.42 L158.97,322.82 L159.16,323.21 L159.34,323.58 L159.53,323.94 L159.71,324.29 L159.90,324.62 L160.09,324.92 L160.27,325.20 L160.46,325.46 L160.64,325.69 L160.83,325.88 L161.01,326.05 L161.20,326.18 L161.38,326.28 L161.57,326.35 L161.75,326.37 L161.94,326.37 L162.12,326.32 L162.31,326.24 L162.49,326.13 L162.68,325.98 L162.86,325.79 L163.05,325.57 L163.23,325.32 L163.42,325.04 L163.60,324.73 L163.79,324.39 L163.97,324.03 L164.16,323.64 L164.34,323.23 L164.53,322.81 L164.71,322.37 L164.90,321.91 L165.08,321.45 L165.27,320.97 L165.45,320.49 L165.64,320.01 L165.82,319.53 L166.01,319.05 L166.19,318.58 L166.38,318.12 L166.57,317.67 L166.75,317.23 L166.94,316.81 L167.12,316.40 L167.31,316.02 L167.49,315.66 L167.68,315.33 L167.86,315.02 L168.05,314.74 L168.23,314.50 L168.42,314.28 L168.60,314.09 L168.79,313.94 L168.97,313.82 L169.16,313.73 L169.34,313.68 L169.53,313.67 L169.71,313.68 L169.90,313.73 L170.08,313.82 L170.27,313.93 L170.45,314.08 L170.64,314.25 L170.82,314.46 L171.01,314.69 L171.19,314.95 L171.38,315.23 L171.56,315.54 L171.75,315.86 L171.93,316.20 L172.12,316.56 L172.30,316.94 L172.49,317.32 L172.67,317.71 L172.86,318.11 L173.05,318.52 L173.23,318.92 L173.42,319.33 L173.60,319.74 L173.79,320.13 L173.97,320.53 L174.16,320.91 L174.34,321.29 L174.53,321.65 L174.71,321.99 L174.90,322.32 L175.08,322.63 L175.27,322.93 L175.45,323.20 L175.64,323.45 L175.82,323.68 L176.01,323.89 L176.19,324.07 L176.38,324.23 L176.56,324.37 L176.75,324.48 L176.93,324.56 L177.12,324.63 L177.30,324.67 L177.49,324.68 L177.67,324.67 L177.86,324.65 L178.04,324.60 L178.23,324.53 L178.41,324.44 L178.60,324.34 L178.78,324.22 L178.97,324.09 L179.15,323.94 L179.34,323.79 L179.52,323.62 L179.71,323.45 L179.90,323.27 L180.08,323.09 L180.27,322.91 L180.45,322.72 L180.64,322.54 L180.82,322.36 L181.01,322.19 L181.19,322.02 L181.38,321.87 L181.56,321.72 L181.75,321.58 L181.93,321.46 L182.12,321.35 L182.30,321.25 L182.49,321.17 L182.67,321.11 L182.86,321.07 L183.04,321.04 L183.23,321.03 L183.41,321.04 L183.60,321.07 L183.78,321.12 L183.97,321.19 L184.15,321.28 L184.34,321.39 L184.52,321.51 L184.71,321.65 L184.89,321.81 L185.08,321.99 L185.26,322.18 L185.45,322.38 L185.63,322.60 L185.82,322.83 L186.00,323.07 L186.19,323.32 L186.38,323.58 L186.56,323.84 L186.75,324.11 L186.93,324.38 L187.12,324.65 L187.30,324.92 L187.49,325.19 L187.67,325.46 L187.86,325.72 L188.04,325.97 L188.23,326.22 L188.41,326.46 L188.60,326.68 L188.78,326.90 L188.97,327.10 L189.15,327.28 L189.34,327.45 L189.52,327.60 L189.71,327.74 L189.89,327.86 L190.08,327.95 L190.26,328.03 L190.45,328.09 L190.63,328.13 L190.82,328.15 L191.00,328.14 L191.19,328.12 L191.37,328.07 L191.56,328.01 L191.74,327.92 L191.93,327.82 L192.11,327.69 L192.30,327.55 L192.48,327.39 L192.67,327.21 L192.85,327.02 L193.04,326.81 L193.23,326.59 L193.41,326.36 L193.60,326.12 L193.78,325.86 L193.97,325.60 L194.15,325.33 L194.34,325.06 L194.52,324.78 L194.71,324.50 L194.89,324.21 L195.08,323.93 L195.26,323.64 L195.45,323.36 L195.63,323.08 L195.82,322.81 L196.00,322.54 L196.19,322.28 L196.37,322.03 L196.56,321.79 L196.74,321.56 L196.93,321.34 L197.11,321.13 L197.30,320.93 L197.48,320.75 L197.67,320.58 L197.85,320.42 L198.04,320.28 L198.22,320.15 L198.41,320.03 L198.59,319.93 L198.78,319.85 L198.96,319.78 L199.15,319.72 L199.33,319.67 L199.52,319.64 L199.71,319.62 L199.89,319.62 L200.08,319.62 L200.26,319.64 L200.45,319.66 L200.63,319.70 L200.82,319.74 L201.00,319.79 L201.19,319.84 L201.37,319.90 L201.56,319.97 L201.74,320.04 L201.93,320.11 L202.11,320.18 L202.30,320.25 L202.48,320.32 L202.67,320.39 L202.85,320.46 L203.04,320.52 L203.22,320.58 L203.41,320.63 L203.59,320.68 L203.78,320.72 L203.96,320.76 L204.15,320.79 L204.33,320.80 L204.52,320.82 L204.70,320.82 L204.89,320.81 L205.07,320.79 L205.26,320.76 L205.44,320.73 L205.63,320.68 L205.81,320.63 L206.00,320.56 L206.19,320.49 L206.37,320.41 L206.56,320.32 L206.74,320.22 L206.93,320.12 L207.11,320.01 L207.30,319.89 L207.48,319.77 L207.67,319.64 L207.85,319.51 L208.04,319.38 L208.22,319.24 L208.41,319.11 L208.59,318.97 L208.78,318.84 L208.96,318.70 L209.15,318.57 L209.33,318.44 L209.52,318.32 L209.70,318.20 L209.89,318.09 L210.07,317.98 L210.26,317.88 L210.44,317.79 L210.63,317.71 L210.81,317.64 L211.00,317.58 L211.18,317.53 L211.37,317.49 L211.55,317.46 L211.74,317.45 L211.92,317.44 L212.11,317.45 L212.29,317.47 L212.48,317.51 L212.66,317.56 L212.85,317.62 L213.04,317.69 L213.22,317.77 L213.41,317.87 L213.59,317.98 L213.78,318.10 L213.96,318.23 L214.15,318.37 L214.33,318.53 L214.52,318.69 L214.70,318.86 L214.89,319.04 L215.07,319.22 L215.26,319.41 L215.44,319.61 L215.63,319.81 L215.81,320.02 L216.00,320.23 L216.18,320.45 L216.37,320.66 L216.55,320.88 L216.74,321.09 L216.92,321.31 L217.11,321.52 L217.29,321.73 L217.48,321.94 L217.66,322.15 L217.85,322.35 L218.03,322.54 L218.22,322.73 L218.40,322.91 L218.59,323.09 L218.77,323.26 L218.96,323.42 L219.14,323.57 L219.33,323.71 L219.52,323.85 L219.70,323.98 L219.89,324.09 L220.07,324.20 L220.26,324.30 L220.44,324.39 L220.63,324.47 L220.81,324.55 L221.00,324.61 L221.18,324.66 L221.37,324.71 L221.55,324.75 L221.74,324.78 L221.92,324.80 L222.11,324.82 L222.29,324.83 L222.48,324.83 L222.66,324.83 L222.85,324.82 L223.03,324.81 L223.22,324.80 L223.40,324.78 L223.59,324.76 L223.77,324.74 L223.96,324.71 L224.14,324.69 L224.33,324.66 L224.51,324.63 L224.70,324.61 L224.88,324.58 L225.07,324.56 L225.25,324.54 L225.44,324.52 L225.62,324.50 L225.81,324.48 L226.00,324.47 L226.18,324.47 L226.37,324.46 L226.55,324.46 L226.74,324.46 L226.92,324.47 L227.11,324.48 L227.29,324.50 L227.48,324.51 L227.66,324.54 L227.85,324.56 L228.03,324.59 L228.22,324.62 L228.40,324.66 L228.59,324.70 L228.77,324.74 L228.96,324.78 L229.14,324.82 L229.33,324.87 L229.51,324.91 L229.70,324.96 L229.88,325.00 L230.07,325.05 L230.25,325.09 L230.44,325.14 L230.62,325.18 L230.81,325.21 L230.99,325.25 L231.18,325.28 L231.36,325.31 L231.55,325.33 L231.73,325.35 L231.92,325.36 L232.10,325.37 L232.29,325.37 L232.47,325.36 L232.66,325.35 L232.85,325.33 L233.03,325.31 L233.22,325.28 L233.40,325.24 L233.59,325.19 L233.77,325.13 L233.96,325.07 L234.14,325.00 L234.33,324.92 L234.51,324.83 L234.70,324.74 L234.88,324.64 L235.07,324.53 L235.25,324.41 L235.44,324.29 L235.62,324.16 L235.81,324.03 L235.99,323.89 L236.18,323.74 L236.36,323.59 L236.55,323.44 L236.73,323.28 L236.92,323.11 L237.10,322.95 L237.29,322.78 L237.47,322.61 L237.66,322.44 L237.84,322.27 L238.03,322.09 L238.21,321.92 L238.40,321.75 L238.58,321.58 L238.77,321.41 L238.95,321.24 L239.14,321.08 L239.33,320.92 L239.51,320.76 L239.70,320.60 L239.88,320.45 L240.07,320.31 L240.25,320.17 L240.44,320.03 L240.62,319.90 L240.81,319.78 L240.99,319.66 L241.18,319.55 L241.36,319.44 L241.55,319.34 L241.73,319.25 L241.92,319.17 L242.10,319.09 L242.29,319.01 L242.47,318.95 L242.66,318.89 L242.84,318.84 L243.03,318.79 L243.21,318.75 L243.40,318.71 L243.58,318.68 L243.77,318.66 L243.95,318.64 L244.14,318.63 L244.32,318.62 L244.51,318.61 L244.69,318.61 L244.88,318.61 L245.06,318.62 L245.25,318.63 L245.43,318.64 L245.62,318.66 L245.81,318.68 L245.99,318.69 L246.18,318.72 L246.36,318.74 L246.55,318.76 L246.73,318.78 L246.92,318.81 L247.10,318.83 L247.29,318.86 L247.47,318.88 L247.66,318.91 L247.84,318.93 L248.03,318.95 L248.21,318.98 L248.40,319.00 L248.58,319.02 L248.77,319.04 L248.95,319.06 L249.14,319.08 L249.32,319.10 L249.51,319.11 L249.69,319.13 L249.88,319.15 L250.06,319.16 L250.25,319.18 L250.43,319.19 L250.62,319.21 L250.80,319.22 L250.99,319.24 L251.17,319.25 L251.36,319.27 L251.54,319.29 L251.73,319.30 L251.91,319.33 L252.10,319.35 L252.28,319.37 L252.47,319.40 L252.66,319.43 L252.84,319.46 L253.03,319.49 L253.21,319.53 L253.40,319.57 L253.58,319.61 L253.77,319.66 L253.95,319.71 L254.14,319.77 L254.32,319.83 L254.51,319.89 L254.69,319.96 L254.88,320.03 L255.06,320.10 L255.25,320.19 L255.43,320.27 L255.62,320.36 L255.80,320.45 L255.99,320.55 L256.17,320.65 L256.36,320.76 L256.54,320.87 L256.73,320.98 L256.91,321.10 L257.10,321.22 L257.28,321.35 L257.47,321.47 L257.65,321.60 L257.84,321.74 L258.02,321.87 L258.21,322.01 L258.39,322.14 L258.58,322.28 L258.76,322.42 L258.95,322.56 L259.14,322.70 L259.32,322.85 L259.51,322.99 L259.69,323.12 L259.88,323.26 L260.06,323.40 L260.25,323.54 L260.43,323.67 L260.62,323.80 L260.80,323.93 L260.99,324.05 L261.17,324.17 L261.36,324.29 L261.54,324.41 L261.73,324.52 L261.91,324.62 L262.10,324.73 L262.28,324.82 L262.47,324.92 L262.65,325.00 L262.84,325.09 L263.02,325.17 L263.21,325.24 L263.39,325.30 L263.58,325.37 L263.76,325.42 L263.95,325.47 L264.13,325.52 L264.32,325.56 L264.50,325.60 L264.69,325.63 L264.87,325.65 L265.06,325.67 L265.24,325.69 L265.43,325.70 L265.62,325.71 L265.80,325.71 L265.99,325.71 L266.17,325.70 L266.36,325.69 L266.54,325.67 L266.73,325.66 L266.91,325.64 L267.10,325.61 L267.28,325.59 L267.47,325.56 L267.65,325.52 L267.84,325.49 L268.02,325.45 L268.21,325.41 L268.39,325.37 L268.58,325.33 L268.76,325.29 L268.95,325.24 L269.13,325.20 L269.32,325.15 L269.50,325.10 L269.69,325.05 L269.87,325.00 L270.06,324.95 L270.24,324.90 L270.43,324.85 L270.61,324.79 L270.80,324.74 L270.98,324.69 L271.17,324.63 L271.35,324.58 L271.54,324.53 L271.72,324.47 L271.91,324.41 L272.09,324.36 L272.28,324.30 L272.47,324.24 L272.65,324.18 L272.84,324.13 L273.02,324.07 L273.21,324.00 L273.39,323.94 L273.58,323.88 L273.76,323.81 L273.95,323.75 L274.13,323.68 L274.32,323.61 L274.50,323.54 L274.69,323.47 L274.87,323.39 L275.06,323.32 L275.24,323.24 L275.43,323.16 L275.61,323.08 L275.80,322.99 L275.98,322.90 L276.17,322.82 L276.35,322.73 L276.54,322.63 L276.72,322.54 L276.91,322.44 L277.09,322.34 L277.28,322.24 L277.46,322.14 L277.65,322.04 L277.83,321.93 L278.02,321.82 L278.20,321.71 L278.39,321.60 L278.57,321.49 L278.76,321.38 L278.95,321.27 L279.13,321.15 L279.32,321.04 L279.50,320.92 L279.69,320.81 L279.87,320.69 L280.06,320.58 L280.24,320.46 L280.43,320.35 L280.61,320.24 L280.80,320.13 L280.98,320.02 L281.17,319.91 L281.35,319.80 L281.54,319.70 L281.72,319.59 L281.91,319.49 L282.09,319.39 L282.28,319.30 L282.46,319.21 L282.65,319.12 L282.83,319.03 L283.02,318.95 L283.20,318.87 L283.39,318.80 L283.57,318.73 L283.76,318.66 L283.94,318.60 L284.13,318.54 L284.31,318.49 L284.50,318.44 L284.68,318.40 L284.87,318.36 L285.05,318.32 L285.24,318.29 L285.42,318.27 L285.61,318.24 L285.80,318.23 L285.98,318.22 L286.17,318.21 L286.35,318.20 L286.54,318.21 L286.72,318.21 L286.91,318.22 L287.09,318.23 L287.28,318.25 L287.46,318.27 L287.65,318.30 L287.83,318.33 L288.02,318.36 L288.20,318.40 L288.39,318.44 L288.57,318.48 L288.76,318.53 L288.94,318.58 L289.13,318.63 L289.31,318.68 L289.50,318.74 L289.68,318.80 L289.87,318.86 L290.05,318.93 L290.24,318.99 L290.42,319.06 L290.61,319.13 L290.79,319.20 L290.98,319.27 L291.16,319.34 L291.35,319.42 L291.53,319.50 L291.72,319.57 L291.90,319.65 L292.09,319.73 L292.28,319.81 L292.46,319.89 L292.65,319.97 L292.83,320.05 L293.02,320.14 L293.20,320.22 L293.39,320.30 L293.57,320.39 L293.76,320.47 L293.94,320.56 L294.13,320.65 L294.31,320.73 L294.50,320.82 L294.68,320.91 L294.87,321.00 L295.05,321.08 L295.24,321.17 L295.42,321.26 L295.61,321.35 L295.79,321.44 L295.98,321.54 L296.16,321.63 L296.35,321.72 L296.53,321.81 L296.72,321.91 L296.90,322.00 L297.09,322.09 L297.27,322.19 L297.46,322.28 L297.64,322.38 L297.83,322.48 L298.01,322.57 L298.20,322.67 L298.38,322.77 L298.57,322.86 L298.76,322.96 L298.94,323.06 L299.13,323.16 L299.31,323.25 L299.50,323.35 L299.68,323.45 L299.87,323.55 L300.05,323.64 L300.24,323.74 L300.42,323.83 L300.61,323.93 L300.79,324.02 L300.98,324.11 L301.16,324.20 L301.35,324.29 L301.53,324.38 L301.72,324.47 L301.90,324.55 L302.09,324.64 L302.27,324.72 L302.46,324.80 L302.64,324.87 L302.83,324.95 L303.01,325.02 L303.20,325.09 L303.38,325.16 L303.57,325.22 L303.75,325.28 L303.94,325.34 L304.12,325.39 L304.31,325.44 L304.49,325.49 L304.68,325.53 L304.86,325.57 L305.05,325.60 L305.23,325.64 L305.42,325.66 L305.61,325.69 L305.79,325.71 L305.98,325.72 L306.16,325.74 L306.35,325.74 L306.53,325.75 L306.72,325.75 L306.90,325.74 L307.09,325.73 L307.27,325.72 L307.46,325.71 L307.64,325.68 L307.83,325.66 L308.01,325.63 L308.20,325.60 L308.38,325.56 L308.57,325.52 L308.75,325.48 L308.94,325.43 L309.12,325.38 L309.31,325.33 L309.49,325.27 L309.68,325.22 L309.86,325.15 L310.05,325.09 L310.23,325.02 L310.42,324.95 L310.60,324.87 L310.79,324.80 L310.97,324.72 L311.16,324.64 L311.34,324.56 L311.53,324.47 L311.71,324.39 L311.90,324.30 L312.09,324.21 L312.27,324.12 L312.46,324.03 L312.64,323.93 L312.83,323.84 L313.01,323.75 L313.20,323.65 L313.38,323.55 L313.57,323.45 L313.75,323.36 L313.94,323.26 L314.12,323.16 L314.31,323.06 L314.49,322.96 L314.68,322.86 L314.86,322.76 L315.05,322.66 L315.23,322.56 L315.42,322.45 L315.60,322.35 L315.79,322.25 L315.97,322.15 L316.16,322.05 L316.34,321.95 L316.53,321.85 L316.71,321.75 L316.90,321.66 L317.08,321.56 L317.27,321.46 L317.45,321.36 L317.64,321.27 L317.82,321.17 L318.01,321.07 L318.19,320.98 L318.38,320.88 L318.57,320.79 L318.75,320.70 L318.94,320.61 L319.12,320.52 L319.31,320.43 L319.49,320.34 L319.68,320.25 L319.86,320.16 L320.05,320.07 L320.23,319.99 L320.42,319.91 L320.60,319.82 L320.79,319.74 L320.97,319.66 L321.16,319.59 L321.34,319.51 L321.53,319.44 L321.71,319.36 L321.90,319.29 L322.08,319.22 L322.27,319.16 L322.45,319.09 L322.64,319.03 L322.82,318.97 L323.01,318.91 L323.19,318.85 L323.38,318.80 L323.56,318.75 L323.75,318.70 L323.93,318.65 L324.12,318.61 L324.30,318.57 L324.49,318.53 L324.67,318.50 L324.86,318.47 L325.04,318.44 L325.23,318.42 L325.42,318.40 L325.60,318.38 L325.79,318.36 L325.97,318.35 L326.16,318.35 L326.34,318.34 L326.53,318.34 L326.71,318.35 L326.90,318.35 L327.08,318.36 L327.27,318.38 L327.45,318.40 L327.64,318.42 L327.82,318.44 L328.01,318.47 L328.19,318.50 L328.38,318.54 L328.56,318.58 L328.75,318.62 L328.93,318.67 L329.12,318.72 L329.30,318.77 L329.49,318.82 L329.67,318.88 L329.86,318.95 L330.04,319.01 L330.23,319.08 L330.41,319.15 L330.60,319.22 L330.78,319.30 L330.97,319.38 L331.15,319.46 L331.34,319.54 L331.52,319.63 L331.71,319.72"/>
<path stroke="#0000ff" d="M54.00,229.65 L54.19,229.95 L54.37,230.83 L54.56,232.30 L54.74,234.33 L54.93,236.91 L55.11,240.02 L55.30,243.63 L55.48,247.71 L55.67,252.23 L55.85,257.15 L56.04,262.45 L56.22,268.09 L56.41,274.02 L56.59,280.20 L56.78,286.60 L56.96,293.16 L57.15,299.85 L57.33,306.61 L57.52,313.41 L57.70,320.20 L57.89,326.94 L58.07,333.58 L58.26,340.08 L58.44,346.40 L58.63,352.51 L58.81,358.36 L59.00,363.91 L59.18,369.14 L59.37,374.02 L59.55,378.51 L59.74,382.60 L59.92,386.25 L60.11,389.45 L60.29,392.18 L60.48,394.44 L60.67,396.20 L60.85,397.46 L61.04,398.23 L61.22,398.49 L61.41,398.25 L61.59,397.53 L61.78,396.32 L61.96,394.64 L62.15,392.50 L62.33,389.93 L62.52,386.95 L62.70,383.57 L62.89,379.83 L63.07,375.74 L63.26,371.35 L63.44,366.68 L63.63,361.77 L63.81,356.64 L64.00,351.34 L64.18,345.90 L64.37,340.36 L64.55,334.75 L64.74,329.11 L64.92,323.48 L65.11,317.90 L65.29,312.39 L65.48,307.01 L65.66,301.76 L65.85,296.71 L66.03,291.86 L66.22,287.26 L66.40,282.92 L66.59,278.88 L66.77,275.16 L66.96,271.78 L67.14,268.76 L67.33,266.11 L67.52,263.85 L67.70,261.99 L67.89,260.53 L68.07,259.49 L68.26,258.87 L68.44,258.66 L68.63,258.87 L68.81,259.48 L69.00,260.49 L69.18,261.90 L69.37,263.68 L69.55,265.82 L69.74,268.31 L69.92,271.12 L70.11,274.24 L70.29,277.64 L70.48,281.29 L70.66,285.18 L70.85,289.27 L71.03,293.53 L71.22,297.94 L71.40,302.46 L71.59,307.07 L71.77,311.74 L71.96,316.42 L72.14,321.10 L72.33,325.75 L72.51,330.32 L72.70,334.80 L72.88,339.16 L73.07,343.36 L73.25,347.39 L73.44,351.22 L73.62,354.82 L73.81,358.18 L74.00,361.27 L74.18,364.08 L74.37,366.59 L74.55,368.79 L74.74,370.67 L74.92,372.21 L75.11,373.42 L75.29,374.28 L75.48,374.80 L75.66,374.97 L75.85,374.80 L76.03,374.29 L76.22,373.45 L76.40,372.28 L76.59,370.80 L76.77,369.01 L76.96,366.94 L77.14,364.60 L77.33,362.01 L77.51,359.18 L77.70,356.14 L77.88,352.91 L78.07,349.51 L78.25,345.96 L78.44,342.29 L78.62,338.53 L78.81,334.70 L78.99,330.82 L79.18,326.92 L79.36,323.02 L79.55,319.16 L79.73,315.35 L79.92,311.62 L80.10,308.00 L80.29,304.50 L80.48,301.14 L80.66,297.95 L80.85,294.95 L81.03,292.16 L81.22,289.58 L81.40,287.24 L81.59,285.14 L81.77,283.30 L81.96,281.73 L82.14,280.44 L82.33,279.43 L82.51,278.70 L82.70,278.26 L82.88,278.10 L83.07,278.24 L83.25,278.65 L83.44,279.34 L83.62,280.30 L83.81,281.52 L83.99,282.99 L84.18,284.70 L84.36,286.63 L84.55,288.78 L84.73,291.11 L84.92,293.63 L85.10,296.30 L85.29,299.11 L85.47,302.05 L85.66,305.08 L85.84,308.20 L86.03,311.37 L86.21,314.59 L86.40,317.81 L86.58,321.04 L86.77,324.24 L86.95,327.39 L87.14,330.48 L87.33,333.48 L87.51,336.38 L87.70,339.15 L87.88,341.79 L88.07,344.27 L88.25,346.59 L88.44,348.72 L88.62,350.66 L88.81,352.39 L88.99,353.90 L89.18,355.20 L89.36,356.27 L89.55,357.10 L89.73,357.70 L89.92,358.05 L90.10,358.17 L90.29,358.06 L90.47,357.71 L90.66,357.13 L90.84,356.33 L91.03,355.31 L91.21,354.08 L91.40,352.66 L91.58,351.04 L91.77,349.26 L91.95,347.31 L92.14,345.22 L92.32,343.00 L92.51,340.66 L92.69,338.22 L92.88,335.69 L93.06,333.10 L93.25,330.46 L93.43,327.79 L93.62,325.11 L93.81,322.43 L93.99,319.77 L94.18,317.15 L94.36,314.59 L94.55,312.10 L94.73,309.69 L94.92,307.39 L95.10,305.20 L95.29,303.14 L95.47,301.21 L95.66,299.45 L95.84,297.84 L96.03,296.40 L96.21,295.15 L96.40,294.07 L96.58,293.19 L96.77,292.50 L96.95,292.01 L97.14,291.72 L97.32,291.62 L97.51,291.73 L97.69,292.02 L97.88,292.51 L98.06,293.18 L98.25,294.03 L98.43,295.06 L98.62,296.25 L98.80,297.59 L98.99,299.08 L99.17,300.71 L99.36,302.45 L99.54,304.31 L99.73,306.26 L99.91,308.30 L100.10,310.40 L100.28,312.56 L100.47,314.76 L100.66,316.99 L100.84,319.22 L101.03,321.46 L101.21,323.68 L101.40,325.86 L101.58,328.00 L101.77,330.08 L101.95,332.09 L102.14,334.02 L102.32,335.85 L102.51,337.57 L102.69,339.17 L102.88,340.65 L103.06,342.00 L103.25,343.20 L103.43,344.26 L103.62,345.16 L103.80,345.90 L103.99,346.48 L104.17,346.90 L104.36,347.16 L104.54,347.25 L104.73,347.17 L104.91,346.94 L105.10,346.55 L105.28,346.00 L105.47,345.30 L105.65,344.46 L105.84,343.48 L106.02,342.38 L106.21,341.15 L106.39,339.81 L106.58,338.37 L106.76,336.84 L106.95,335.23 L107.14,333.55 L107.32,331.81 L107.51,330.03 L107.69,328.21 L107.88,326.37 L108.06,324.52 L108.25,322.67 L108.43,320.84 L108.62,319.03 L108.80,317.26 L108.99,315.54 L109.17,313.88 L109.36,312.29 L109.54,310.78 L109.73,309.35 L109.91,308.03 L110.10,306.81 L110.28,305.69 L110.47,304.70 L110.65,303.83 L110.84,303.09 L111.02,302.47 L111.21,302.00 L111.39,301.65 L111.58,301.45 L111.76,301.37 L111.95,301.44 L112.13,301.64 L112.32,301.97 L112.50,302.43 L112.69,303.01 L112.87,303.71 L113.06,304.52 L113.24,305.44 L113.43,306.46 L113.62,307.58 L113.80,308.77 L113.99,310.04 L114.17,311.38 L114.36,312.78 L114.54,314.22 L114.73,315.70 L114.91,317.21 L115.10,318.74 L115.28,320.27 L115.47,321.80 L115.65,323.32 L115.84,324.82 L116.02,326.29 L116.21,327.71 L116.39,329.09 L116.58,330.40 L116.76,331.65 L116.95,332.83 L117.13,333.93 L117.32,334.94 L117.50,335.86 L117.69,336.68 L117.87,337.39 L118.06,338.00 L118.24,338.50 L118.43,338.90 L118.61,339.17 L118.80,339.34 L118.98,339.39 L119.17,339.33 L119.35,339.15 L119.54,338.87 L119.72,338.48 L119.91,337.99 L120.09,337.40 L120.28,336.71 L120.47,335.94 L120.65,335.08 L120.84,334.15 L121.02,333.15 L121.21,332.08 L121.39,330.96 L121.58,329.79 L121.76,328.58 L121.95,327.34 L122.13,326.08 L122.32,324.80 L122.50,323.51 L122.69,322.23 L122.87,320.96 L123.06,319.70 L123.24,318.47 L123.43,317.28 L123.61,316.13 L123.80,315.02 L123.98,313.97 L124.17,312.98 L124.35,312.06 L124.54,311.21 L124.72,310.44 L124.91,309.75 L125.09,309.14 L125.28,308.62 L125.46,308.19 L125.65,307.86 L125.83,307.62 L126.02,307.47 L126.20,307.42 L126.39,307.46 L126.57,307.59 L126.76,307.82 L126.95,308.13 L127.13,308.53 L127.32,309.01 L127.50,309.57 L127.69,310.21 L127.87,310.91 L128.06,311.68 L128.24,312.50 L128.43,313.38 L128.61,314.30 L128.80,315.27 L128.98,316.26 L129.17,317.28 L129.35,318.33 L129.54,319.38 L129.72,320.44 L129.91,321.50 L130.09,322.55 L130.28,323.59 L130.46,324.60 L130.65,325.59 L130.83,326.55 L131.02,327.46 L131.20,328.33 L131.39,329.14 L131.57,329.91 L131.76,330.61 L131.94,331.25 L132.13,331.82 L132.31,332.32 L132.50,332.75 L132.68,333.10 L132.87,333.38 L133.05,333.58 L133.24,333.70 L133.43,333.74 L133.61,333.71 L133.80,333.60 L133.98,333.41 L134.17,333.15 L134.35,332.82 L134.54,332.42 L134.72,331.96 L134.91,331.43 L135.09,330.85 L135.28,330.22 L135.46,329.54 L135.65,328.81 L135.83,328.05 L136.02,327.25 L136.20,326.43 L136.39,325.58 L136.57,324.72 L136.76,323.85 L136.94,322.98 L137.13,322.10 L137.31,321.23 L137.50,320.38 L137.68,319.54 L137.87,318.73 L138.05,317.95 L138.24,317.19 L138.42,316.48 L138.61,315.81 L138.79,315.19 L138.98,314.61 L139.16,314.09 L139.35,313.62 L139.53,313.21 L139.72,312.87 L139.90,312.58 L140.09,312.36 L140.28,312.21 L140.46,312.12 L140.65,312.09 L140.83,312.13 L141.02,312.23 L141.20,312.40 L141.39,312.62 L141.57,312.91 L141.76,313.25 L141.94,313.64 L142.13,314.09 L142.31,314.58 L142.50,315.12 L142.68,315.70 L142.87,316.31 L143.05,316.96 L143.24,317.63 L143.42,318.32 L143.61,319.04 L143.79,319.76 L143.98,320.50 L144.16,321.24 L144.35,321.97 L144.53,322.70 L144.72,323.42 L144.90,324.13 L145.09,324.81 L145.27,325.48 L145.46,326.11 L145.64,326.71 L145.83,327.28 L146.01,327.81 L146.20,328.30 L146.38,328.74 L146.57,329.14 L146.76,329.49 L146.94,329.78 L147.13,330.03 L147.31,330.22 L147.50,330.36 L147.68,330.44 L147.87,330.47 L148.05,330.45 L148.24,330.37 L148.42,330.24 L148.61,330.06 L148.79,329.83 L148.98,329.56 L149.16,329.24 L149.35,328.87 L149.53,328.47 L149.72,328.03 L149.90,327.55 L150.09,327.05 L150.27,326.52 L150.46,325.97 L150.64,325.39 L150.83,324.80 L151.01,324.21 L151.20,323.60 L151.38,322.99 L151.57,322.38 L151.75,321.78 L151.94,321.18 L152.12,320.60 L152.31,320.03 L152.49,319.48 L152.68,318.95 L152.86,318.45 L153.05,317.98 L153.24,317.54 L153.42,317.14 L153.61,316.77 L153.79,316.44 L153.98,316.15 L154.16,315.90 L154.35,315.69 L154.53,315.53 L154.72,315.41 L154.90,315.34 L155.09,315.31 L155.27,315.33 L155.46,315.39 L155.64,315.49 L155.83,315.64 L156.01,315.83 L156.20,316.05 L156.38,316.31 L156.57,316.61 L156.75,316.94 L156.94,317.30 L157.12,317.69 L157.31,318.10 L157.49,318.53 L157.68,318.98 L157.86,319.45 L158.05,319.93 L158.23,320.42 L158.42,320.92 L158.60,321.42 L158.79,321.91 L158.97,322.41 L159.16,322.89 L159.34,323.37 L159.53,323.83 L159.71,324.28 L159.90,324.71 L160.09,325.11 L160.27,325.49 L160.46,325.85 L160.64,326.17 L160.83,326.47 L161.01,326.73 L161.20,326.96 L161.38,327.16 L161.57,327.32 L161.75,327.44 L161.94,327.53 L162.12,327.58 L162.31,327.59 L162.49,327.57 L162.68,327.51 L162.86,327.41 L163.05,327.28 L163.23,327.11 L163.42,326.92 L163.60,326.69 L163.79,326.43 L163.97,326.15 L164.16,325.84 L164.34,325.50 L164.53,325.15 L164.71,324.78 L164.90,324.39 L165.08,323.99 L165.27,323.58 L165.45,323.17 L165.64,322.75 L165.82,322.32 L166.01,321.90 L166.19,321.48 L166.38,321.07 L166.57,320.66 L166.75,320.27 L166.94,319.89 L167.12,319.53 L167.31,319.18 L167.49,318.85 L167.68,318.55 L167.86,318.27 L168.05,318.02 L168.23,317.79 L168.42,317.59 L168.60,317.42 L168.79,317.28 L168.97,317.18 L169.16,317.10 L169.34,317.05 L169.53,317.03 L169.71,317.05 L169.90,317.10 L170.08,317.17 L170.27,317.28 L170.45,317.41 L170.64,317.57 L170.82,317.76 L171.01,317.97 L171.19,318.20 L171.38,318.45 L171.56,318.73 L171.75,319.02 L171.93,319.33 L172.12,319.65 L172.30,319.98 L172.49,320.32 L172.67,320.66 L172.86,321.01 L173.05,321.36 L173.23,321.72 L173.42,322.07 L173.60,322.41 L173.79,322.75 L173.97,323.08 L174.16,323.39 L174.34,323.70 L174.53,323.99 L174.71,324.26 L174.90,324.52 L175.08,324.75 L175.27,324.97 L175.45,325.16 L175.64,325.33 L175.82,325.47 L176.01,325.60 L176.19,325.69 L176.38,325.76 L176.56,325.81 L176.75,325.83 L176.93,325.82 L177.12,325.79 L177.30,325.74 L177.49,325.66 L177.67,325.55 L177.86,325.43 L178.04,325.28 L178.23,325.11 L178.41,324.93 L178.60,324.73 L178.78,324.51 L178.97,324.28 L179.15,324.03 L179.34,323.77 L179.52,323.51 L179.71,323.24 L179.90,322.96 L180.08,322.68 L180.27,322.40 L180.45,322.11 L180.64,321.83 L180.82,321.56 L181.01,321.29 L181.19,321.03 L181.38,320.77 L181.56,320.53 L181.75,320.30 L181.93,320.09 L182.12,319.88 L182.30,319.70 L182.49,319.53 L182.67,319.38 L182.86,319.25 L183.04,319.14 L183.23,319.05 L183.41,318.98 L183.60,318.94 L183.78,318.91 L183.97,318.90 L184.15,318.92 L184.34,318.96 L184.52,319.01 L184.71,319.09 L184.89,319.18 L185.08,319.30 L185.26,319.43 L185.45,319.58 L185.63,319.74 L185.82,319.92 L186.00,320.11 L186.19,320.31 L186.38,320.53 L186.56,320.75 L186.75,320.98 L186.93,321.21 L187.12,321.45 L187.30,321.69 L187.49,321.93 L187.67,322.18 L187.86,322.42 L188.04,322.65 L188.23,322.88 L188.41,323.11 L188.60,323.32 L188.78,323.53 L188.97,323.73 L189.15,323.91 L189.34,324.08 L189.52,324.24 L189.71,324.39 L189.89,324.51 L190.08,324.63 L190.26,324.72 L190.45,324.80 L190.63,324.86 L190.82,324.90 L191.00,324.93 L191.19,324.93 L191.37,324.92 L191.56,324.89 L191.74,324.85 L191.93,324.79 L192.11,324.71 L192.30,324.61 L192.48,324.50 L192.67,324.38 L192.85,324.24 L193.04,324.09 L193.23,323.93 L193.41,323.76 L193.60,323.59 L193.78,323.40 L193.97,323.21 L194.15,323.01 L194.34,322.81 L194.52,322.60 L194.71,322.40 L194.89,322.19 L195.08,321.99 L195.26,321.79 L195.45,321.59 L195.63,321.40 L195.82,321.21 L196.00,321.04 L196.19,320.87 L196.37,320.71 L196.56,320.56 L196.74,320.42 L196.93,320.29 L197.11,320.18 L197.30,320.08 L197.48,319.99 L197.67,319.92 L197.85,319.86 L198.04,319.81 L198.22,319.78 L198.41,319.77 L198.59,319.77 L198.78,319.78 L198.96,319.81 L199.15,319.86 L199.33,319.91 L199.52,319.98 L199.71,320.06 L199.89,320.15 L200.08,320.26 L200.26,320.37 L200.45,320.49 L200.63,320.62 L200.82,320.76 L201.00,320.90 L201.19,321.05 L201.37,321.21 L201.56,321.36 L201.74,321.52 L201.93,321.68 L202.11,321.84 L202.30,322.00 L202.48,322.16 L202.67,322.31 L202.85,322.46 L203.04,322.60 L203.22,322.74 L203.41,322.87 L203.59,322.99 L203.78,323.10 L203.96,323.21 L204.15,323.30 L204.33,323.39 L204.52,323.46 L204.70,323.52 L204.89,323.57 L205.07,323.61 L205.26,323.64 L205.44,323.65 L205.63,323.66 L205.81,323.65 L206.00,323.63 L206.19,323.59 L206.37,323.55 L206.56,323.49 L206.74,323.43 L206.93,323.35 L207.11,323.27 L207.30,323.18 L207.48,323.07 L207.67,322.97 L207.85,322.85 L208.04,322.73 L208.22,322.60 L208.41,322.47 L208.59,322.34 L208.78,322.21 L208.96,322.07 L209.15,321.93 L209.33,321.79 L209.52,321.66 L209.70,321.53 L209.89,321.39 L210.07,321.27 L210.26,321.15 L210.44,321.03 L210.63,320.92 L210.81,320.82 L211.00,320.72 L211.18,320.63 L211.37,320.55 L211.55,320.48 L211.74,320.42 L211.92,320.37 L212.11,320.33 L212.29,320.29 L212.48,320.27 L212.66,320.26 L212.85,320.26 L213.04,320.27 L213.22,320.29 L213.41,320.32 L213.59,320.36 L213.78,320.41 L213.96,320.46 L214.15,320.53 L214.33,320.60 L214.52,320.69 L214.70,320.77 L214.89,320.87 L215.07,320.97 L215.26,321.08 L215.44,321.19 L215.63,321.30 L215.81,321.42 L216.00,321.54 L216.18,321.66 L216.37,321.78 L216.55,321.90 L216.74,322.02 L216.92,322.14 L217.11,322.25 L217.29,322.37 L217.48,322.48 L217.66,322.58 L217.85,322.68 L218.03,322.78 L218.22,322.87 L218.40,322.95 L218.59,323.03 L218.77,323.09 L218.96,323.16 L219.14,323.21 L219.33,323.25 L219.52,323.29 L219.70,323.32 L219.89,323.34 L220.07,323.35 L220.26,323.35 L220.44,323.35 L220.63,323.33 L220.81,323.31 L221.00,323.28 L221.18,323.24 L221.37,323.20 L221.55,323.15 L221.74,323.09 L221.92,323.03 L222.11,322.96 L222.29,322.89 L222.48,322.81 L222.66,322.73 L222.85,322.65 L223.03,322.56 L223.22,322.47 L223.40,322.38 L223.59,322.29 L223.77,322.20 L223.96,322.11 L224.14,322.03 L224.33,321.94 L224.51,321.86 L224.70,321.77 L224.88,321.70 L225.07,321.62 L225.25,321.55 L225.44,321.49 L225.62,321.43 L225.81,321.37 L226.00,321.33 L226.18,321.28 L226.37,321.25 L226.55,321.22 L226.74,321.20 L226.92,321.18 L227.11,321.17 L227.29,321.17 L227.48,321.17 L227.66,321.18 L227.85,321.20 L228.03,321.22 L228.22,321.25 L228.40,321.29 L228.59,321.33 L228.77,321.38 L228.96,321.43 L229.14,321.49 L229.33,321.55 L229.51,321.61 L229.70,321.68 L229.88,321.75 L230.07,321.82 L230.25,321.90 L230.44,321.97 L230.62,322.05 L230.81,322.12 L230.99,322.20 L231.18,322.27 L231.36,322.35 L231.55,322.42 L231.73,322.49 L231.92,322.56 L232.10,322.62 L232.29,322.68 L232.47,322.74 L232.66,322.79 L232.85,322.84 L233.03,322.88 L233.22,322.92 L233.40,322.95 L233.59,322.97 L233.77,322.99 L233.96,323.01 L234.14,323.02 L234.33,323.02 L234.51,323.02 L234.70,323.01 L234.88,322.99 L235.07,322.97 L235.25,322.95 L235.44,322.92 L235.62,322.88 L235.81,322.84 L235.99,322.79 L236.18,322.74 L236.36,322.69 L236.55,322.63 L236.73,322.57 L236.92,322.50 L237.10,322.44 L237.29,322.37 L237.47,322.30 L237.66,322.23 L237.84,322.15 L238.03,322.08 L238.21,322.01 L238.40,321.94 L238.58,321.87 L238.77,321.80 L238.95,321.73 L239.14,321.66 L239.33,321.60 L239.51,321.54 L239.70,321.48 L239.88,321.43 L240.07,321.38 L240.25,321.33 L240.44,321.29 L240.62,321.25 L240.81,321.22 L240.99,321.19 L241.18,321.17 L241.36,321.15 L241.55,321.14 L241.73,321.13 L241.92,321.12 L242.10,321.13 L242.29,321.13 L242.47,321.14 L242.66,321.16 L242.84,321.18 L243.03,321.20 L243.21,321.23 L243.40,321.26 L243.58,321.30 L243.77,321.33 L243.95,321.37 L244.14,321.42 L244.32,321.46 L244.51,321.51 L244.69,321.56 L244.88,321.61 L245.06,321.66 L245.25,321.71 L245.43,321.76 L245.62,321.82 L245.81,321.87 L245.99,321.92 L246.18,321.96 L246.36,322.01 L246.55,322.06 L246.73,322.10 L246.92,322.14 L247.10,322.18 L247.29,322.21 L247.47,322.25 L247.66,322.27 L247.84,322.30 L248.03,322.32 L248.21,322.34 L248.40,322.36 L248.58,322.37 L248.77,322.37 L248.95,322.38 L249.14,322.38 L249.32,322.37 L249.51,322.36 L249.69,322.35 L249.88,322.34 L250.06,322.32 L250.25,322.30 L250.43,322.27 L250.62,322.25 L250.80,322.22 L250.99,322.18 L251.17,322.15 L251.36,322.11 L251.54,322.08 L251.73,322.04 L251.91,322.00 L252.10,321.96 L252.28,321.92 L252.47,321.88 L252.66,321.84 L252.84,321.80 L253.03,321.76 L253.21,321.72 L253.40,321.69 L253.58,321.65 L253.77,321.62 L253.95,321.59 L254.14,321.56 L254.32,321.53 L254.51,321.51 L254.69,321.49 L254.88,321.47 L255.06,321.45 L255.25,321.44 L255.43,321.43 L255.62,321.43 L255.80,321.43 L255.99,321.43 L256.17,321.43 L256.36,321.44 L256.54,321.46 L256.73,321.47 L256.91,321.49 L257.10,321.51 L257.28,321.53 L257.47,321.56 L257.65,321.59 L257.84,321.62 L258.02,321.66 L258.21,321.69 L258.39,321.73 L258.58,321.77 L258.76,321.81 L258.95,321.86 L259.14,321.90 L259.32,321.94 L259.51,321.99 L259.69,322.03 L259.88,322.08 L260.06,322.12 L260.25,322.16 L260.43,322.21 L260.62,322.25 L260.80,322.29 L260.99,322.33 L261.17,322.36 L261.36,322.40 L261.54,322.43 L261.73,322.46 L261.91,322.49 L262.10,322.51 L262.28,322.54 L262.47,322.56 L262.65,322.57 L262.84,322.59 L263.02,322.60 L263.21,322.61 L263.39,322.62 L263.58,322.62 L263.76,322.62 L263.95,322.62 L264.13,322.61 L264.32,322.60 L264.50,322.59 L264.69,322.58 L264.87,322.56 L265.06,322.54 L265.24,322.52 L265.43,322.50 L265.62,322.48 L265.80,322.45 L265.99,322.43 L266.17,322.40 L266.36,322.37 L266.54,322.34 L266.73,322.31 L266.91,322.28 L267.10,322.25 L267.28,322.22 L267.47,322.19 L267.65,322.16 L267.84,322.13 L268.02,322.10 L268.21,322.07 L268.39,322.04 L268.58,322.02 L268.76,322.00 L268.95,321.97 L269.13,321.95 L269.32,321.93 L269.50,321.92 L269.69,321.90 L269.87,321.89 L270.06,321.88 L270.24,321.87 L270.43,321.86 L270.61,321.86 L270.80,321.86 L270.98,321.86 L271.17,321.86 L271.35,321.86 L271.54,321.87 L271.72,321.87 L271.91,321.88 L272.09,321.89 L272.28,321.91 L272.47,321.92 L272.65,321.93 L272.84,321.95 L273.02,321.97 L273.21,321.99 L273.39,322.00 L273.58,322.02 L273.76,322.04 L273.95,322.06 L274.13,322.08 L274.32,322.10 L274.50,322.12 L274.69,322.14 L274.87,322.16 L275.06,322.18 L275.24,322.19 L275.43,322.21 L275.61,322.22 L275.80,322.23 L275.98,322.25 L276.17,322.26 L276.35,322.26 L276.54,322.27 L276.72,322.28 L276.91,322.28 L277.09,322.28 L277.28,322.28 L277.46,322.28 L277.65,322.27 L277.83,322.27 L278.02,322.26 L278.20,322.25 L278.39,322.24 L278.57,322.22 L278.76,322.21 L278.95,322.19 L279.13,322.17 L279.32,322.15 L279.50,322.13 L279.69,322.11 L279.87,322.09 L280.06,322.06 L280.24,322.04 L280.43,322.01 L280.61,321.99 L280.80,321.96 L280.98,321.93 L281.17,321.91 L281.35,321.88 L281.54,321.85 L281.72,321.82 L281.91,321.80 L282.09,321.77 L282.28,321.75 L282.46,321.72 L282.65,321.70 L282.83,321.68 L283.02,321.66 L283.20,321.64 L283.39,321.62 L283.57,321.60 L283.76,321.59 L283.94,321.57 L284.13,321.56 L284.31,321.55 L284.50,321.54 L284.68,321.54 L284.87,321.53 L285.05,321.53 L285.24,321.53 L285.42,321.53 L285.61,321.53 L285.80,321.53 L285.98,321.54 L286.17,321.55 L286.35,321.56 L286.54,321.57 L286.72,321.58 L286.91,321.59 L287.09,321.60 L287.28,321.62 L287.46,321.63 L287.65,321.65 L287.83,321.67 L288.02,321.69 L288.20,321.71 L288.39,321.73 L288.57,321.74 L288.76,321.76 L288.94,321.78 L289.13,321.80 L289.31,321.82 L289.50,321.84 L289.68,321.86 L289.87,321.88 L290.05,321.90 L290.24,321.92 L290.42,321.93 L290.61,321.95 L290.79,321.96 L290.98,321.98 L291.16,321.99 L291.35,322.00 L291.53,322.01 L291.72,322.02 L291.90,322.03 L292.09,322.04 L292.28,322.04 L292.46,322.05 L292.65,322.05 L292.83,322.05 L293.02,322.05 L293.20,322.05 L293.39,322.05 L293.57,322.05 L293.76,322.05 L293.94,322.05 L294.13,322.04 L294.31,322.04 L294.50,322.03 L294.68,322.02 L294.87,322.02 L295.05,322.01 L295.24,322.00 L295.42,322.00 L295.61,321.99 L295.79,321.98 L295.98,321.97 L296.16,321.96 L296.35,321.96 L296.53,321.95 L296.72,321.94 L296.90,321.94 L297.09,321.93 L297.27,321.93 L297.46,321.92 L297.64,321.92 L297.83,321.92 L298.01,321.91 L298.20,321.91 L298.38,321.91 L298.57,321.91 L298.76,321.92 L298.94,321.92 L299.13,321.92 L299.31,321.93 L299.50,321.93 L299.68,321.94 L299.87,321.95 L300.05,321.96 L300.24,321.97 L300.42,321.98 L300.61,321.99 L300.79,322.00 L300.98,322.02 L301.16,322.03 L301.35,322.04 L301.53,322.06 L301.72,322.07 L301.90,322.09 L302.09,322.11 L302.27,322.12 L302.46,322.14 L302.64,322.15 L302.83,322.17 L303.01,322.19 L303.20,322.20 L303.38,322.22 L303.57,322.23 L303.75,322.25 L303.94,322.26 L304.12,322.28 L304.31,322.29 L304.49,322.30 L304.68,322.32 L304.86,322.33 L305.05,322.34 L305.23,322.35 L305.42,322.35 L305.61,322.36 L305.79,322.37 L305.98,322.37 L306.16,322.37 L306.35,322.38 L306.53,322.38 L306.72,322.38 L306.90,322.38 L307.09,322.38 L307.27,322.37 L307.46,322.37 L307.64,322.37 L307.83,322.36 L308.01,322.35 L308.20,322.34 L308.38,322.34 L308.57,322.33 L308.75,322.32 L308.94,322.30 L309.12,322.29 L309.31,322.28 L309.49,322.27 L309.68,322.25 L309.86,322.24 L310.05,322.23 L310.23,322.21 L310.42,322.20 L310.60,322.18 L310.79,322.17 L310.97,322.16 L311.16,322.14 L311.34,322.13 L311.53,322.11 L311.71,322.10 L311.90,322.09 L312.09,322.07 L312.27,322.06 L312.46,322.05 L312.64,322.04 L312.83,322.03 L313.01,322.02 L313.20,322.01 L313.38,322.00 L313.57,321.99 L313.75,321.98 L313.94,321.98 L314.12,321.97 L314.31,321.96 L314.49,321.96 L314.68,321.95 L314.86,321.95 L315.05,321.95 L315.23,321.95 L315.42,321.94 L315.60,321.94 L315.79,321.94 L315.97,321.94 L316.16,321.94 L316.34,321.94 L316.53,321.94 L316.71,321.94 L316.90,321.94 L317.08,321.94 L317.27,321.95 L317.45,321.95 L317.64,321.95 L317.82,321.95 L318.01,321.95 L318.19,321.95 L318.38,321.95 L318.57,321.96 L318.75,321.96 L318.94,321.96 L319.12,321.96 L319.31,321.96 L319.49,321.96 L319.68,321.95 L319.86,321.95 L320.05,321.95 L320.23,321.95 L320.42,321.95 L320.60,321.94 L320.79,321.94 L320.97,321.93 L321.16,321.93 L321.34,321.92 L321.53,321.92 L321.71,321.91 L321.90,321.90 L322.08,321.90 L322.27,321.89 L322.45,321.88 L322.64,321.87 L322.82,321.87 L323.01,321.86 L323.19,321.85 L323.38,321.84 L323.56,321.83 L323.75,321.82 L323.93,321.81 L324.12,321.80 L324.30,321.79 L324.49,321.78 L324.67,321.77 L324.86,321.77 L325.04,321.76 L325.23,321.75 L325.42,321.74 L325.60,321.73 L325.79,321.73 L325.97,321.72 L326.16,321.72 L326.34,321.71 L326.53,321.71 L326.71,321.70 L326.90,321.70 L327.08,321.70 L327.27,321.69 L327.45,321.69 L327.64,321.69 L327.82,321.69 L328.01,321.69 L328.19,321.69 L328.38,321.69 L328.56,321.70 L328.75,321.70 L328.93,321.71 L329.12,321.71 L329.30,321.72 L329.49,321.72 L329.67,321.73 L329.86,321.74 L330.04,321.74 L330.23,321.75 L330.41,321.76 L330.60,321.77 L330.78,321.78 L330.97,321.79 L331.15,321.80 L331.34,321.81 L331.52,321.82 L331.71,321.84"/>
</g>
<path fill="none" stroke="#000" stroke-width="1.4" d="M54.00,399.50v-3.2 M54.00,228.90v3.2 M63.26,399.50v-1.8 M63.26,228.90v1.8 M72.51,399.50v-1.8 M72.51,228.90v1.8 M81.77,399.50v-1.8 M81.77,228.90v1.8 M91.03,399.50v-1.8 M91.03,228.90v1.8 M100.28,399.50v-3.2 M100.28,228.90v3.2 M109.54,399.50v-1.8 M109.54,228.90v1.8 M118.80,399.50v-1.8 M118.80,228.90v1.8 M128.06,399.50v-1.8 M128.06,228.90v1.8 M137.31,399.50v-1.8 M137.31,228.90v1.8 M146.57,399.50v-3.2 M146.57,228.90v3.2 M155.83,399.50v-1.8 M155.83,228.90v1.8 M165.08,399.50v-1.8 M165.08,228.90v1.8 M174.34,399.50v-1.8 M174.34,228.90v1.8 M183.60,399.50v-1.8 M183.60,228.90v1.8 M192.85,399.50v-3.2 M192.85,228.90v3.2 M202.11,399.50v-1.8 M202.11,228.90v1.8 M211.37,399.50v-1.8 M211.37,228.90v1.8 M220.63,399.50v-1.8 M220.63,228.90v1.8 M229.88,399.50v-1.8 M229.88,228.90v1.8 M239.14,399.50v-3.2 M239.14,228.90v3.2 M248.40,399.50v-1.8 M248.40,228.90v1.8 M257.65,399.50v-1.8 M257.65,228.90v1.8 M266.91,399.50v-1.8 M266.91,228.90v1.8 M276.17,399.50v-1.8 M276.17,228.90v1.8 M285.42,399.50v-3.2 M285.42,228.90v3.2 M294.68,399.50v-1.8 M294.68,228.90v1.8 M303.94,399.50v-1.8 M303.94,228.90v1.8 M313.20,399.50v-1.8 M313.20,228.90v1.8 M322.45,399.50v-1.8 M322.45,228.90v1.8 M331.71,399.50v-3.2 M331.71,228.90v3.2 M47.80,397.20h3.2 M337.40,397.20h-3.2 M47.80,387.80h1.8 M337.40,387.80h-1.8 M47.80,378.40h1.8 M337.40,378.40h-1.8 M47.80,369.00h1.8 M337.40,369.00h-1.8 M47.80,359.60h3.2 M337.40,359.60h-3.2 M47.80,350.20h1.8 M337.40,350.20h-1.8 M47.80,340.80h1.8 M337.40,340.80h-1.8 M47.80,331.40h1.8 M337.40,331.40h-1.8 M47.80,322.00h3.2 M337.40,322.00h-3.2 M47.80,312.60h1.8 M337.40,312.60h-1.8 M47.80,303.20h1.8 M337.40,303.20h-1.8 M47.80,293.80h1.8 M337.40,293.80h-1.8 M47.80,284.40h3.2 M337.40,284.40h-3.2 M47.80,275.00h1.8 M337.40,275.00h-1.8 M47.80,265.60h1.8 M337.40,265.60h-1.8 M47.80,256.20h1.8 M337.40,256.20h-1.8 M47.80,246.80h3.2 M337.40,246.80h-3.2 M47.80,237.40h1.8 M337.40,237.40h-1.8"/>
<rect x="47.8" y="228.9" width="289.60" height="170.60" fill="none" stroke="#000" stroke-width="1.9"/>
<g font-family="Liberation Serif" font-weight="bold" font-size="15.5" fill="#000"><text x="54.00" y="415.10" text-anchor="middle">0</text><text x="100.28" y="415.10" text-anchor="middle">5</text><text x="146.57" y="415.10" text-anchor="middle">10</text><text x="192.85" y="415.10" text-anchor="middle">15</text><text x="239.14" y="415.10" text-anchor="middle">20</text><text x="285.42" y="415.10" text-anchor="middle">25</text><text x="331.71" y="415.10" text-anchor="middle">30</text><text x="45.20" y="252.10" text-anchor="end">0.4</text><text x="45.20" y="289.70" text-anchor="end">0.2</text><text x="45.20" y="327.30" text-anchor="end">0.0</text><rect x="13.80" y="358.90" width="9.3" height="1.4"/><text x="45.20" y="364.90" text-anchor="end">0.2</text><rect x="13.80" y="396.50" width="9.3" height="1.4"/><text x="45.20" y="402.50" text-anchor="end">0.4</text></g>
<clipPath id="clipd"><rect x="413.9" y="228.7" width="289.00" height="170.90"/></clipPath>
<g clip-path="url(#clipd)" fill="none" stroke-width="2.3" stroke-linejoin="round" stroke-linecap="round">
<path stroke="#0000ff" d="M420.00,228.10 L420.19,228.40 L420.37,229.30 L420.56,230.79 L420.74,232.87 L420.93,235.50 L421.11,238.66 L421.30,242.34 L421.48,246.50 L421.67,251.11 L421.85,256.13 L422.04,261.54 L422.22,267.28 L422.41,273.33 L422.59,279.63 L422.78,286.15 L422.96,292.85 L423.15,299.66 L423.33,306.56 L423.52,313.49 L423.70,320.42 L423.89,327.29 L424.07,334.06 L424.26,340.68 L424.44,347.13 L424.63,353.35 L424.81,359.31 L425.00,364.98 L425.18,370.31 L425.37,375.28 L425.55,379.85 L425.74,384.01 L425.92,387.73 L426.11,390.99 L426.29,393.78 L426.48,396.07 L426.67,397.86 L426.85,399.14 L427.04,399.91 L427.22,400.17 L427.41,399.93 L427.59,399.18 L427.78,397.94 L427.96,396.21 L428.15,394.03 L428.33,391.40 L428.52,388.35 L428.70,384.89 L428.89,381.06 L429.07,376.89 L429.26,372.40 L429.44,367.63 L429.63,362.61 L429.81,357.37 L430.00,351.96 L430.18,346.40 L430.37,340.74 L430.55,335.01 L430.74,329.25 L430.92,323.50 L431.11,317.79 L431.29,312.17 L431.48,306.66 L431.66,301.31 L431.85,296.14 L432.03,291.19 L432.22,286.49 L432.40,282.06 L432.59,277.93 L432.77,274.13 L432.96,270.68 L433.14,267.59 L433.33,264.88 L433.52,262.57 L433.70,260.66 L433.89,259.18 L434.07,258.11 L434.26,257.47 L434.44,257.25 L434.63,257.46 L434.81,258.08 L435.00,259.11 L435.18,260.54 L435.37,262.36 L435.55,264.54 L435.74,267.08 L435.92,269.95 L436.11,273.13 L436.29,276.59 L436.48,280.32 L436.66,284.28 L436.85,288.46 L437.03,292.80 L437.22,297.30 L437.40,301.92 L437.59,306.62 L437.77,311.38 L437.96,316.16 L438.14,320.94 L438.33,325.68 L438.51,330.35 L438.70,334.92 L438.88,339.37 L439.07,343.66 L439.25,347.77 L439.44,351.68 L439.62,355.36 L439.81,358.78 L440.00,361.94 L440.18,364.81 L440.37,367.38 L440.55,369.63 L440.74,371.55 L440.92,373.13 L441.11,374.36 L441.29,375.25 L441.48,375.78 L441.66,375.96 L441.85,375.79 L442.03,375.27 L442.22,374.42 L442.40,373.23 L442.59,371.72 L442.77,369.91 L442.96,367.80 L443.14,365.42 L443.33,362.78 L443.51,359.90 L443.70,356.80 L443.88,353.51 L444.07,350.04 L444.25,346.43 L444.44,342.70 L444.62,338.86 L444.81,334.96 L444.99,331.00 L445.18,327.03 L445.36,323.06 L445.55,319.13 L445.73,315.25 L445.92,311.45 L446.10,307.76 L446.29,304.19 L446.48,300.78 L446.66,297.53 L446.85,294.48 L447.03,291.63 L447.22,289.01 L447.40,286.62 L447.59,284.49 L447.77,282.63 L447.96,281.03 L448.14,279.72 L448.33,278.69 L448.51,277.96 L448.70,277.52 L448.88,277.37 L449.07,277.51 L449.25,277.94 L449.44,278.65 L449.62,279.63 L449.81,280.89 L449.99,282.39 L450.18,284.14 L450.36,286.12 L450.55,288.32 L450.73,290.71 L450.92,293.28 L451.10,296.01 L451.29,298.89 L451.47,301.89 L451.66,304.99 L451.84,308.18 L452.03,311.42 L452.21,314.70 L452.40,318.00 L452.58,321.30 L452.77,324.57 L452.95,327.79 L453.14,330.94 L453.33,334.01 L453.51,336.97 L453.70,339.81 L453.88,342.50 L454.07,345.04 L454.25,347.41 L454.44,349.59 L454.62,351.56 L454.81,353.34 L454.99,354.89 L455.18,356.21 L455.36,357.30 L455.55,358.15 L455.73,358.76 L455.92,359.13 L456.10,359.25 L456.29,359.14 L456.47,358.78 L456.66,358.19 L456.84,357.37 L457.03,356.33 L457.21,355.08 L457.40,353.63 L457.58,351.98 L457.77,350.16 L457.95,348.17 L458.14,346.04 L458.32,343.77 L458.51,341.38 L458.69,338.89 L458.88,336.31 L459.06,333.66 L459.25,330.97 L459.43,328.24 L459.62,325.50 L459.81,322.76 L459.99,320.05 L460.18,317.37 L460.36,314.75 L460.55,312.21 L460.73,309.75 L460.92,307.39 L461.10,305.15 L461.29,303.05 L461.47,301.08 L461.66,299.27 L461.84,297.63 L462.03,296.16 L462.21,294.87 L462.40,293.77 L462.58,292.86 L462.77,292.16 L462.95,291.65 L463.14,291.34 L463.32,291.24 L463.51,291.34 L463.69,291.63 L463.88,292.12 L464.06,292.81 L464.25,293.67 L464.43,294.71 L464.62,295.92 L464.80,297.28 L464.99,298.79 L465.17,300.44 L465.36,302.22 L465.54,304.10 L465.73,306.09 L465.91,308.16 L466.10,310.30 L466.28,312.50 L466.47,314.73 L466.66,317.00 L466.84,319.27 L467.03,321.55 L467.21,323.80 L467.40,326.03 L467.58,328.20 L467.77,330.32 L467.95,332.36 L468.14,334.32 L468.32,336.18 L468.51,337.93 L468.69,339.56 L468.88,341.06 L469.06,342.43 L469.25,343.65 L469.43,344.72 L469.62,345.63 L469.80,346.38 L469.99,346.97 L470.17,347.39 L470.36,347.65 L470.54,347.73 L470.73,347.65 L470.91,347.40 L471.10,347.00 L471.28,346.43 L471.47,345.71 L471.65,344.85 L471.84,343.85 L472.02,342.71 L472.21,341.46 L472.39,340.09 L472.58,338.61 L472.76,337.05 L472.95,335.40 L473.14,333.68 L473.32,331.90 L473.51,330.08 L473.69,328.22 L473.88,326.34 L474.06,324.45 L474.25,322.56 L474.43,320.69 L474.62,318.84 L474.80,317.03 L474.99,315.27 L475.17,313.58 L475.36,311.95 L475.54,310.41 L475.73,308.95 L475.91,307.60 L476.10,306.35 L476.28,305.22 L476.47,304.20 L476.65,303.31 L476.84,302.56 L477.02,301.93 L477.21,301.44 L477.39,301.09 L477.58,300.88 L477.76,300.81 L477.95,300.88 L478.13,301.08 L478.32,301.42 L478.50,301.89 L478.69,302.49 L478.87,303.20 L479.06,304.04 L479.24,304.98 L479.43,306.02 L479.62,307.16 L479.80,308.38 L479.99,309.69 L480.17,311.05 L480.36,312.48 L480.54,313.96 L480.73,315.47 L480.91,317.02 L481.10,318.58 L481.28,320.15 L481.47,321.72 L481.65,323.27 L481.84,324.81 L482.02,326.31 L482.21,327.77 L482.39,329.18 L482.58,330.53 L482.76,331.81 L482.95,333.02 L483.13,334.14 L483.32,335.18 L483.50,336.12 L483.69,336.96 L483.87,337.70 L484.06,338.33 L484.24,338.85 L484.43,339.26 L484.61,339.55 L484.80,339.72 L484.98,339.78 L485.17,339.73 L485.35,339.56 L485.54,339.27 L485.72,338.89 L485.91,338.39 L486.09,337.79 L486.28,337.10 L486.47,336.32 L486.65,335.45 L486.84,334.51 L487.02,333.49 L487.21,332.41 L487.39,331.27 L487.58,330.09 L487.76,328.86 L487.95,327.60 L488.13,326.32 L488.32,325.02 L488.50,323.72 L488.69,322.42 L488.87,321.12 L489.06,319.85 L489.24,318.60 L489.43,317.39 L489.61,316.22 L489.80,315.10 L489.98,314.03 L490.17,313.03 L490.35,312.10 L490.54,311.24 L490.72,310.45 L490.91,309.75 L491.09,309.14 L491.28,308.62 L491.46,308.19 L491.65,307.85 L491.83,307.61 L492.02,307.46 L492.20,307.41 L492.39,307.46 L492.57,307.60 L492.76,307.84 L492.95,308.16 L493.13,308.57 L493.32,309.06 L493.50,309.64 L493.69,310.29 L493.87,311.01 L494.06,311.79 L494.24,312.64 L494.43,313.54 L494.61,314.48 L494.80,315.47 L494.98,316.48 L495.17,317.53 L495.35,318.59 L495.54,319.67 L495.72,320.76 L495.91,321.84 L496.09,322.91 L496.28,323.97 L496.46,325.00 L496.65,326.01 L496.83,326.98 L497.02,327.91 L497.20,328.80 L497.39,329.63 L497.57,330.41 L497.76,331.12 L497.94,331.77 L498.13,332.35 L498.31,332.86 L498.50,333.30 L498.68,333.66 L498.87,333.94 L499.05,334.14 L499.24,334.26 L499.43,334.30 L499.61,334.26 L499.80,334.14 L499.98,333.95 L500.17,333.68 L500.35,333.34 L500.54,332.93 L500.72,332.45 L500.91,331.91 L501.09,331.31 L501.28,330.66 L501.46,329.96 L501.65,329.21 L501.83,328.43 L502.02,327.61 L502.20,326.76 L502.39,325.90 L502.57,325.01 L502.76,324.12 L502.94,323.22 L503.13,322.32 L503.31,321.43 L503.50,320.55 L503.68,319.69 L503.87,318.85 L504.05,318.04 L504.24,317.27 L504.42,316.54 L504.61,315.84 L504.79,315.20 L504.98,314.61 L505.16,314.07 L505.35,313.58 L505.53,313.16 L505.72,312.80 L505.90,312.50 L506.09,312.27 L506.28,312.10 L506.46,312.00 L506.65,311.97 L506.83,312.00 L507.02,312.10 L507.20,312.26 L507.39,312.48 L507.57,312.77 L507.76,313.11 L507.94,313.50 L508.13,313.95 L508.31,314.45 L508.50,314.99 L508.68,315.57 L508.87,316.19 L509.05,316.84 L509.24,317.52 L509.42,318.23 L509.61,318.95 L509.79,319.68 L509.98,320.43 L510.16,321.17 L510.35,321.92 L510.53,322.66 L510.72,323.39 L510.90,324.10 L511.09,324.80 L511.27,325.47 L511.46,326.11 L511.64,326.72 L511.83,327.30 L512.01,327.83 L512.20,328.32 L512.38,328.77 L512.57,329.17 L512.76,329.53 L512.94,329.83 L513.13,330.07 L513.31,330.27 L513.50,330.40 L513.68,330.49 L513.87,330.51 L514.05,330.49 L514.24,330.41 L514.42,330.27 L514.61,330.09 L514.79,329.85 L514.98,329.57 L515.16,329.24 L515.35,328.87 L515.53,328.46 L515.72,328.01 L515.90,327.52 L516.09,327.01 L516.27,326.47 L516.46,325.90 L516.64,325.32 L516.83,324.72 L517.01,324.11 L517.20,323.49 L517.38,322.87 L517.57,322.25 L517.75,321.64 L517.94,321.03 L518.12,320.44 L518.31,319.86 L518.49,319.30 L518.68,318.77 L518.86,318.26 L519.05,317.78 L519.24,317.34 L519.42,316.93 L519.61,316.56 L519.79,316.22 L519.98,315.93 L520.16,315.68 L520.35,315.48 L520.53,315.32 L520.72,315.20 L520.90,315.13 L521.09,315.11 L521.27,315.13 L521.46,315.20 L521.64,315.31 L521.83,315.47 L522.01,315.66 L522.20,315.90 L522.38,316.17 L522.57,316.48 L522.75,316.82 L522.94,317.20 L523.12,317.60 L523.31,318.02 L523.49,318.47 L523.68,318.94 L523.86,319.43 L524.05,319.92 L524.23,320.43 L524.42,320.94 L524.60,321.46 L524.79,321.97 L524.97,322.49 L525.16,322.99 L525.34,323.48 L525.53,323.96 L525.71,324.42 L525.90,324.87 L526.09,325.29 L526.27,325.68 L526.46,326.05 L526.64,326.39 L526.83,326.70 L527.01,326.98 L527.20,327.22 L527.38,327.43 L527.57,327.60 L527.75,327.73 L527.94,327.83 L528.12,327.89 L528.31,327.90 L528.49,327.89 L528.68,327.83 L528.86,327.74 L529.05,327.61 L529.23,327.45 L529.42,327.25 L529.60,327.03 L529.79,326.77 L529.97,326.48 L530.16,326.17 L530.34,325.84 L530.53,325.49 L530.71,325.11 L530.90,324.72 L531.08,324.32 L531.27,323.91 L531.45,323.49 L531.64,323.06 L531.82,322.63 L532.01,322.20 L532.19,321.78 L532.38,321.36 L532.57,320.95 L532.75,320.55 L532.94,320.17 L533.12,319.80 L533.31,319.45 L533.49,319.12 L533.68,318.82 L533.86,318.53 L534.05,318.28 L534.23,318.05 L534.42,317.85 L534.60,317.67 L534.79,317.53 L534.97,317.42 L535.16,317.34 L535.34,317.29 L535.53,317.28 L535.71,317.29 L535.90,317.34 L536.08,317.42 L536.27,317.52 L536.45,317.66 L536.64,317.82 L536.82,318.01 L537.01,318.22 L537.19,318.46 L537.38,318.72 L537.56,318.99 L537.75,319.29 L537.93,319.60 L538.12,319.92 L538.30,320.26 L538.49,320.60 L538.67,320.95 L538.86,321.30 L539.05,321.66 L539.23,322.01 L539.42,322.37 L539.60,322.71 L539.79,323.05 L539.97,323.38 L540.16,323.70 L540.34,324.01 L540.53,324.30 L540.71,324.57 L540.90,324.83 L541.08,325.06 L541.27,325.28 L541.45,325.47 L541.64,325.63 L541.82,325.78 L542.01,325.89 L542.19,325.99 L542.38,326.05 L542.56,326.09 L542.75,326.10 L542.93,326.09 L543.12,326.05 L543.30,325.99 L543.49,325.90 L543.67,325.79 L543.86,325.65 L544.04,325.50 L544.23,325.32 L544.41,325.12 L544.60,324.91 L544.78,324.68 L544.97,324.44 L545.15,324.18 L545.34,323.91 L545.52,323.63 L545.71,323.35 L545.90,323.06 L546.08,322.76 L546.27,322.47 L546.45,322.17 L546.64,321.88 L546.82,321.59 L547.01,321.31 L547.19,321.03 L547.38,320.77 L547.56,320.51 L547.75,320.27 L547.93,320.05 L548.12,319.83 L548.30,319.64 L548.49,319.46 L548.67,319.30 L548.86,319.17 L549.04,319.05 L549.23,318.95 L549.41,318.87 L549.60,318.82 L549.78,318.79 L549.97,318.77 L550.15,318.78 L550.34,318.82 L550.52,318.87 L550.71,318.94 L550.89,319.04 L551.08,319.15 L551.26,319.28 L551.45,319.42 L551.63,319.59 L551.82,319.77 L552.00,319.96 L552.19,320.16 L552.38,320.37 L552.56,320.60 L552.75,320.83 L552.93,321.06 L553.12,321.31 L553.30,321.55 L553.49,321.80 L553.67,322.04 L553.86,322.28 L554.04,322.52 L554.23,322.76 L554.41,322.99 L554.60,323.21 L554.78,323.42 L554.97,323.62 L555.15,323.81 L555.34,323.98 L555.52,324.14 L555.71,324.29 L555.89,324.42 L556.08,324.54 L556.26,324.64 L556.45,324.72 L556.63,324.78 L556.82,324.83 L557.00,324.85 L557.19,324.86 L557.37,324.85 L557.56,324.83 L557.74,324.78 L557.93,324.72 L558.11,324.65 L558.30,324.55 L558.48,324.44 L558.67,324.32 L558.86,324.19 L559.04,324.04 L559.23,323.88 L559.41,323.71 L559.60,323.53 L559.78,323.35 L559.97,323.16 L560.15,322.96 L560.34,322.76 L560.52,322.56 L560.71,322.35 L560.89,322.15 L561.08,321.95 L561.26,321.75 L561.45,321.55 L561.63,321.36 L561.82,321.18 L562.00,321.01 L562.19,320.84 L562.37,320.68 L562.56,320.54 L562.74,320.40 L562.93,320.28 L563.11,320.17 L563.30,320.08 L563.48,319.99 L563.67,319.93 L563.85,319.87 L564.04,319.84 L564.22,319.81 L564.41,319.81 L564.59,319.81 L564.78,319.83 L564.96,319.87 L565.15,319.92 L565.33,319.99 L565.52,320.06 L565.71,320.15 L565.89,320.25 L566.08,320.37 L566.26,320.49 L566.45,320.62 L566.63,320.76 L566.82,320.91 L567.00,321.06 L567.19,321.22 L567.37,321.39 L567.56,321.55 L567.74,321.72 L567.93,321.89 L568.11,322.06 L568.30,322.23 L568.48,322.39 L568.67,322.55 L568.85,322.71 L569.04,322.86 L569.22,323.01 L569.41,323.15 L569.59,323.28 L569.78,323.40 L569.96,323.51 L570.15,323.61 L570.33,323.70 L570.52,323.78 L570.70,323.85 L570.89,323.91 L571.07,323.95 L571.26,323.98 L571.44,324.00 L571.63,324.01 L571.81,324.00 L572.00,323.98 L572.19,323.95 L572.37,323.91 L572.56,323.86 L572.74,323.79 L572.93,323.72 L573.11,323.63 L573.30,323.54 L573.48,323.44 L573.67,323.33 L573.85,323.21 L574.04,323.09 L574.22,322.96 L574.41,322.83 L574.59,322.69 L574.78,322.55 L574.96,322.42 L575.15,322.27 L575.33,322.13 L575.52,321.99 L575.70,321.86 L575.89,321.72 L576.07,321.59 L576.26,321.47 L576.44,321.35 L576.63,321.23 L576.81,321.12 L577.00,321.02 L577.18,320.93 L577.37,320.84 L577.55,320.77 L577.74,320.70 L577.92,320.65 L578.11,320.60 L578.29,320.56 L578.48,320.54 L578.66,320.52 L578.85,320.52 L579.04,320.52 L579.22,320.54 L579.41,320.56 L579.59,320.60 L579.78,320.64 L579.96,320.70 L580.15,320.76 L580.33,320.83 L580.52,320.90 L580.70,320.99 L580.89,321.08 L581.07,321.18 L581.26,321.28 L581.44,321.38 L581.63,321.49 L581.81,321.61 L582.00,321.72 L582.18,321.84 L582.37,321.96 L582.55,322.07 L582.74,322.19 L582.92,322.30 L583.11,322.41 L583.29,322.52 L583.48,322.63 L583.66,322.73 L583.85,322.82 L584.03,322.91 L584.22,323.00 L584.40,323.07 L584.59,323.14 L584.77,323.21 L584.96,323.26 L585.14,323.31 L585.33,323.35 L585.52,323.38 L585.70,323.40 L585.89,323.41 L586.07,323.41 L586.26,323.41 L586.44,323.40 L586.63,323.38 L586.81,323.35 L587.00,323.31 L587.18,323.27 L587.37,323.22 L587.55,323.16 L587.74,323.09 L587.92,323.02 L588.11,322.95 L588.29,322.87 L588.48,322.78 L588.66,322.69 L588.85,322.60 L589.03,322.51 L589.22,322.41 L589.40,322.32 L589.59,322.22 L589.77,322.12 L589.96,322.03 L590.14,321.93 L590.33,321.84 L590.51,321.75 L590.70,321.66 L590.88,321.58 L591.07,321.50 L591.25,321.43 L591.44,321.36 L591.62,321.29 L591.81,321.23 L592.00,321.18 L592.18,321.14 L592.37,321.10 L592.55,321.07 L592.74,321.04 L592.92,321.02 L593.11,321.01 L593.29,321.01 L593.48,321.01 L593.66,321.02 L593.85,321.04 L594.03,321.06 L594.22,321.09 L594.40,321.13 L594.59,321.17 L594.77,321.22 L594.96,321.28 L595.14,321.33 L595.33,321.40 L595.51,321.46 L595.70,321.53 L595.88,321.61 L596.07,321.68 L596.25,321.76 L596.44,321.84 L596.62,321.92 L596.81,322.00 L596.99,322.08 L597.18,322.16 L597.36,322.24 L597.55,322.32 L597.73,322.39 L597.92,322.46 L598.10,322.53 L598.29,322.60 L598.47,322.66 L598.66,322.72 L598.85,322.77 L599.03,322.82 L599.22,322.86 L599.40,322.90 L599.59,322.93 L599.77,322.96 L599.96,322.98 L600.14,322.99 L600.33,323.00 L600.51,323.01 L600.70,323.00 L600.88,323.00 L601.07,322.98 L601.25,322.96 L601.44,322.94 L601.62,322.91 L601.81,322.87 L601.99,322.83 L602.18,322.78 L602.36,322.74 L602.55,322.68 L602.73,322.63 L602.92,322.57 L603.10,322.51 L603.29,322.45 L603.47,322.38 L603.66,322.32 L603.84,322.25 L604.03,322.18 L604.21,322.12 L604.40,322.05 L604.58,321.98 L604.77,321.92 L604.95,321.86 L605.14,321.80 L605.33,321.74 L605.51,321.69 L605.70,321.63 L605.88,321.59 L606.07,321.54 L606.25,321.50 L606.44,321.47 L606.62,321.44 L606.81,321.41 L606.99,321.39 L607.18,321.37 L607.36,321.36 L607.55,321.35 L607.73,321.35 L607.92,321.35 L608.10,321.36 L608.29,321.37 L608.47,321.38 L608.66,321.41 L608.84,321.43 L609.03,321.46 L609.21,321.49 L609.40,321.53 L609.58,321.57 L609.77,321.61 L609.95,321.66 L610.14,321.71 L610.32,321.76 L610.51,321.81 L610.69,321.87 L610.88,321.92 L611.06,321.98 L611.25,322.03 L611.43,322.09 L611.62,322.14 L611.81,322.20 L611.99,322.25 L612.18,322.30 L612.36,322.35 L612.55,322.40 L612.73,322.44 L612.92,322.49 L613.10,322.53 L613.29,322.56 L613.47,322.60 L613.66,322.63 L613.84,322.65 L614.03,322.67 L614.21,322.69 L614.40,322.71 L614.58,322.72 L614.77,322.72 L614.95,322.73 L615.14,322.72 L615.32,322.72 L615.51,322.71 L615.69,322.69 L615.88,322.68 L616.06,322.66 L616.25,322.63 L616.43,322.60 L616.62,322.57 L616.80,322.54 L616.99,322.50 L617.17,322.46 L617.36,322.42 L617.54,322.38 L617.73,322.34 L617.91,322.29 L618.10,322.25 L618.28,322.20 L618.47,322.16 L618.66,322.11 L618.84,322.07 L619.03,322.02 L619.21,321.98 L619.40,321.93 L619.58,321.89 L619.77,321.85 L619.95,321.81 L620.14,321.78 L620.32,321.75 L620.51,321.72 L620.69,321.69 L620.88,321.66 L621.06,321.64 L621.25,321.62 L621.43,321.61 L621.62,321.60 L621.80,321.59 L621.99,321.58 L622.17,321.58 L622.36,321.58 L622.54,321.59 L622.73,321.60 L622.91,321.61 L623.10,321.62 L623.28,321.64 L623.47,321.66 L623.65,321.68 L623.84,321.71 L624.02,321.74 L624.21,321.77 L624.39,321.80 L624.58,321.83 L624.76,321.87 L624.95,321.90 L625.14,321.94 L625.32,321.98 L625.51,322.01 L625.69,322.05 L625.88,322.09 L626.06,322.13 L626.25,322.17 L626.43,322.20 L626.62,322.24 L626.80,322.27 L626.99,322.31 L627.17,322.34 L627.36,322.37 L627.54,322.39 L627.73,322.42 L627.91,322.44 L628.10,322.46 L628.28,322.48 L628.47,322.50 L628.65,322.51 L628.84,322.52 L629.02,322.53 L629.21,322.53 L629.39,322.53 L629.58,322.53 L629.76,322.53 L629.95,322.52 L630.13,322.51 L630.32,322.50 L630.50,322.48 L630.69,322.47 L630.87,322.45 L631.06,322.43 L631.24,322.40 L631.43,322.38 L631.62,322.35 L631.80,322.32 L631.99,322.29 L632.17,322.27 L632.36,322.23 L632.54,322.20 L632.73,322.17 L632.91,322.14 L633.10,322.11 L633.28,322.08 L633.47,322.05 L633.65,322.01 L633.84,321.99 L634.02,321.96 L634.21,321.93 L634.39,321.90 L634.58,321.88 L634.76,321.86 L634.95,321.83 L635.13,321.82 L635.32,321.80 L635.50,321.78 L635.69,321.77 L635.87,321.76 L636.06,321.75 L636.24,321.75 L636.43,321.74 L636.61,321.74 L636.80,321.74 L636.98,321.75 L637.17,321.75 L637.35,321.76 L637.54,321.77 L637.72,321.78 L637.91,321.80 L638.09,321.81 L638.28,321.83 L638.47,321.85 L638.65,321.87 L638.84,321.89 L639.02,321.91 L639.21,321.94 L639.39,321.96 L639.58,321.99 L639.76,322.01 L639.95,322.04 L640.13,322.07 L640.32,322.09 L640.50,322.12 L640.69,322.15 L640.87,322.17 L641.06,322.20 L641.24,322.22 L641.43,322.24 L641.61,322.26 L641.80,322.28 L641.98,322.30 L642.17,322.32 L642.35,322.34 L642.54,322.35 L642.72,322.36 L642.91,322.37 L643.09,322.38 L643.28,322.39 L643.46,322.39 L643.65,322.40 L643.83,322.40 L644.02,322.40 L644.20,322.39 L644.39,322.39 L644.57,322.38 L644.76,322.37 L644.95,322.36 L645.13,322.35 L645.32,322.34 L645.50,322.32 L645.69,322.31 L645.87,322.29 L646.06,322.27 L646.24,322.25 L646.43,322.23 L646.61,322.21 L646.80,322.19 L646.98,322.17 L647.17,322.15 L647.35,322.13 L647.54,322.11 L647.72,322.08 L647.91,322.06 L648.09,322.04 L648.28,322.02 L648.46,322.00 L648.65,321.98 L648.83,321.96 L649.02,321.95 L649.20,321.93 L649.39,321.92 L649.57,321.90 L649.76,321.89 L649.94,321.88 L650.13,321.87 L650.31,321.87 L650.50,321.86 L650.68,321.86 L650.87,321.85 L651.05,321.85 L651.24,321.85 L651.42,321.86 L651.61,321.86 L651.80,321.87 L651.98,321.87 L652.17,321.88 L652.35,321.89 L652.54,321.90 L652.72,321.91 L652.91,321.93 L653.09,321.94 L653.28,321.96 L653.46,321.97 L653.65,321.99 L653.83,322.01 L654.02,322.02 L654.20,322.04 L654.39,322.06 L654.57,322.08 L654.76,322.10 L654.94,322.11 L655.13,322.13 L655.31,322.15 L655.50,322.17 L655.68,322.18 L655.87,322.20 L656.05,322.21 L656.24,322.23 L656.42,322.24 L656.61,322.25 L656.79,322.26 L656.98,322.27 L657.16,322.28 L657.35,322.29 L657.53,322.29 L657.72,322.30 L657.90,322.30 L658.09,322.30 L658.28,322.31 L658.46,322.30 L658.65,322.30 L658.83,322.30 L659.02,322.29 L659.20,322.29 L659.39,322.28 L659.57,322.27 L659.76,322.27 L659.94,322.26 L660.13,322.24 L660.31,322.23 L660.50,322.22 L660.68,322.21 L660.87,322.19 L661.05,322.18 L661.24,322.16 L661.42,322.15 L661.61,322.13 L661.79,322.12 L661.98,322.10 L662.16,322.09 L662.35,322.07 L662.53,322.06 L662.72,322.05 L662.90,322.03 L663.09,322.02 L663.27,322.01 L663.46,321.99 L663.64,321.98 L663.83,321.97 L664.01,321.96 L664.20,321.96 L664.38,321.95 L664.57,321.94 L664.76,321.94 L664.94,321.93 L665.13,321.93 L665.31,321.93 L665.50,321.93 L665.68,321.93 L665.87,321.93 L666.05,321.93 L666.24,321.94 L666.42,321.94 L666.61,321.95 L666.79,321.96 L666.98,321.96 L667.16,321.97 L667.35,321.98 L667.53,321.99 L667.72,322.00 L667.90,322.01 L668.09,322.02 L668.27,322.03 L668.46,322.05 L668.64,322.06 L668.83,322.07 L669.01,322.08 L669.20,322.10 L669.38,322.11 L669.57,322.12 L669.75,322.13 L669.94,322.15 L670.12,322.16 L670.31,322.17 L670.49,322.18 L670.68,322.19 L670.86,322.20 L671.05,322.20 L671.23,322.21 L671.42,322.22 L671.61,322.23 L671.79,322.23 L671.98,322.23 L672.16,322.24 L672.35,322.24 L672.53,322.24 L672.72,322.24 L672.90,322.24 L673.09,322.24 L673.27,322.24 L673.46,322.23 L673.64,322.23 L673.83,322.23 L674.01,322.22 L674.20,322.21 L674.38,322.21 L674.57,322.20 L674.75,322.19 L674.94,322.18 L675.12,322.17 L675.31,322.16 L675.49,322.15 L675.68,322.14 L675.86,322.13 L676.05,322.12 L676.23,322.11 L676.42,322.10 L676.60,322.09 L676.79,322.08 L676.97,322.07 L677.16,322.06 L677.34,322.05 L677.53,322.04 L677.71,322.04 L677.90,322.03 L678.09,322.02 L678.27,322.01 L678.46,322.01 L678.64,322.00 L678.83,322.00 L679.01,321.99 L679.20,321.99 L679.38,321.99 L679.57,321.98 L679.75,321.98 L679.94,321.98 L680.12,321.98 L680.31,321.98 L680.49,321.99 L680.68,321.99 L680.86,321.99 L681.05,322.00 L681.23,322.00 L681.42,322.01 L681.60,322.01 L681.79,322.02 L681.97,322.02 L682.16,322.03 L682.34,322.04 L682.53,322.05 L682.71,322.05 L682.90,322.06 L683.08,322.07 L683.27,322.08 L683.45,322.09 L683.64,322.10 L683.82,322.11 L684.01,322.11 L684.19,322.12 L684.38,322.13 L684.57,322.14 L684.75,322.15 L684.94,322.15 L685.12,322.16 L685.31,322.17 L685.49,322.17 L685.68,322.18 L685.86,322.18 L686.05,322.19 L686.23,322.19 L686.42,322.19 L686.60,322.19 L686.79,322.20 L686.97,322.20 L687.16,322.20 L687.34,322.20 L687.53,322.20 L687.71,322.19 L687.90,322.19 L688.08,322.19 L688.27,322.19 L688.45,322.18 L688.64,322.18 L688.82,322.17 L689.01,322.17 L689.19,322.16 L689.38,322.16 L689.56,322.15 L689.75,322.14 L689.93,322.14 L690.12,322.13 L690.30,322.12 L690.49,322.12 L690.67,322.11 L690.86,322.10 L691.04,322.09 L691.23,322.09 L691.42,322.08 L691.60,322.07 L691.79,322.07 L691.97,322.06 L692.16,322.06 L692.34,322.05 L692.53,322.04 L692.71,322.04 L692.90,322.04 L693.08,322.03 L693.27,322.03 L693.45,322.03 L693.64,322.02 L693.82,322.02 L694.01,322.02 L694.19,322.02 L694.38,322.02 L694.56,322.02 L694.75,322.02 L694.93,322.02 L695.12,322.02 L695.30,322.03 L695.49,322.03 L695.67,322.03 L695.86,322.03 L696.04,322.04 L696.23,322.04 L696.41,322.05 L696.60,322.05 L696.78,322.06 L696.97,322.06 L697.15,322.07 L697.34,322.07 L697.52,322.08 L697.71,322.09"/>
</g>
<path fill="none" stroke="#000" stroke-width="1.4" d="M420.00,399.60v-3.2 M420.00,228.70v3.2 M429.26,399.60v-1.8 M429.26,228.70v1.8 M438.51,399.60v-1.8 M438.51,228.70v1.8 M447.77,399.60v-1.8 M447.77,228.70v1.8 M457.03,399.60v-1.8 M457.03,228.70v1.8 M466.28,399.60v-3.2 M466.28,228.70v3.2 M475.54,399.60v-1.8 M475.54,228.70v1.8 M484.80,399.60v-1.8 M484.80,228.70v1.8 M494.06,399.60v-1.8 M494.06,228.70v1.8 M503.31,399.60v-1.8 M503.31,228.70v1.8 M512.57,399.60v-3.2 M512.57,228.70v3.2 M521.83,399.60v-1.8 M521.83,228.70v1.8 M531.08,399.60v-1.8 M531.08,228.70v1.8 M540.34,399.60v-1.8 M540.34,228.70v1.8 M549.60,399.60v-1.8 M549.60,228.70v1.8 M558.86,399.60v-3.2 M558.86,228.70v3.2 M568.11,399.60v-1.8 M568.11,228.70v1.8 M577.37,399.60v-1.8 M577.37,228.70v1.8 M586.63,399.60v-1.8 M586.63,228.70v1.8 M595.88,399.60v-1.8 M595.88,228.70v1.8 M605.14,399.60v-3.2 M605.14,228.70v3.2 M614.40,399.60v-1.8 M614.40,228.70v1.8 M623.65,399.60v-1.8 M623.65,228.70v1.8 M632.91,399.60v-1.8 M632.91,228.70v1.8 M642.17,399.60v-1.8 M642.17,228.70v1.8 M651.42,399.60v-3.2 M651.42,228.70v3.2 M660.68,399.60v-1.8 M660.68,228.70v1.8 M669.94,399.60v-1.8 M669.94,228.70v1.8 M679.20,399.60v-1.8 M679.20,228.70v1.8 M688.45,399.60v-1.8 M688.45,228.70v1.8 M697.71,399.60v-3.2 M697.71,228.70v3.2 M413.90,397.30h3.2 M702.90,397.30h-3.2 M413.90,387.90h1.8 M702.90,387.90h-1.8 M413.90,378.50h1.8 M702.90,378.50h-1.8 M413.90,369.10h1.8 M702.90,369.10h-1.8 M413.90,359.70h3.2 M702.90,359.70h-3.2 M413.90,350.30h1.8 M702.90,350.30h-1.8 M413.90,340.90h1.8 M702.90,340.90h-1.8 M413.90,331.50h1.8 M702.90,331.50h-1.8 M413.90,322.10h3.2 M702.90,322.10h-3.2 M413.90,312.70h1.8 M702.90,312.70h-1.8 M413.90,303.30h1.8 M702.90,303.30h-1.8 M413.90,293.90h1.8 M702.90,293.90h-1.8 M413.90,284.50h3.2 M702.90,284.50h-3.2 M413.90,275.10h1.8 M702.90,275.10h-1.8 M413.90,265.70h1.8 M702.90,265.70h-1.8 M413.90,256.30h1.8 M702.90,256.30h-1.8 M413.90,246.90h3.2 M702.90,246.90h-3.2 M413.90,237.50h1.8 M702.90,237.50h-1.8"/>
<rect x="413.9" y="228.7" width="289.00" height="170.90" fill="none" stroke="#000" stroke-width="1.9"/>
<g font-family="Liberation Serif" font-weight="bold" font-size="15.5" fill="#000"><text x="420.00" y="415.20" text-anchor="middle">0</text><text x="466.28" y="415.20" text-anchor="middle">5</text><text x="512.57" y="415.20" text-anchor="middle">10</text><text x="558.86" y="415.20" text-anchor="middle">15</text><text x="605.14" y="415.20" text-anchor="middle">20</text><text x="651.42" y="415.20" text-anchor="middle">25</text><text x="697.71" y="415.20" text-anchor="middle">30</text><text x="411.30" y="252.20" text-anchor="end">0.4</text><text x="411.30" y="289.80" text-anchor="end">0.2</text><text x="411.30" y="327.40" text-anchor="end">0.0</text><rect x="379.90" y="359.00" width="9.3" height="1.4"/><text x="411.30" y="365.00" text-anchor="end">0.2</text><rect x="379.90" y="396.60" width="9.3" height="1.4"/><text x="411.30" y="402.60" text-anchor="end">0.4</text></g>
<text font-family="Liberation Serif" font-weight="bold" font-style="italic" font-size="18" transform="translate(5.2,93.5) rotate(-90)" text-anchor="middle" dominant-baseline="central">u</text>
<text font-family="Liberation Serif" font-weight="bold" font-style="italic" font-size="18" transform="translate(368.3,100.3) rotate(-90)" text-anchor="middle" dominant-baseline="central">u</text>
<text font-family="Liberation Serif" font-weight="bold" font-style="italic" font-size="18" transform="translate(530.2,143.5) rotate(-90)" text-anchor="middle" dominant-baseline="central">u</text>
<text font-family="Liberation Serif" font-weight="bold" font-style="italic" font-size="18" transform="translate(6.0,321.2) rotate(-90)" text-anchor="middle" dominant-baseline="central">u</text>
<text font-family="Liberation Serif" font-weight="bold" font-style="italic" font-size="18" transform="translate(373.0,320.6) rotate(-90)" text-anchor="middle" dominant-baseline="central">u</text>
<text font-family="Liberation Serif" font-weight="bold" font-style="italic" font-size="17" x="193.3" y="209.6" text-anchor="middle">t</text>
<text font-family="Liberation Serif" font-weight="bold" font-style="italic" font-size="17" x="556.1" y="211.1" text-anchor="middle">t</text>
<text font-family="Liberation Serif" font-weight="bold" font-style="italic" font-size="17" x="191.9" y="432.6" text-anchor="middle">t</text>
<text font-family="Liberation Serif" font-weight="bold" font-style="italic" font-size="17" x="558.0" y="431.8" text-anchor="middle">t</text>
<text font-family="Liberation Serif" font-weight="bold" font-size="16" x="95.8" y="26">(a)</text>
<text font-family="Liberation Serif" font-weight="bold" font-size="16" x="447.1" y="25.2">(b)</text>
<text font-family="Liberation Serif" font-weight="bold" font-size="16" x="92.5" y="250">(c)</text>
<text font-family="Liberation Serif" font-weight="bold" font-size="16" x="458.3" y="250.4">(d)</text>
<path d="M265.9,23.5H280.0" stroke="#0000ff" stroke-width="2.3"/><text font-family="Liberation Serif" font-weight="bold" font-style="italic" font-size="14.2" x="284.0" y="26.60">A</text><rect x="296.2" y="21.10" width="7.80" height="1.35"/><rect x="296.2" y="23.90" width="7.80" height="1.35"/><text font-family="Liberation Serif" font-weight="bold" font-size="14.2" x="306.3" y="26.60">0.5</text><path d="M265.9,36.2H280.0" stroke="#ff0000" stroke-width="2.3"/><text font-family="Liberation Serif" font-weight="bold" font-style="italic" font-size="14.2" x="284.0" y="39.30">A</text><rect x="296.2" y="33.80" width="7.80" height="1.35"/><rect x="296.2" y="36.60" width="7.80" height="1.35"/><text font-family="Liberation Serif" font-weight="bold" font-size="14.2" x="306.3" y="39.30">1</text><path d="M265.9,49.0H280.0" stroke="#00a800" stroke-width="2.3"/><text font-family="Liberation Serif" font-weight="bold" font-style="italic" font-size="14.2" x="284.0" y="52.10">A</text><rect x="296.2" y="46.60" width="7.80" height="1.35"/><rect x="296.2" y="49.40" width="7.80" height="1.35"/><text font-family="Liberation Serif" font-weight="bold" font-size="14.2" x="306.3" y="52.10">1.6</text>
<path d="M262.1,246.4H276.3" stroke="#0000ff" stroke-width="2.3"/><text font-family="Liberation Serif" font-weight="bold" font-style="italic" font-size="14.2" x="281.0" y="249.50">F</text><rect x="293.8" y="244.00" width="8.20" height="1.35"/><rect x="293.8" y="246.80" width="8.20" height="1.35"/><text font-family="Liberation Serif" font-weight="bold" font-size="14.2" x="303.4" y="249.50">0.02</text><path d="M262.1,259.6H276.3" stroke="#ff0000" stroke-width="2.3"/><text font-family="Liberation Serif" font-weight="bold" font-style="italic" font-size="14.2" x="281.0" y="262.70">F</text><rect x="293.8" y="257.20" width="8.20" height="1.35"/><rect x="293.8" y="260.00" width="8.20" height="1.35"/><text font-family="Liberation Serif" font-weight="bold" font-size="14.2" x="303.4" y="262.70">0.3</text><path d="M262.1,272.8H276.3" stroke="#00a800" stroke-width="2.3"/><text font-family="Liberation Serif" font-weight="bold" font-style="italic" font-size="14.2" x="281.0" y="275.90">F</text><rect x="293.8" y="270.40" width="8.20" height="1.35"/><rect x="293.8" y="273.20" width="8.20" height="1.35"/><text font-family="Liberation Serif" font-weight="bold" font-size="14.2" x="303.4" y="275.90">0.5</text>
<text font-family="Liberation Serif" font-weight="bold" font-style="italic" font-size="15" transform="translate(594.0,30.3) scale(1.22,1)">α</text>
<rect x="606.5" y="24.80" width="8.50" height="1.4"/><rect x="606.5" y="27.80" width="8.50" height="1.4"/>
<text font-family="Liberation Serif" font-weight="bold" font-size="13.5" letter-spacing="0.2" x="616.6" y="30.6">0.1,</text>
<text font-family="Liberation Serif" font-weight="bold" font-size="13.5" letter-spacing="0.2" x="639.4" y="30.6">0.8,</text>
<text font-family="Liberation Serif" font-weight="bold" font-size="13.5" letter-spacing="0.2" x="661.3" y="30.6">1.5</text>
<text font-family="Liberation Serif" font-weight="bold" font-style="italic" font-size="15" transform="translate(589.2,256.5) scale(1.28,1) skewX(-10)">λ</text>
<rect x="601.8" y="251.40" width="8.30" height="1.3"/><rect x="601.8" y="254.00" width="8.30" height="1.3"/>
<text font-family="Liberation Serif" font-weight="bold" font-size="13.5" letter-spacing="0.15" x="613.3" y="256.6">0.05,</text>
<text font-family="Liberation Serif" font-weight="bold" font-size="13.5" letter-spacing="0.15" x="642.8" y="256.6">0.5,</text>
<text font-family="Liberation Serif" font-weight="bold" font-size="13.5" letter-spacing="0.15" x="664.3" y="256.6">1</text>
</svg>
</body></html>
